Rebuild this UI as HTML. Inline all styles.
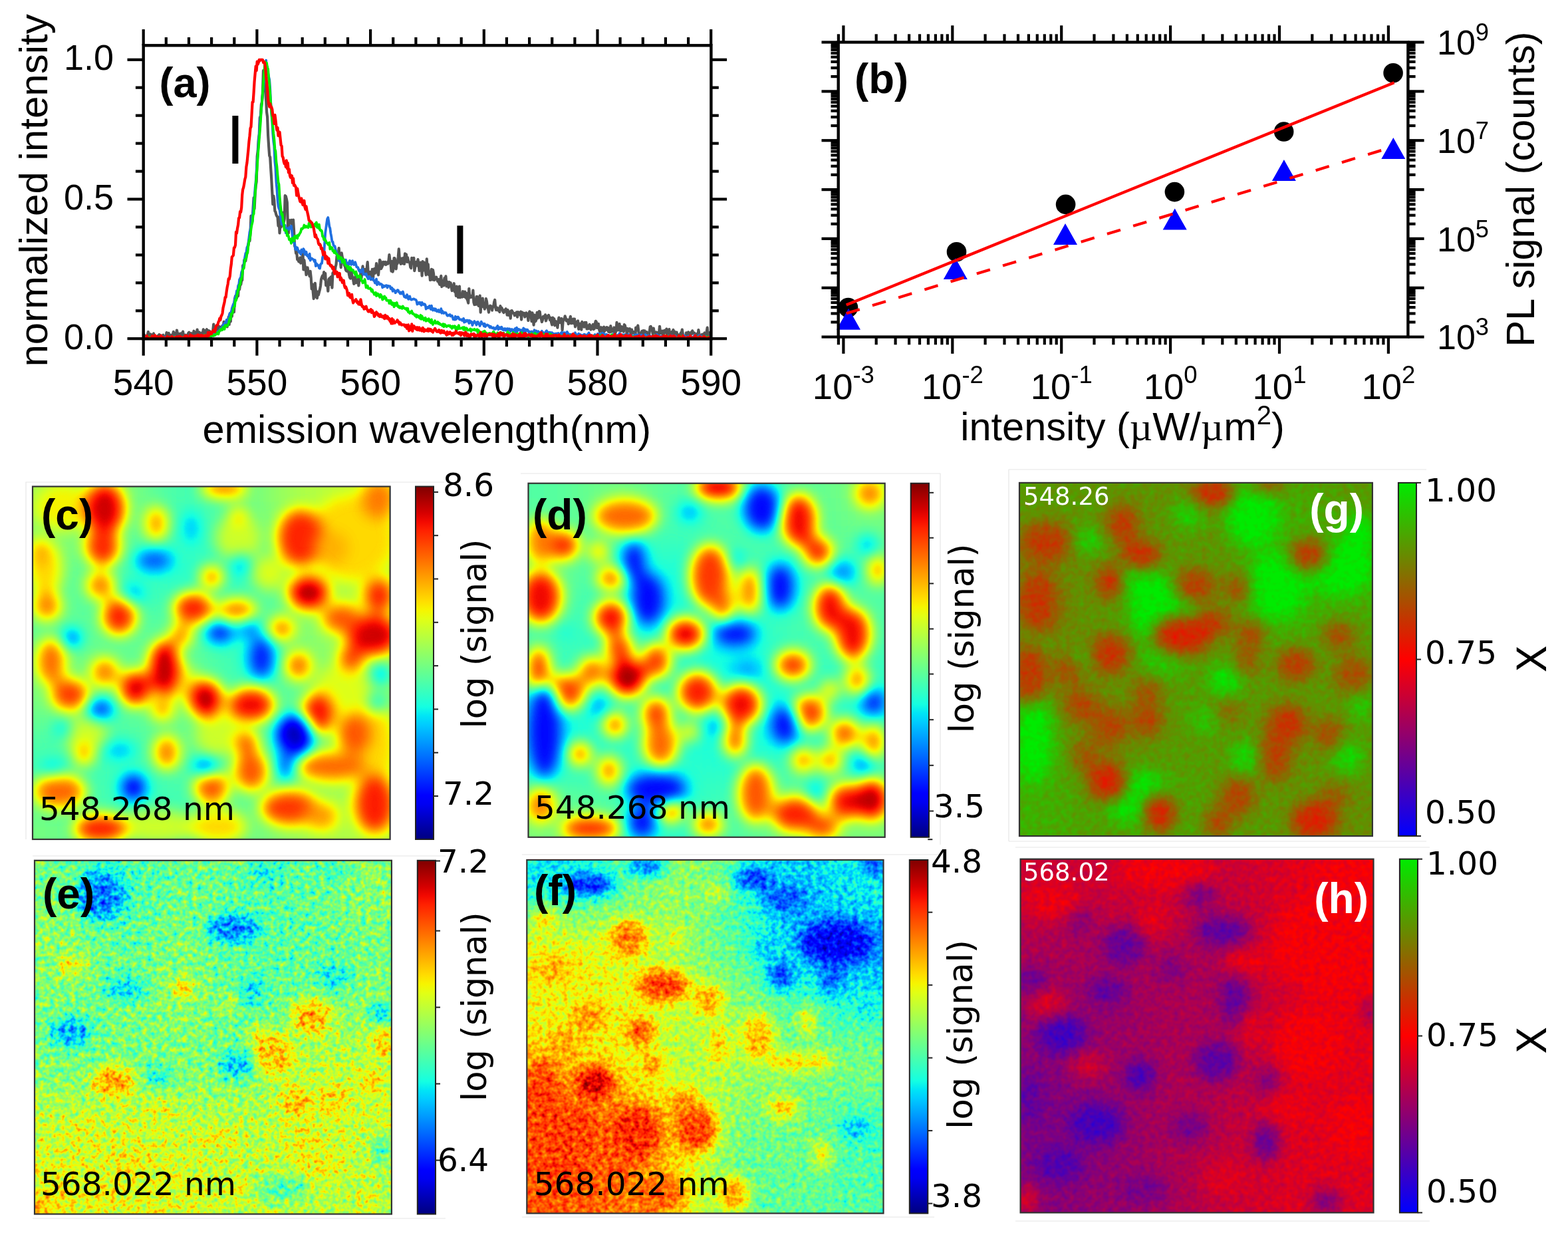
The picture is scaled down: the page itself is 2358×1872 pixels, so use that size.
<!DOCTYPE html>
<html><head><meta charset="utf-8"><title>Figure</title>
<style>html,body{margin:0;padding:0;background:#fff;width:2358px;height:1872px;overflow:hidden}svg{display:block}</style>
</head><body>
<svg width="2358" height="1872" viewBox="0 0 2358 1872">
<rect width="2358" height="1872" fill="#fff"/>
<g>
<path d="M215.7,504.2 L216.7,503.0 L217.7,505.2 L218.8,507.6 L219.8,505.9 L220.8,508.0 L221.8,503.9 L222.9,499.0 L223.9,506.1 L224.9,506.6 L225.9,502.3 L227.0,502.8 L228.0,503.8 L229.0,507.7 L230.0,504.3 L231.1,501.5 L232.1,508.0 L233.1,505.9 L234.1,508.0 L235.2,508.0 L236.2,508.0 L237.2,505.1 L238.2,508.0 L239.3,503.1 L240.3,503.6 L241.3,504.9 L242.3,508.0 L243.4,506.2 L244.4,504.4 L245.4,503.7 L246.4,508.0 L247.5,506.0 L248.5,507.9 L249.5,507.3 L250.5,500.1 L251.5,507.3 L252.6,504.3 L253.6,500.8 L254.6,506.4 L255.6,504.6 L256.7,503.7 L257.7,503.9 L258.7,508.0 L259.7,503.9 L260.8,498.9 L261.8,508.0 L262.8,500.9 L263.8,503.7 L264.9,506.6 L265.9,496.5 L266.9,501.2 L267.9,508.0 L269.0,503.9 L270.0,501.9 L271.0,504.9 L272.0,501.5 L273.1,504.4 L274.1,501.6 L275.1,498.6 L276.1,506.8 L277.2,503.4 L278.2,505.9 L279.2,503.7 L280.2,508.0 L281.2,506.4 L282.3,504.9 L283.3,500.7 L284.3,499.7 L285.3,508.0 L286.4,506.8 L287.4,501.0 L288.4,508.0 L289.4,504.9 L290.5,503.3 L291.5,497.7 L292.5,499.7 L293.5,503.6 L294.6,503.6 L295.6,502.9 L296.6,495.5 L297.6,503.2 L298.7,502.5 L299.7,499.6 L300.7,501.4 L301.7,501.5 L302.8,505.2 L303.8,500.5 L304.8,502.2 L305.8,495.4 L306.9,497.4 L307.9,500.1 L308.9,497.1 L309.9,501.1 L311.0,495.2 L312.0,499.5 L313.0,496.9 L314.0,504.6 L315.0,497.6 L316.1,506.1 L317.1,507.4 L318.1,500.0 L319.1,502.0 L320.2,497.0 L321.2,487.6 L322.2,500.3 L323.2,498.9 L324.3,494.8 L325.3,493.0 L326.3,495.5 L327.3,495.1 L328.4,490.5 L329.4,490.8 L330.4,497.3 L331.4,492.5 L332.5,491.5 L333.5,496.0 L334.5,489.5 L335.5,493.8 L336.6,483.9 L337.6,486.1 L338.6,485.2 L339.6,487.1 L340.7,483.4 L341.7,491.3 L342.7,485.6 L343.7,476.7 L344.7,488.0 L345.8,471.3 L346.8,483.4 L347.8,468.9 L348.8,475.9 L349.9,463.7 L350.9,463.5 L351.9,469.3 L352.9,450.0 L354.0,445.2 L355.0,450.3 L356.0,447.9 L357.0,443.7 L358.1,445.1 L359.1,428.7 L360.1,435.3 L361.1,428.2 L362.2,427.9 L363.2,421.9 L364.2,421.2 L365.2,399.2 L366.3,403.7 L367.3,391.0 L368.3,392.5 L369.3,392.5 L370.4,384.9 L371.4,381.6 L372.4,372.4 L373.4,368.8 L374.5,361.2 L375.5,362.3 L376.5,350.9 L377.5,324.5 L378.5,335.7 L379.6,331.7 L380.6,313.4 L381.6,297.4 L382.6,314.0 L383.7,290.8 L384.7,278.8 L385.7,273.2 L386.7,235.2 L387.8,226.3 L388.8,209.7 L389.8,201.8 L390.8,177.3 L391.9,174.1 L392.9,157.2 L393.9,154.0 L394.9,142.3 L396.0,106.2 L397.0,129.7 L398.0,126.1 L399.0,134.0 L400.1,149.6 L401.1,168.6 L402.1,176.0 L403.1,203.4 L404.2,220.4 L405.2,234.2 L406.2,236.3 L407.2,253.2 L408.2,268.4 L409.3,288.9 L410.3,307.2 L411.3,294.6 L412.3,301.4 L413.4,317.4 L414.4,318.8 L415.4,323.0 L416.4,325.0 L417.5,326.6 L418.5,339.7 L419.5,326.6 L420.5,350.5 L421.6,336.4 L422.6,341.5 L423.6,337.9 L424.6,323.4 L425.7,319.7 L426.7,334.1 L427.7,329.4 L428.7,294.2 L429.8,295.1 L430.8,299.0 L431.8,304.3 L432.8,336.8 L433.9,350.5 L434.9,331.1 L435.9,332.1 L436.9,333.8 L438.0,330.8 L439.0,337.3 L440.0,341.9 L441.0,330.5 L442.0,345.9 L443.1,369.6 L444.1,372.4 L445.1,380.8 L446.1,378.8 L447.2,390.2 L448.2,389.3 L449.2,393.1 L450.2,393.7 L451.3,387.4 L452.3,395.7 L453.3,389.1 L454.3,390.6 L455.4,380.3 L456.4,405.5 L457.4,391.1 L458.4,399.9 L459.5,401.4 L460.5,413.2 L461.5,408.4 L462.5,402.3 L463.6,409.9 L464.6,410.8 L465.6,415.3 L466.6,407.8 L467.7,417.6 L468.7,434.4 L469.7,427.4 L470.7,438.3 L471.7,449.1 L472.8,434.6 L473.8,425.8 L474.8,436.6 L475.8,446.9 L476.9,448.2 L477.9,438.6 L478.9,443.4 L479.9,439.3 L481.0,435.1 L482.0,429.8 L483.0,420.1 L484.0,416.9 L485.1,414.4 L486.1,418.0 L487.1,409.2 L488.1,419.8 L489.2,411.0 L490.2,429.2 L491.2,424.6 L492.2,426.5 L493.3,437.7 L494.3,420.3 L495.3,418.7 L496.3,427.8 L497.4,416.7 L498.4,416.0 L499.4,432.6 L500.4,410.5 L501.5,409.5 L502.5,405.4 L503.5,410.1 L504.5,401.5 L505.5,397.7 L506.6,385.0 L507.6,387.8 L508.6,387.1 L509.6,373.0 L510.7,389.1 L511.7,390.0 L512.7,402.1 L513.7,380.4 L514.8,386.8 L515.8,389.2 L516.8,393.0 L517.8,399.0 L518.9,400.4 L519.9,405.7 L520.9,407.4 L521.9,407.8 L523.0,400.1 L524.0,407.6 L525.0,412.7 L526.0,417.2 L527.1,418.6 L528.1,404.9 L529.1,413.2 L530.1,417.1 L531.2,420.8 L532.2,426.9 L533.2,421.1 L534.2,416.1 L535.3,425.3 L536.3,424.9 L537.3,423.4 L538.3,419.9 L539.3,429.5 L540.4,419.3 L541.4,421.9 L542.4,409.1 L543.4,418.6 L544.5,408.2 L545.5,400.4 L546.5,411.3 L547.5,411.8 L548.6,405.1 L549.6,405.3 L550.6,412.8 L551.6,403.8 L552.7,394.2 L553.7,410.3 L554.7,410.7 L555.7,417.1 L556.8,408.8 L557.8,420.1 L558.8,419.9 L559.8,404.9 L560.9,420.2 L561.9,407.9 L562.9,404.1 L563.9,410.8 L565.0,407.2 L566.0,396.1 L567.0,408.9 L568.0,409.9 L569.0,413.4 L570.1,402.3 L571.1,390.8 L572.1,392.7 L573.1,404.1 L574.2,401.9 L575.2,399.5 L576.2,393.9 L577.2,397.4 L578.3,394.5 L579.3,393.9 L580.3,398.0 L581.3,396.2 L582.4,394.5 L583.4,396.5 L584.4,392.5 L585.4,383.0 L586.5,391.9 L587.5,395.6 L588.5,407.7 L589.5,392.9 L590.6,408.6 L591.6,404.4 L592.6,388.0 L593.6,388.5 L594.7,394.0 L595.7,404.4 L596.7,394.5 L597.7,396.1 L598.8,386.3 L599.8,374.4 L600.8,388.2 L601.8,394.7 L602.8,396.9 L603.9,388.5 L604.9,388.8 L605.9,396.1 L606.9,387.6 L608.0,397.0 L609.0,381.4 L610.0,382.2 L611.0,382.5 L612.1,393.9 L613.1,387.3 L614.1,392.3 L615.1,394.5 L616.2,394.6 L617.2,401.7 L618.2,403.2 L619.2,387.9 L620.3,395.2 L621.3,392.8 L622.3,387.8 L623.3,407.2 L624.4,401.0 L625.4,394.8 L626.4,393.7 L627.4,399.5 L628.5,390.2 L629.5,396.6 L630.5,407.1 L631.5,405.9 L632.5,394.6 L633.6,397.7 L634.6,414.6 L635.6,393.1 L636.6,398.9 L637.7,394.6 L638.7,407.0 L639.7,407.1 L640.7,413.4 L641.8,389.4 L642.8,408.4 L643.8,397.3 L644.8,413.0 L645.9,408.3 L646.9,421.2 L647.9,413.3 L648.9,404.9 L650.0,420.5 L651.0,405.8 L652.0,411.4 L653.0,421.2 L654.1,418.3 L655.1,418.7 L656.1,416.6 L657.1,420.4 L658.2,422.9 L659.2,420.1 L660.2,425.4 L661.2,427.7 L662.3,420.3 L663.3,414.8 L664.3,431.1 L665.3,421.8 L666.3,426.6 L667.4,429.3 L668.4,418.1 L669.4,427.6 L670.4,415.3 L671.5,430.5 L672.5,423.6 L673.5,428.2 L674.5,432.1 L675.6,424.2 L676.6,429.5 L677.6,425.3 L678.6,430.1 L679.7,437.2 L680.7,431.6 L681.7,431.3 L682.7,426.2 L683.8,438.5 L684.8,433.7 L685.8,444.8 L686.8,430.7 L687.9,442.1 L688.9,447.2 L689.9,437.0 L690.9,430.5 L692.0,447.3 L693.0,445.2 L694.0,443.7 L695.0,446.7 L696.0,438.1 L697.1,445.9 L698.1,446.0 L699.1,438.7 L700.1,447.3 L701.2,440.6 L702.2,449.5 L703.2,451.4 L704.2,455.6 L705.3,434.0 L706.3,447.5 L707.3,444.6 L708.3,446.8 L709.4,446.1 L710.4,447.2 L711.4,436.7 L712.4,454.6 L713.5,458.1 L714.5,455.4 L715.5,457.7 L716.5,446.0 L717.6,446.1 L718.6,457.0 L719.6,459.9 L720.6,454.4 L721.7,444.7 L722.7,469.6 L723.7,450.7 L724.7,460.4 L725.8,448.7 L726.8,461.4 L727.8,457.3 L728.8,464.7 L729.8,462.2 L730.9,449.2 L731.9,452.9 L732.9,460.3 L733.9,463.5 L735.0,469.6 L736.0,461.4 L737.0,459.7 L738.0,460.2 L739.1,460.6 L740.1,466.6 L741.1,460.9 L742.1,461.0 L743.2,453.9 L744.2,451.0 L745.2,462.4 L746.2,466.2 L747.3,462.5 L748.3,465.8 L749.3,466.8 L750.3,463.3 L751.4,469.0 L752.4,460.2 L753.4,464.3 L754.4,462.7 L755.5,465.3 L756.5,468.6 L757.5,470.0 L758.5,466.4 L759.6,468.4 L760.6,464.4 L761.6,465.9 L762.6,473.6 L763.6,466.1 L764.7,474.0 L765.7,470.3 L766.7,468.8 L767.7,478.7 L768.8,467.3 L769.8,467.2 L770.8,469.2 L771.8,470.8 L772.9,470.8 L773.9,474.3 L774.9,470.8 L775.9,472.6 L777.0,469.4 L778.0,476.6 L779.0,469.2 L780.0,469.9 L781.1,471.7 L782.1,473.6 L783.1,468.6 L784.1,480.6 L785.2,469.6 L786.2,471.0 L787.2,471.1 L788.2,470.8 L789.3,476.5 L790.3,474.7 L791.3,470.3 L792.3,471.5 L793.3,472.9 L794.4,482.0 L795.4,471.5 L796.4,468.4 L797.4,469.4 L798.5,473.6 L799.5,483.1 L800.5,470.3 L801.5,476.1 L802.6,488.6 L803.6,473.7 L804.6,483.5 L805.6,482.7 L806.7,479.5 L807.7,469.8 L808.7,478.5 L809.7,475.3 L810.8,468.0 L811.8,468.9 L812.8,477.8 L813.8,478.6 L814.9,484.0 L815.9,481.3 L816.9,475.8 L817.9,476.1 L819.0,477.7 L820.0,473.4 L821.0,482.5 L822.0,479.1 L823.1,475.3 L824.1,476.2 L825.1,473.9 L826.1,477.5 L827.1,481.2 L828.2,478.0 L829.2,485.0 L830.2,488.4 L831.2,477.5 L832.3,480.8 L833.3,479.2 L834.3,489.3 L835.3,482.9 L836.4,484.2 L837.4,485.7 L838.4,492.7 L839.4,483.4 L840.5,477.5 L841.5,480.2 L842.5,485.2 L843.5,482.5 L844.6,478.9 L845.6,496.3 L846.6,483.6 L847.6,480.5 L848.7,480.1 L849.7,475.3 L850.7,478.3 L851.7,482.5 L852.8,482.8 L853.8,480.6 L854.8,487.2 L855.8,485.0 L856.8,480.7 L857.9,475.8 L858.9,486.2 L859.9,485.9 L860.9,484.9 L862.0,479.6 L863.0,486.4 L864.0,479.5 L865.0,491.3 L866.1,487.8 L867.1,488.0 L868.1,483.6 L869.1,482.6 L870.2,494.9 L871.2,492.2 L872.2,486.5 L873.2,491.4 L874.3,495.7 L875.3,483.9 L876.3,486.6 L877.3,486.9 L878.4,491.6 L879.4,484.8 L880.4,490.9 L881.4,484.9 L882.5,494.4 L883.5,494.3 L884.5,489.7 L885.5,494.0 L886.6,487.9 L887.6,490.0 L888.6,495.6 L889.6,491.3 L890.6,493.4 L891.7,487.9 L892.7,495.1 L893.7,494.4 L894.7,487.2 L895.8,482.8 L896.8,484.1 L897.8,493.0 L898.8,492.5 L899.9,486.8 L900.9,494.5 L901.9,498.4 L902.9,493.7 L904.0,492.2 L905.0,498.0 L906.0,501.7 L907.0,500.8 L908.1,491.6 L909.1,497.9 L910.1,495.3 L911.1,493.8 L912.2,492.1 L913.2,496.3 L914.2,492.7 L915.2,498.9 L916.3,496.7 L917.3,499.6 L918.3,490.2 L919.3,495.4 L920.3,498.6 L921.4,497.0 L922.4,496.4 L923.4,492.5 L924.4,502.6 L925.5,500.2 L926.5,497.4 L927.5,484.8 L928.5,491.7 L929.6,496.4 L930.6,492.9 L931.6,487.1 L932.6,497.2 L933.7,497.8 L934.7,491.0 L935.7,494.2 L936.7,493.5 L937.8,498.7 L938.8,488.2 L939.8,489.2 L940.8,494.3 L941.9,493.8 L942.9,505.6 L943.9,494.2 L944.9,497.8 L946.0,495.2 L947.0,494.2 L948.0,498.7 L949.0,504.5 L950.1,495.7 L951.1,500.6 L952.1,498.9 L953.1,500.1 L954.1,499.1 L955.2,507.5 L956.2,492.5 L957.2,496.7 L958.2,493.1 L959.3,489.5 L960.3,497.9 L961.3,505.7 L962.3,502.0 L963.4,503.3 L964.4,500.4 L965.4,498.0 L966.4,506.9 L967.5,497.1 L968.5,505.0 L969.5,497.4 L970.5,499.2 L971.6,500.1 L972.6,499.2 L973.6,501.2 L974.6,501.6 L975.7,506.1 L976.7,499.3 L977.7,491.5 L978.7,491.0 L979.8,493.8 L980.8,496.5 L981.8,502.3 L982.8,493.6 L983.8,499.9 L984.9,500.0 L985.9,501.0 L986.9,499.5 L987.9,501.7 L989.0,500.3 L990.0,504.6 L991.0,501.7 L992.0,490.8 L993.1,500.6 L994.1,501.3 L995.1,498.2 L996.1,497.6 L997.2,505.1 L998.2,501.5 L999.2,496.9 L1000.2,499.7 L1001.3,500.4 L1002.3,494.6 L1003.3,503.8 L1004.3,500.7 L1005.4,503.2 L1006.4,495.1 L1007.4,508.0 L1008.4,504.1 L1009.5,503.6 L1010.5,498.8 L1011.5,499.1 L1012.5,496.0 L1013.6,508.0 L1014.6,498.7 L1015.6,502.9 L1016.6,504.4 L1017.6,499.6 L1018.7,505.5 L1019.7,508.0 L1020.7,503.3 L1021.7,507.9 L1022.8,504.5 L1023.8,500.4 L1024.8,500.7 L1025.8,495.6 L1026.9,502.8 L1027.9,508.0 L1028.9,505.0 L1029.9,505.7 L1031.0,506.9 L1032.0,500.3 L1033.0,504.7 L1034.0,508.0 L1035.1,499.4 L1036.1,502.6 L1037.1,500.8 L1038.1,501.8 L1039.2,499.7 L1040.2,502.1 L1041.2,497.4 L1042.2,500.6 L1043.3,500.8 L1044.3,500.7 L1045.3,508.0 L1046.3,503.1 L1047.4,503.5 L1048.4,501.6 L1049.4,507.9 L1050.4,496.0 L1051.4,502.1 L1052.5,507.3 L1053.5,508.0 L1054.5,503.7 L1055.5,503.0 L1056.6,505.5 L1057.6,502.3 L1058.6,505.2 L1059.6,500.5 L1060.7,505.6 L1061.7,502.9 L1062.7,498.9 L1063.7,492.6 L1064.8,506.8 L1065.8,504.7 L1066.8,506.2 L1067.8,499.8 L1068.9,507.4" fill="none" stroke="#555555" stroke-width="4.2" stroke-linejoin="round"/>
<path d="M215.7,508.0 L216.7,508.0 L217.7,508.0 L218.8,508.0 L219.8,508.0 L220.8,508.0 L221.8,508.0 L222.9,508.0 L223.9,508.0 L224.9,508.0 L225.9,508.0 L227.0,508.0 L228.0,507.4 L229.0,507.7 L230.0,508.0 L231.1,508.0 L232.1,507.6 L233.1,508.0 L234.1,508.0 L235.2,508.0 L236.2,506.6 L237.2,508.0 L238.2,506.9 L239.3,508.0 L240.3,507.2 L241.3,508.0 L242.3,508.0 L243.4,505.4 L244.4,507.4 L245.4,508.0 L246.4,508.0 L247.5,507.8 L248.5,506.8 L249.5,508.0 L250.5,508.0 L251.5,508.0 L252.6,508.0 L253.6,508.0 L254.6,506.7 L255.6,507.8 L256.7,507.2 L257.7,508.0 L258.7,507.2 L259.7,505.8 L260.8,507.3 L261.8,507.8 L262.8,508.0 L263.8,506.1 L264.9,508.0 L265.9,508.0 L266.9,507.6 L267.9,507.3 L269.0,508.0 L270.0,507.7 L271.0,508.0 L272.0,507.9 L273.1,508.0 L274.1,508.0 L275.1,508.0 L276.1,507.1 L277.2,508.0 L278.2,508.0 L279.2,507.3 L280.2,508.0 L281.2,507.8 L282.3,508.0 L283.3,506.7 L284.3,505.4 L285.3,505.7 L286.4,508.0 L287.4,507.2 L288.4,507.9 L289.4,507.9 L290.5,506.2 L291.5,508.0 L292.5,506.8 L293.5,508.0 L294.6,506.4 L295.6,507.8 L296.6,508.0 L297.6,507.6 L298.7,507.1 L299.7,507.9 L300.7,507.4 L301.7,508.0 L302.8,508.0 L303.8,506.1 L304.8,506.0 L305.8,506.4 L306.9,506.2 L307.9,504.7 L308.9,506.3 L309.9,506.3 L311.0,505.3 L312.0,503.3 L313.0,506.3 L314.0,502.7 L315.0,504.8 L316.1,505.1 L317.1,501.7 L318.1,503.2 L319.1,504.5 L320.2,502.9 L321.2,500.9 L322.2,500.3 L323.2,502.2 L324.3,500.8 L325.3,500.0 L326.3,501.3 L327.3,498.8 L328.4,498.2 L329.4,497.8 L330.4,496.6 L331.4,494.7 L332.5,493.6 L333.5,493.4 L334.5,492.0 L335.5,488.5 L336.6,488.8 L337.6,486.6 L338.6,484.9 L339.6,484.8 L340.7,480.9 L341.7,484.8 L342.7,481.0 L343.7,480.5 L344.7,473.7 L345.8,470.9 L346.8,474.3 L347.8,469.5 L348.8,463.6 L349.9,460.3 L350.9,457.3 L351.9,455.8 L352.9,451.0 L354.0,446.4 L355.0,443.6 L356.0,437.2 L357.0,439.8 L358.1,429.6 L359.1,428.9 L360.1,420.5 L361.1,418.8 L362.2,416.1 L363.2,409.0 L364.2,407.5 L365.2,403.1 L366.3,400.2 L367.3,392.3 L368.3,386.7 L369.3,381.0 L370.4,379.4 L371.4,372.1 L372.4,370.2 L373.4,365.7 L374.5,357.0 L375.5,348.8 L376.5,345.4 L377.5,338.2 L378.5,331.1 L379.6,323.5 L380.6,319.2 L381.6,305.1 L382.6,296.4 L383.7,281.4 L384.7,272.5 L385.7,256.5 L386.7,243.5 L387.8,232.4 L388.8,211.3 L389.8,202.8 L390.8,184.8 L391.9,173.8 L392.9,165.5 L393.9,153.7 L394.9,140.5 L396.0,131.3 L397.0,120.9 L398.0,111.7 L399.0,106.5 L400.1,90.6 L401.1,103.4 L402.1,100.2 L403.1,109.9 L404.2,115.8 L405.2,119.9 L406.2,133.3 L407.2,154.1 L408.2,170.2 L409.3,183.0 L410.3,201.2 L411.3,212.7 L412.3,219.8 L413.4,243.0 L414.4,252.9 L415.4,273.9 L416.4,284.1 L417.5,300.8 L418.5,310.2 L419.5,313.6 L420.5,315.5 L421.6,324.8 L422.6,330.2 L423.6,337.0 L424.6,334.7 L425.7,338.7 L426.7,337.6 L427.7,341.7 L428.7,338.8 L429.8,350.2 L430.8,347.7 L431.8,343.2 L432.8,345.1 L433.9,344.8 L434.9,342.1 L435.9,343.6 L436.9,341.2 L438.0,339.7 L439.0,347.5 L440.0,357.7 L441.0,361.5 L442.0,364.7 L443.1,365.7 L444.1,374.6 L445.1,375.4 L446.1,372.0 L447.2,372.5 L448.2,376.0 L449.2,378.2 L450.2,379.7 L451.3,378.1 L452.3,382.3 L453.3,375.5 L454.3,379.3 L455.4,377.1 L456.4,374.2 L457.4,376.4 L458.4,382.7 L459.5,378.6 L460.5,378.6 L461.5,383.9 L462.5,385.2 L463.6,383.9 L464.6,388.2 L465.6,381.6 L466.6,391.6 L467.7,389.2 L468.7,388.4 L469.7,389.5 L470.7,389.8 L471.7,390.7 L472.8,393.1 L473.8,391.1 L474.8,400.0 L475.8,396.2 L476.9,399.1 L477.9,398.3 L478.9,399.3 L479.9,403.1 L481.0,403.7 L482.0,397.8 L483.0,396.3 L484.0,396.0 L485.1,387.1 L486.1,383.8 L487.1,382.9 L488.1,367.2 L489.2,350.3 L490.2,343.2 L491.2,335.7 L492.2,329.1 L493.3,327.1 L494.3,333.0 L495.3,340.6 L496.3,342.9 L497.4,351.0 L498.4,356.3 L499.4,363.3 L500.4,363.5 L501.5,368.7 L502.5,370.0 L503.5,370.1 L504.5,374.9 L505.5,377.7 L506.6,381.1 L507.6,384.9 L508.6,388.5 L509.6,392.0 L510.7,390.1 L511.7,394.6 L512.7,389.1 L513.7,392.3 L514.8,394.3 L515.8,393.9 L516.8,394.5 L517.8,392.7 L518.9,394.9 L519.9,390.7 L520.9,395.4 L521.9,399.0 L523.0,395.6 L524.0,398.7 L525.0,394.3 L526.0,391.9 L527.1,393.0 L528.1,397.8 L529.1,397.2 L530.1,392.2 L531.2,396.5 L532.2,398.1 L533.2,396.6 L534.2,394.3 L535.3,397.8 L536.3,401.4 L537.3,401.8 L538.3,402.1 L539.3,405.8 L540.4,407.7 L541.4,406.0 L542.4,409.2 L543.4,408.1 L544.5,408.6 L545.5,404.5 L546.5,412.5 L547.5,411.8 L548.6,412.8 L549.6,412.3 L550.6,411.6 L551.6,415.5 L552.7,416.9 L553.7,419.3 L554.7,418.3 L555.7,415.7 L556.8,417.4 L557.8,420.3 L558.8,419.5 L559.8,419.2 L560.9,418.8 L561.9,421.8 L562.9,421.7 L563.9,425.6 L565.0,424.8 L566.0,419.5 L567.0,428.2 L568.0,424.9 L569.0,424.3 L570.1,426.1 L571.1,427.7 L572.1,426.7 L573.1,427.2 L574.2,427.9 L575.2,432.3 L576.2,429.2 L577.2,431.1 L578.3,430.9 L579.3,429.7 L580.3,429.3 L581.3,429.2 L582.4,432.5 L583.4,430.0 L584.4,429.9 L585.4,430.4 L586.5,430.3 L587.5,434.0 L588.5,434.5 L589.5,432.8 L590.6,437.8 L591.6,435.0 L592.6,436.9 L593.6,437.0 L594.7,440.3 L595.7,438.9 L596.7,437.6 L597.7,436.2 L598.8,436.4 L599.8,439.0 L600.8,439.7 L601.8,441.5 L602.8,439.6 L603.9,441.5 L604.9,440.3 L605.9,438.6 L606.9,442.8 L608.0,446.3 L609.0,445.6 L610.0,447.4 L611.0,447.5 L612.1,443.1 L613.1,445.9 L614.1,449.9 L615.1,446.2 L616.2,445.6 L617.2,449.4 L618.2,450.6 L619.2,450.5 L620.3,449.9 L621.3,449.8 L622.3,449.3 L623.3,449.9 L624.4,450.5 L625.4,450.8 L626.4,452.7 L627.4,457.5 L628.5,455.4 L629.5,455.0 L630.5,456.7 L631.5,454.7 L632.5,457.5 L633.6,459.0 L634.6,454.9 L635.6,456.8 L636.6,458.0 L637.7,457.1 L638.7,457.3 L639.7,459.0 L640.7,464.7 L641.8,461.8 L642.8,461.8 L643.8,463.1 L644.8,461.4 L645.9,459.9 L646.9,463.4 L647.9,465.1 L648.9,459.6 L650.0,464.6 L651.0,466.5 L652.0,464.2 L653.0,464.2 L654.1,466.7 L655.1,464.4 L656.1,467.1 L657.1,468.3 L658.2,466.7 L659.2,466.1 L660.2,469.0 L661.2,467.7 L662.3,468.9 L663.3,464.1 L664.3,470.8 L665.3,467.5 L666.3,470.4 L667.4,471.0 L668.4,469.9 L669.4,470.2 L670.4,470.1 L671.5,472.3 L672.5,474.4 L673.5,474.8 L674.5,473.6 L675.6,474.0 L676.6,473.1 L677.6,475.4 L678.6,474.8 L679.7,474.6 L680.7,477.2 L681.7,480.3 L682.7,480.0 L683.8,480.7 L684.8,475.8 L685.8,480.2 L686.8,476.9 L687.9,478.3 L688.9,476.6 L689.9,478.1 L690.9,480.2 L692.0,480.6 L693.0,480.4 L694.0,480.5 L695.0,481.9 L696.0,481.3 L697.1,478.9 L698.1,484.6 L699.1,481.6 L700.1,483.8 L701.2,482.2 L702.2,481.4 L703.2,483.1 L704.2,482.0 L705.3,486.1 L706.3,482.0 L707.3,485.0 L708.3,483.3 L709.4,484.2 L710.4,489.0 L711.4,486.3 L712.4,484.9 L713.5,483.1 L714.5,485.3 L715.5,485.6 L716.5,488.6 L717.6,484.3 L718.6,483.9 L719.6,486.9 L720.6,487.5 L721.7,490.0 L722.7,486.2 L723.7,483.6 L724.7,486.9 L725.8,486.3 L726.8,487.6 L727.8,490.2 L728.8,486.8 L729.8,491.1 L730.9,489.7 L731.9,489.1 L732.9,488.4 L733.9,489.4 L735.0,489.6 L736.0,491.6 L737.0,492.6 L738.0,490.8 L739.1,492.2 L740.1,493.3 L741.1,493.4 L742.1,492.5 L743.2,494.8 L744.2,494.2 L745.2,494.8 L746.2,492.3 L747.3,492.2 L748.3,490.0 L749.3,495.5 L750.3,494.5 L751.4,492.3 L752.4,494.2 L753.4,494.6 L754.4,491.7 L755.5,494.8 L756.5,496.1 L757.5,496.4 L758.5,494.1 L759.6,494.2 L760.6,496.8 L761.6,496.3 L762.6,494.2 L763.6,494.2 L764.7,496.1 L765.7,494.4 L766.7,494.6 L767.7,498.1 L768.8,496.0 L769.8,495.1 L770.8,496.6 L771.8,499.0 L772.9,496.4 L773.9,495.0 L774.9,493.9 L775.9,499.5 L777.0,492.6 L778.0,498.1 L779.0,495.2 L780.0,494.9 L781.1,495.4 L782.1,496.7 L783.1,498.6 L784.1,496.2 L785.2,498.2 L786.2,500.9 L787.2,493.3 L788.2,496.5 L789.3,495.0 L790.3,499.0 L791.3,495.7 L792.3,495.6 L793.3,495.8 L794.4,498.1 L795.4,499.9 L796.4,498.5 L797.4,501.5 L798.5,500.9 L799.5,498.4 L800.5,500.1 L801.5,499.0 L802.6,499.0 L803.6,496.3 L804.6,497.2 L805.6,499.2 L806.7,497.6 L807.7,500.4 L808.7,499.9 L809.7,498.3 L810.8,501.3 L811.8,500.1 L812.8,501.6 L813.8,499.7 L814.9,497.7 L815.9,501.0 L816.9,499.7 L817.9,501.4 L819.0,501.8 L820.0,502.0 L821.0,498.3 L822.0,497.2 L823.1,499.8 L824.1,501.5 L825.1,499.7 L826.1,501.1 L827.1,499.7 L828.2,500.4 L829.2,500.5 L830.2,500.1 L831.2,501.8 L832.3,501.7 L833.3,503.5 L834.3,501.9 L835.3,503.2 L836.4,501.6 L837.4,502.8 L838.4,501.4 L839.4,501.0 L840.5,503.6 L841.5,502.8 L842.5,503.1 L843.5,500.9 L844.6,499.7 L845.6,500.9 L846.6,502.6 L847.6,500.2 L848.7,504.3 L849.7,500.3 L850.7,503.3 L851.7,506.1 L852.8,499.0 L853.8,500.5 L854.8,504.0 L855.8,502.5 L856.8,503.1 L857.9,502.7 L858.9,504.9 L859.9,503.9 L860.9,502.5 L862.0,502.9 L863.0,501.7 L864.0,503.2 L865.0,500.3 L866.1,504.3 L867.1,503.1 L868.1,505.9 L869.1,505.1 L870.2,501.7 L871.2,504.7 L872.2,502.8 L873.2,503.6 L874.3,504.9 L875.3,504.0 L876.3,504.3 L877.3,504.3 L878.4,502.7 L879.4,502.8 L880.4,504.4 L881.4,504.9 L882.5,503.4 L883.5,503.9 L884.5,502.4 L885.5,500.4 L886.6,502.7 L887.6,503.9 L888.6,504.1 L889.6,505.0 L890.6,505.1 L891.7,505.2 L892.7,504.5 L893.7,504.5 L894.7,503.1 L895.8,504.5 L896.8,504.3 L897.8,505.6 L898.8,502.0 L899.9,503.5 L900.9,501.8 L901.9,503.1 L902.9,502.3 L904.0,504.5 L905.0,503.3 L906.0,500.8 L907.0,505.8 L908.1,502.8 L909.1,502.2 L910.1,503.8 L911.1,503.4 L912.2,502.8 L913.2,505.3 L914.2,503.9 L915.2,505.6 L916.3,505.4 L917.3,505.3 L918.3,504.7 L919.3,504.4 L920.3,504.0 L921.4,506.4 L922.4,502.1 L923.4,503.1 L924.4,503.7 L925.5,505.2 L926.5,504.8 L927.5,504.0 L928.5,504.2 L929.6,507.0 L930.6,503.8 L931.6,501.1 L932.6,507.2 L933.7,503.6 L934.7,504.4 L935.7,505.1 L936.7,503.2 L937.8,506.5 L938.8,504.8 L939.8,503.1 L940.8,505.3 L941.9,505.6 L942.9,504.9 L943.9,505.7 L944.9,503.1 L946.0,506.3 L947.0,504.0 L948.0,506.8 L949.0,504.3 L950.1,505.3 L951.1,508.0 L952.1,505.2 L953.1,506.6 L954.1,505.8 L955.2,503.3 L956.2,506.7 L957.2,506.7 L958.2,503.5 L959.3,505.2 L960.3,503.4 L961.3,504.9 L962.3,506.5 L963.4,505.5 L964.4,503.8 L965.4,504.2 L966.4,505.4 L967.5,505.4 L968.5,505.6 L969.5,506.2 L970.5,503.0 L971.6,505.5 L972.6,507.0 L973.6,506.2 L974.6,504.6 L975.7,504.8 L976.7,505.8 L977.7,506.5 L978.7,505.6 L979.8,507.8 L980.8,507.3 L981.8,504.7 L982.8,506.3 L983.8,505.2 L984.9,504.2 L985.9,504.9 L986.9,505.7 L987.9,503.1 L989.0,505.0 L990.0,506.3 L991.0,504.9 L992.0,505.3 L993.1,507.0 L994.1,505.8 L995.1,506.1 L996.1,508.0 L997.2,506.2 L998.2,506.3 L999.2,506.5 L1000.2,508.0 L1001.3,506.5 L1002.3,506.1 L1003.3,505.9 L1004.3,507.5 L1005.4,505.3 L1006.4,507.6 L1007.4,506.4 L1008.4,504.5 L1009.5,507.0 L1010.5,506.8 L1011.5,504.8 L1012.5,506.7 L1013.6,506.6 L1014.6,505.9 L1015.6,504.9 L1016.6,508.0 L1017.6,507.3 L1018.7,507.5 L1019.7,507.7 L1020.7,507.4 L1021.7,507.4 L1022.8,506.0 L1023.8,507.5 L1024.8,506.2 L1025.8,505.9 L1026.9,507.3 L1027.9,506.3 L1028.9,504.4 L1029.9,506.1 L1031.0,507.3 L1032.0,506.6 L1033.0,507.7 L1034.0,506.2 L1035.1,505.5 L1036.1,507.6 L1037.1,506.8 L1038.1,505.2 L1039.2,507.2 L1040.2,506.4 L1041.2,507.9 L1042.2,507.7 L1043.3,507.3 L1044.3,504.1 L1045.3,507.2 L1046.3,507.4 L1047.4,507.4 L1048.4,507.0 L1049.4,506.0 L1050.4,506.6 L1051.4,504.4 L1052.5,506.6 L1053.5,505.1 L1054.5,506.5 L1055.5,506.2 L1056.6,508.0 L1057.6,507.1 L1058.6,507.0 L1059.6,507.2 L1060.7,508.0 L1061.7,505.9 L1062.7,507.5 L1063.7,507.5 L1064.8,507.3 L1065.8,507.3 L1066.8,506.6 L1067.8,508.0 L1068.9,508.0" fill="none" stroke="#1f6fe0" stroke-width="3.8" stroke-linejoin="round"/>
<path d="M215.7,508.0 L216.7,508.0 L217.7,508.0 L218.8,508.0 L219.8,508.0 L220.8,508.0 L221.8,507.0 L222.9,508.0 L223.9,506.6 L224.9,507.4 L225.9,508.0 L227.0,507.4 L228.0,508.0 L229.0,508.0 L230.0,508.0 L231.1,508.0 L232.1,508.0 L233.1,508.0 L234.1,508.0 L235.2,508.0 L236.2,507.7 L237.2,508.0 L238.2,508.0 L239.3,508.0 L240.3,508.0 L241.3,508.0 L242.3,508.0 L243.4,508.0 L244.4,507.6 L245.4,507.6 L246.4,508.0 L247.5,508.0 L248.5,508.0 L249.5,507.7 L250.5,508.0 L251.5,506.8 L252.6,508.0 L253.6,508.0 L254.6,507.8 L255.6,507.0 L256.7,507.8 L257.7,507.0 L258.7,508.0 L259.7,506.8 L260.8,506.7 L261.8,508.0 L262.8,506.5 L263.8,507.9 L264.9,508.0 L265.9,508.0 L266.9,508.0 L267.9,507.2 L269.0,508.0 L270.0,507.4 L271.0,507.7 L272.0,507.8 L273.1,508.0 L274.1,508.0 L275.1,507.3 L276.1,508.0 L277.2,508.0 L278.2,508.0 L279.2,507.3 L280.2,508.0 L281.2,507.0 L282.3,508.0 L283.3,507.2 L284.3,508.0 L285.3,507.1 L286.4,508.0 L287.4,508.0 L288.4,505.4 L289.4,508.0 L290.5,508.0 L291.5,508.0 L292.5,508.0 L293.5,506.6 L294.6,506.0 L295.6,508.0 L296.6,508.0 L297.6,506.6 L298.7,506.7 L299.7,507.0 L300.7,506.6 L301.7,508.0 L302.8,507.8 L303.8,508.0 L304.8,508.0 L305.8,505.7 L306.9,507.5 L307.9,503.7 L308.9,506.1 L309.9,506.8 L311.0,504.8 L312.0,503.3 L313.0,504.7 L314.0,506.6 L315.0,504.4 L316.1,502.9 L317.1,505.1 L318.1,505.2 L319.1,502.7 L320.2,503.6 L321.2,505.0 L322.2,503.8 L323.2,504.1 L324.3,502.5 L325.3,502.5 L326.3,500.6 L327.3,500.3 L328.4,502.4 L329.4,498.7 L330.4,497.1 L331.4,496.7 L332.5,494.9 L333.5,496.3 L334.5,495.9 L335.5,492.2 L336.6,494.2 L337.6,494.9 L338.6,489.1 L339.6,490.9 L340.7,489.3 L341.7,490.0 L342.7,489.0 L343.7,486.5 L344.7,482.3 L345.8,478.2 L346.8,479.9 L347.8,471.8 L348.8,472.3 L349.9,469.2 L350.9,463.2 L351.9,461.7 L352.9,460.8 L354.0,450.4 L355.0,451.7 L356.0,445.6 L357.0,441.7 L358.1,435.3 L359.1,435.2 L360.1,428.2 L361.1,428.0 L362.2,420.0 L363.2,419.8 L364.2,414.3 L365.2,404.7 L366.3,403.7 L367.3,399.6 L368.3,390.1 L369.3,389.9 L370.4,388.1 L371.4,379.9 L372.4,380.0 L373.4,369.4 L374.5,362.5 L375.5,360.1 L376.5,353.6 L377.5,344.8 L378.5,338.4 L379.6,334.3 L380.6,323.4 L381.6,321.6 L382.6,304.1 L383.7,290.9 L384.7,277.4 L385.7,262.5 L386.7,253.6 L387.8,233.9 L388.8,222.1 L389.8,209.3 L390.8,197.5 L391.9,182.7 L392.9,163.5 L393.9,155.5 L394.9,140.0 L396.0,124.5 L397.0,112.4 L398.0,98.5 L399.0,92.9 L400.1,97.6 L401.1,94.9 L402.1,102.1 L403.1,104.0 L404.2,118.3 L405.2,127.5 L406.2,141.9 L407.2,155.6 L408.2,167.8 L409.3,178.8 L410.3,190.0 L411.3,200.7 L412.3,209.0 L413.4,224.0 L414.4,227.2 L415.4,243.0 L416.4,249.9 L417.5,263.2 L418.5,273.8 L419.5,277.5 L420.5,294.3 L421.6,307.1 L422.6,315.7 L423.6,323.1 L424.6,321.8 L425.7,332.3 L426.7,335.6 L427.7,346.0 L428.7,346.6 L429.8,347.5 L430.8,346.3 L431.8,354.4 L432.8,352.8 L433.9,355.3 L434.9,360.3 L435.9,359.5 L436.9,360.8 L438.0,365.8 L439.0,358.2 L440.0,358.1 L441.0,360.3 L442.0,362.3 L443.1,355.0 L444.1,357.8 L445.1,355.7 L446.1,354.4 L447.2,358.5 L448.2,353.4 L449.2,354.2 L450.2,352.0 L451.3,350.3 L452.3,348.3 L453.3,343.6 L454.3,344.4 L455.4,343.3 L456.4,341.8 L457.4,338.5 L458.4,341.9 L459.5,341.1 L460.5,340.1 L461.5,341.6 L462.5,340.7 L463.6,342.2 L464.6,335.6 L465.6,337.5 L466.6,340.0 L467.7,341.5 L468.7,335.6 L469.7,340.2 L470.7,341.1 L471.7,339.9 L472.8,339.7 L473.8,336.6 L474.8,340.1 L475.8,334.4 L476.9,341.9 L477.9,337.6 L478.9,343.0 L479.9,337.7 L481.0,345.4 L482.0,346.7 L483.0,346.3 L484.0,347.5 L485.1,355.6 L486.1,355.7 L487.1,360.4 L488.1,358.6 L489.2,361.0 L490.2,362.9 L491.2,365.0 L492.2,365.6 L493.3,367.7 L494.3,365.9 L495.3,364.7 L496.3,374.5 L497.4,371.3 L498.4,373.4 L499.4,372.4 L500.4,377.2 L501.5,376.6 L502.5,380.0 L503.5,377.1 L504.5,379.8 L505.5,381.8 L506.6,381.8 L507.6,384.5 L508.6,388.9 L509.6,385.1 L510.7,386.9 L511.7,389.0 L512.7,387.3 L513.7,387.8 L514.8,394.3 L515.8,394.6 L516.8,390.2 L517.8,391.5 L518.9,397.5 L519.9,399.6 L520.9,399.4 L521.9,400.1 L523.0,403.6 L524.0,400.9 L525.0,404.9 L526.0,405.8 L527.1,402.0 L528.1,406.6 L529.1,406.3 L530.1,405.7 L531.2,406.4 L532.2,410.0 L533.2,410.1 L534.2,413.1 L535.3,408.4 L536.3,411.9 L537.3,416.8 L538.3,415.4 L539.3,414.9 L540.4,416.4 L541.4,414.5 L542.4,416.6 L543.4,421.7 L544.5,421.8 L545.5,425.4 L546.5,423.2 L547.5,424.4 L548.6,420.0 L549.6,426.6 L550.6,432.3 L551.6,430.3 L552.7,429.7 L553.7,433.6 L554.7,433.8 L555.7,433.8 L556.8,433.3 L557.8,435.4 L558.8,438.0 L559.8,435.5 L560.9,439.3 L561.9,440.2 L562.9,442.8 L563.9,442.2 L565.0,439.9 L566.0,445.0 L567.0,442.5 L568.0,441.5 L569.0,444.3 L570.1,443.7 L571.1,447.0 L572.1,442.7 L573.1,443.8 L574.2,446.1 L575.2,450.6 L576.2,449.8 L577.2,446.4 L578.3,445.6 L579.3,448.9 L580.3,447.7 L581.3,451.9 L582.4,451.7 L583.4,451.9 L584.4,451.7 L585.4,456.1 L586.5,451.9 L587.5,451.8 L588.5,457.1 L589.5,458.0 L590.6,455.3 L591.6,457.7 L592.6,461.4 L593.6,455.9 L594.7,457.7 L595.7,459.4 L596.7,455.0 L597.7,459.2 L598.8,461.4 L599.8,460.3 L600.8,462.9 L601.8,462.9 L602.8,461.3 L603.9,463.5 L604.9,463.9 L605.9,460.5 L606.9,462.5 L608.0,463.1 L609.0,464.1 L610.0,464.7 L611.0,463.4 L612.1,466.6 L613.1,463.7 L614.1,469.3 L615.1,468.6 L616.2,471.1 L617.2,469.8 L618.2,468.7 L619.2,467.6 L620.3,471.9 L621.3,471.2 L622.3,472.4 L623.3,473.6 L624.4,474.9 L625.4,473.2 L626.4,476.9 L627.4,474.2 L628.5,474.9 L629.5,476.6 L630.5,477.7 L631.5,478.8 L632.5,473.8 L633.6,479.8 L634.6,475.4 L635.6,477.5 L636.6,479.7 L637.7,481.5 L638.7,478.4 L639.7,477.8 L640.7,482.7 L641.8,482.1 L642.8,480.2 L643.8,481.7 L644.8,479.3 L645.9,483.8 L646.9,482.3 L647.9,485.5 L648.9,480.4 L650.0,485.3 L651.0,488.0 L652.0,484.9 L653.0,485.2 L654.1,482.2 L655.1,486.1 L656.1,485.9 L657.1,485.3 L658.2,484.0 L659.2,486.9 L660.2,485.5 L661.2,486.6 L662.3,488.2 L663.3,487.9 L664.3,488.3 L665.3,490.1 L666.3,487.1 L667.4,491.4 L668.4,487.7 L669.4,488.2 L670.4,490.0 L671.5,491.2 L672.5,490.6 L673.5,489.7 L674.5,489.4 L675.6,490.3 L676.6,489.4 L677.6,491.9 L678.6,490.9 L679.7,493.8 L680.7,490.4 L681.7,491.5 L682.7,492.5 L683.8,490.3 L684.8,491.2 L685.8,496.6 L686.8,492.5 L687.9,494.9 L688.9,491.3 L689.9,489.3 L690.9,494.0 L692.0,493.3 L693.0,493.9 L694.0,493.2 L695.0,492.9 L696.0,492.2 L697.1,495.7 L698.1,492.1 L699.1,496.0 L700.1,494.4 L701.2,493.2 L702.2,494.1 L703.2,496.7 L704.2,496.5 L705.3,496.3 L706.3,495.9 L707.3,494.4 L708.3,498.1 L709.4,495.7 L710.4,495.7 L711.4,495.9 L712.4,496.2 L713.5,494.9 L714.5,496.6 L715.5,496.2 L716.5,496.8 L717.6,495.3 L718.6,500.7 L719.6,496.4 L720.6,498.7 L721.7,498.9 L722.7,500.1 L723.7,501.5 L724.7,499.6 L725.8,500.2 L726.8,498.7 L727.8,501.7 L728.8,497.8 L729.8,499.6 L730.9,500.5 L731.9,501.3 L732.9,501.6 L733.9,502.2 L735.0,501.6 L736.0,500.9 L737.0,501.2 L738.0,502.9 L739.1,501.4 L740.1,502.3 L741.1,500.9 L742.1,498.6 L743.2,500.3 L744.2,501.7 L745.2,503.5 L746.2,503.2 L747.3,503.7 L748.3,500.4 L749.3,502.5 L750.3,501.4 L751.4,502.4 L752.4,501.5 L753.4,499.8 L754.4,502.6 L755.5,502.2 L756.5,502.9 L757.5,500.7 L758.5,503.3 L759.6,503.4 L760.6,503.8 L761.6,503.9 L762.6,501.4 L763.6,498.7 L764.7,503.5 L765.7,500.9 L766.7,501.9 L767.7,503.8 L768.8,502.7 L769.8,502.7 L770.8,503.3 L771.8,499.9 L772.9,505.0 L773.9,502.1 L774.9,502.2 L775.9,503.4 L777.0,502.5 L778.0,501.6 L779.0,502.6 L780.0,502.3 L781.1,502.0 L782.1,505.6 L783.1,501.0 L784.1,500.0 L785.2,501.8 L786.2,501.8 L787.2,505.0 L788.2,503.4 L789.3,504.3 L790.3,504.1 L791.3,502.1 L792.3,504.4 L793.3,503.6 L794.4,505.9 L795.4,503.7 L796.4,503.4 L797.4,504.5 L798.5,504.5 L799.5,501.2 L800.5,505.2 L801.5,505.1 L802.6,504.8 L803.6,502.2 L804.6,501.1 L805.6,503.4 L806.7,504.8 L807.7,504.5 L808.7,502.6 L809.7,505.1 L810.8,502.1 L811.8,502.2 L812.8,504.0 L813.8,503.3 L814.9,503.2 L815.9,502.2 L816.9,505.6 L817.9,502.7 L819.0,504.8 L820.0,505.3 L821.0,504.2 L822.0,504.7 L823.1,505.7 L824.1,506.5 L825.1,505.7 L826.1,502.7 L827.1,502.1 L828.2,503.8 L829.2,503.1 L830.2,505.3 L831.2,504.8 L832.3,504.4 L833.3,506.1 L834.3,506.1 L835.3,504.7 L836.4,505.3 L837.4,506.3 L838.4,504.5 L839.4,505.3 L840.5,503.7 L841.5,505.1 L842.5,505.5 L843.5,505.0 L844.6,505.4 L845.6,506.0 L846.6,505.7 L847.6,504.3 L848.7,504.5 L849.7,503.7 L850.7,507.5 L851.7,505.9 L852.8,506.0 L853.8,505.3 L854.8,506.1 L855.8,506.2 L856.8,504.6 L857.9,505.4 L858.9,507.1 L859.9,504.0 L860.9,504.5 L862.0,506.5 L863.0,504.8 L864.0,506.7 L865.0,504.5 L866.1,506.1 L867.1,506.9 L868.1,506.4 L869.1,506.9 L870.2,505.7 L871.2,505.7 L872.2,505.9 L873.2,506.7 L874.3,508.0 L875.3,505.9 L876.3,508.0 L877.3,505.7 L878.4,504.7 L879.4,505.7 L880.4,506.5 L881.4,506.3 L882.5,506.3 L883.5,506.8 L884.5,506.8 L885.5,507.3 L886.6,504.7 L887.6,506.2 L888.6,505.0 L889.6,506.5 L890.6,506.1 L891.7,506.4 L892.7,505.7 L893.7,505.3 L894.7,506.0 L895.8,507.1 L896.8,507.2 L897.8,504.3 L898.8,506.7 L899.9,506.7 L900.9,504.6 L901.9,505.1 L902.9,505.7 L904.0,506.9 L905.0,503.6 L906.0,506.0 L907.0,505.8 L908.1,506.7 L909.1,508.0 L910.1,508.0 L911.1,506.0 L912.2,506.0 L913.2,506.8 L914.2,508.0 L915.2,508.0 L916.3,507.0 L917.3,508.0 L918.3,505.5 L919.3,505.2 L920.3,503.2 L921.4,505.6 L922.4,507.4 L923.4,507.7 L924.4,508.0 L925.5,507.4 L926.5,506.9 L927.5,505.6 L928.5,506.0 L929.6,506.1 L930.6,506.5 L931.6,506.0 L932.6,505.1 L933.7,508.0 L934.7,507.4 L935.7,508.0 L936.7,504.9 L937.8,505.3 L938.8,506.0 L939.8,508.0 L940.8,506.7 L941.9,507.2 L942.9,506.9 L943.9,507.2 L944.9,506.4 L946.0,507.5 L947.0,506.0 L948.0,506.7 L949.0,507.4 L950.1,507.2 L951.1,507.6 L952.1,506.1 L953.1,507.4 L954.1,506.8 L955.2,507.6 L956.2,508.0 L957.2,506.1 L958.2,508.0 L959.3,506.4 L960.3,506.7 L961.3,508.0 L962.3,508.0 L963.4,507.8 L964.4,508.0 L965.4,508.0 L966.4,506.4 L967.5,507.6 L968.5,506.9 L969.5,507.8 L970.5,507.0 L971.6,508.0 L972.6,507.4 L973.6,506.7 L974.6,507.3 L975.7,507.9 L976.7,508.0 L977.7,507.2 L978.7,507.0 L979.8,507.8 L980.8,508.0 L981.8,506.9 L982.8,504.6 L983.8,507.9 L984.9,507.1 L985.9,507.1 L986.9,508.0 L987.9,507.4 L989.0,508.0 L990.0,505.9 L991.0,507.9 L992.0,508.0 L993.1,507.8 L994.1,507.4 L995.1,508.0 L996.1,507.6 L997.2,508.0 L998.2,507.9 L999.2,506.7 L1000.2,505.3 L1001.3,506.8 L1002.3,507.3 L1003.3,506.2 L1004.3,506.4 L1005.4,505.7 L1006.4,506.4 L1007.4,507.8 L1008.4,507.3 L1009.5,507.4 L1010.5,507.3 L1011.5,507.4 L1012.5,508.0 L1013.6,508.0 L1014.6,508.0 L1015.6,508.0 L1016.6,507.6 L1017.6,507.7 L1018.7,508.0 L1019.7,506.9 L1020.7,506.7 L1021.7,507.6 L1022.8,505.8 L1023.8,505.6 L1024.8,508.0 L1025.8,506.5 L1026.9,507.2 L1027.9,507.3 L1028.9,506.7 L1029.9,508.0 L1031.0,508.0 L1032.0,508.0 L1033.0,508.0 L1034.0,507.9 L1035.1,508.0 L1036.1,508.0 L1037.1,507.1 L1038.1,507.9 L1039.2,507.4 L1040.2,508.0 L1041.2,508.0 L1042.2,508.0 L1043.3,507.8 L1044.3,508.0 L1045.3,506.8 L1046.3,507.9 L1047.4,507.8 L1048.4,507.8 L1049.4,507.0 L1050.4,508.0 L1051.4,506.6 L1052.5,507.3 L1053.5,507.7 L1054.5,507.8 L1055.5,507.3 L1056.6,506.7 L1057.6,506.8 L1058.6,507.5 L1059.6,506.9 L1060.7,507.8 L1061.7,506.5 L1062.7,507.9 L1063.7,508.0 L1064.8,506.4 L1065.8,507.8 L1066.8,508.0 L1067.8,508.0 L1068.9,508.0" fill="none" stroke="#00ee00" stroke-width="3.8" stroke-linejoin="round"/>
<path d="M215.7,504.7 L216.7,507.2 L217.7,508.0 L218.8,507.1 L219.8,508.0 L220.8,505.0 L221.8,508.0 L222.9,508.0 L223.9,507.8 L224.9,508.0 L225.9,508.0 L227.0,508.0 L228.0,507.2 L229.0,505.3 L230.0,508.0 L231.1,506.1 L232.1,508.0 L233.1,504.2 L234.1,507.2 L235.2,508.0 L236.2,506.1 L237.2,507.0 L238.2,508.0 L239.3,506.7 L240.3,508.0 L241.3,508.0 L242.3,504.7 L243.4,508.0 L244.4,508.0 L245.4,507.2 L246.4,508.0 L247.5,508.0 L248.5,508.0 L249.5,508.0 L250.5,507.6 L251.5,506.0 L252.6,508.0 L253.6,506.9 L254.6,506.8 L255.6,508.0 L256.7,507.3 L257.7,508.0 L258.7,506.0 L259.7,507.0 L260.8,507.6 L261.8,508.0 L262.8,507.5 L263.8,508.0 L264.9,506.5 L265.9,507.8 L266.9,508.0 L267.9,506.2 L269.0,506.5 L270.0,508.0 L271.0,505.8 L272.0,508.0 L273.1,508.0 L274.1,507.4 L275.1,508.0 L276.1,508.0 L277.2,507.8 L278.2,505.2 L279.2,505.2 L280.2,507.9 L281.2,505.0 L282.3,507.6 L283.3,506.9 L284.3,506.1 L285.3,506.9 L286.4,503.5 L287.4,506.8 L288.4,508.0 L289.4,504.9 L290.5,507.5 L291.5,507.3 L292.5,508.0 L293.5,505.0 L294.6,505.2 L295.6,505.1 L296.6,504.7 L297.6,503.4 L298.7,506.2 L299.7,504.4 L300.7,507.1 L301.7,506.4 L302.8,503.9 L303.8,504.9 L304.8,507.7 L305.8,504.8 L306.9,505.6 L307.9,506.5 L308.9,504.3 L309.9,505.5 L311.0,506.9 L312.0,505.5 L313.0,499.8 L314.0,505.0 L315.0,501.3 L316.1,499.9 L317.1,499.2 L318.1,502.0 L319.1,499.7 L320.2,498.2 L321.2,496.4 L322.2,498.5 L323.2,498.9 L324.3,492.3 L325.3,489.8 L326.3,488.9 L327.3,488.7 L328.4,484.2 L329.4,482.5 L330.4,478.6 L331.4,481.0 L332.5,475.6 L333.5,473.9 L334.5,471.1 L335.5,462.9 L336.6,458.2 L337.6,454.3 L338.6,447.1 L339.6,446.9 L340.7,438.2 L341.7,431.7 L342.7,427.1 L343.7,419.2 L344.7,419.9 L345.8,415.0 L346.8,403.9 L347.8,397.4 L348.8,386.3 L349.9,385.1 L350.9,383.9 L351.9,372.7 L352.9,372.2 L354.0,368.5 L355.0,348.9 L356.0,350.7 L357.0,343.5 L358.1,338.1 L359.1,327.8 L360.1,327.3 L361.1,318.1 L362.2,318.7 L363.2,311.9 L364.2,293.3 L365.2,284.8 L366.3,281.5 L367.3,275.9 L368.3,269.5 L369.3,266.2 L370.4,250.8 L371.4,245.1 L372.4,235.3 L373.4,225.5 L374.5,212.4 L375.5,204.3 L376.5,192.9 L377.5,190.7 L378.5,173.1 L379.6,153.6 L380.6,153.3 L381.6,139.4 L382.6,122.7 L383.7,110.1 L384.7,99.5 L385.7,106.1 L386.7,92.5 L387.8,96.6 L388.8,93.7 L389.8,89.8 L390.8,91.2 L391.9,89.8 L392.9,89.8 L393.9,89.8 L394.9,89.8 L396.0,94.0 L397.0,92.8 L398.0,94.8 L399.0,100.1 L400.1,114.4 L401.1,124.1 L402.1,133.8 L403.1,149.1 L404.2,157.2 L405.2,160.5 L406.2,156.1 L407.2,161.4 L408.2,160.8 L409.3,164.3 L410.3,173.9 L411.3,173.1 L412.3,185.8 L413.4,172.8 L414.4,180.2 L415.4,189.0 L416.4,195.8 L417.5,192.0 L418.5,204.2 L419.5,202.3 L420.5,198.6 L421.6,208.7 L422.6,218.3 L423.6,219.5 L424.6,234.9 L425.7,236.8 L426.7,242.8 L427.7,246.2 L428.7,243.0 L429.8,250.9 L430.8,241.3 L431.8,253.3 L432.8,245.1 L433.9,259.3 L434.9,254.6 L435.9,263.8 L436.9,266.8 L438.0,263.7 L439.0,264.6 L440.0,275.0 L441.0,268.3 L442.0,278.8 L443.1,278.1 L444.1,280.0 L445.1,282.0 L446.1,293.9 L447.2,283.5 L448.2,289.3 L449.2,294.8 L450.2,298.8 L451.3,303.1 L452.3,303.6 L453.3,298.3 L454.3,303.4 L455.4,308.1 L456.4,307.6 L457.4,301.7 L458.4,311.3 L459.5,314.8 L460.5,310.4 L461.5,316.2 L462.5,320.3 L463.6,325.2 L464.6,331.2 L465.6,332.4 L466.6,332.6 L467.7,334.2 L468.7,334.8 L469.7,336.7 L470.7,340.4 L471.7,342.9 L472.8,349.7 L473.8,356.2 L474.8,353.1 L475.8,357.1 L476.9,358.7 L477.9,360.0 L478.9,365.8 L479.9,367.9 L481.0,367.1 L482.0,369.0 L483.0,374.1 L484.0,373.0 L485.1,377.9 L486.1,383.1 L487.1,382.3 L488.1,379.0 L489.2,389.4 L490.2,385.1 L491.2,386.0 L492.2,387.1 L493.3,395.9 L494.3,388.6 L495.3,396.0 L496.3,398.6 L497.4,400.1 L498.4,399.0 L499.4,402.2 L500.4,404.4 L501.5,401.6 L502.5,409.1 L503.5,411.6 L504.5,407.6 L505.5,409.0 L506.6,408.8 L507.6,416.3 L508.6,410.9 L509.6,413.7 L510.7,411.0 L511.7,420.8 L512.7,417.5 L513.7,420.0 L514.8,424.8 L515.8,424.2 L516.8,421.8 L517.8,429.2 L518.9,432.7 L519.9,431.1 L520.9,433.7 L521.9,436.6 L523.0,444.2 L524.0,443.1 L525.0,441.0 L526.0,446.3 L527.1,447.4 L528.1,444.0 L529.1,442.9 L530.1,450.8 L531.2,455.4 L532.2,453.2 L533.2,452.9 L534.2,451.4 L535.3,450.3 L536.3,453.1 L537.3,455.2 L538.3,453.8 L539.3,457.3 L540.4,455.7 L541.4,457.9 L542.4,450.3 L543.4,455.7 L544.5,460.6 L545.5,461.7 L546.5,461.0 L547.5,464.7 L548.6,463.2 L549.6,463.9 L550.6,460.7 L551.6,464.6 L552.7,466.2 L553.7,468.3 L554.7,468.6 L555.7,466.6 L556.8,467.7 L557.8,465.2 L558.8,470.1 L559.8,466.8 L560.9,469.5 L561.9,470.8 L562.9,476.0 L563.9,474.7 L565.0,470.4 L566.0,469.3 L567.0,472.4 L568.0,471.5 L569.0,474.7 L570.1,475.0 L571.1,476.1 L572.1,472.7 L573.1,474.5 L574.2,476.3 L575.2,476.9 L576.2,475.3 L577.2,476.2 L578.3,479.2 L579.3,473.9 L580.3,477.6 L581.3,478.5 L582.4,475.7 L583.4,477.1 L584.4,480.0 L585.4,479.0 L586.5,483.0 L587.5,482.4 L588.5,486.4 L589.5,479.1 L590.6,486.4 L591.6,481.1 L592.6,484.8 L593.6,485.6 L594.7,484.3 L595.7,483.7 L596.7,483.3 L597.7,481.3 L598.8,484.7 L599.8,484.0 L600.8,487.6 L601.8,485.2 L602.8,486.8 L603.9,488.5 L604.9,488.1 L605.9,488.5 L606.9,488.3 L608.0,488.3 L609.0,490.6 L610.0,491.5 L611.0,488.8 L612.1,494.2 L613.1,492.4 L614.1,488.4 L615.1,497.5 L616.2,493.6 L617.2,490.9 L618.2,495.8 L619.2,487.4 L620.3,498.0 L621.3,490.1 L622.3,490.0 L623.3,491.4 L624.4,493.8 L625.4,492.8 L626.4,495.5 L627.4,492.2 L628.5,496.2 L629.5,494.7 L630.5,492.4 L631.5,496.7 L632.5,495.3 L633.6,494.5 L634.6,497.6 L635.6,492.8 L636.6,494.6 L637.7,498.4 L638.7,495.6 L639.7,497.2 L640.7,497.1 L641.8,495.9 L642.8,497.5 L643.8,494.5 L644.8,497.8 L645.9,494.7 L646.9,496.9 L647.9,495.3 L648.9,498.1 L650.0,498.2 L651.0,499.6 L652.0,496.5 L653.0,495.9 L654.1,493.9 L655.1,495.6 L656.1,497.7 L657.1,498.7 L658.2,497.8 L659.2,498.7 L660.2,496.1 L661.2,497.2 L662.3,500.7 L663.3,500.5 L664.3,496.9 L665.3,499.0 L666.3,500.1 L667.4,497.7 L668.4,500.7 L669.4,500.6 L670.4,501.0 L671.5,503.8 L672.5,498.8 L673.5,502.6 L674.5,501.5 L675.6,501.9 L676.6,499.3 L677.6,500.9 L678.6,500.8 L679.7,504.0 L680.7,501.2 L681.7,503.8 L682.7,500.6 L683.8,500.6 L684.8,501.4 L685.8,497.8 L686.8,500.6 L687.9,500.5 L688.9,501.4 L689.9,502.1 L690.9,500.1 L692.0,500.0 L693.0,504.3 L694.0,500.2 L695.0,501.3 L696.0,500.6 L697.1,501.5 L698.1,504.6 L699.1,504.6 L700.1,499.3 L701.2,502.1 L702.2,505.1 L703.2,502.0 L704.2,503.3 L705.3,506.0 L706.3,506.8 L707.3,505.6 L708.3,502.3 L709.4,502.9 L710.4,503.3 L711.4,502.4 L712.4,501.9 L713.5,506.7 L714.5,503.6 L715.5,504.5 L716.5,505.3 L717.6,504.1 L718.6,503.4 L719.6,503.7 L720.6,505.8 L721.7,504.1 L722.7,499.8 L723.7,505.2 L724.7,506.3 L725.8,503.0 L726.8,502.4 L727.8,502.7 L728.8,505.5 L729.8,501.9 L730.9,505.0 L731.9,505.6 L732.9,504.7 L733.9,503.9 L735.0,502.5 L736.0,502.7 L737.0,503.8 L738.0,502.2 L739.1,503.7 L740.1,502.3 L741.1,506.3 L742.1,506.6 L743.2,502.6 L744.2,506.3 L745.2,504.5 L746.2,504.2 L747.3,504.9 L748.3,504.8 L749.3,501.7 L750.3,508.0 L751.4,502.6 L752.4,500.2 L753.4,504.1 L754.4,504.2 L755.5,503.0 L756.5,501.1 L757.5,506.3 L758.5,504.1 L759.6,504.6 L760.6,503.3 L761.6,504.1 L762.6,503.2 L763.6,505.1 L764.7,504.3 L765.7,505.6 L766.7,505.6 L767.7,504.7 L768.8,504.7 L769.8,506.5 L770.8,501.9 L771.8,504.8 L772.9,506.9 L773.9,502.7 L774.9,505.9 L775.9,503.8 L777.0,504.7 L778.0,504.3 L779.0,504.4 L780.0,505.7 L781.1,504.7 L782.1,501.3 L783.1,508.0 L784.1,504.7 L785.2,504.1 L786.2,506.6 L787.2,507.2 L788.2,501.3 L789.3,505.5 L790.3,501.4 L791.3,504.1 L792.3,504.9 L793.3,504.2 L794.4,504.0 L795.4,503.1 L796.4,504.3 L797.4,504.8 L798.5,504.8 L799.5,502.9 L800.5,503.8 L801.5,506.9 L802.6,506.3 L803.6,504.7 L804.6,506.3 L805.6,505.9 L806.7,506.9 L807.7,505.7 L808.7,504.6 L809.7,503.7 L810.8,505.4 L811.8,501.9 L812.8,505.5 L813.8,500.1 L814.9,503.8 L815.9,504.6 L816.9,506.3 L817.9,508.0 L819.0,505.8 L820.0,505.2 L821.0,502.4 L822.0,507.8 L823.1,502.4 L824.1,506.0 L825.1,504.4 L826.1,508.0 L827.1,505.4 L828.2,506.2 L829.2,504.5 L830.2,505.5 L831.2,507.6 L832.3,504.1 L833.3,504.6 L834.3,504.8 L835.3,504.1 L836.4,504.0 L837.4,505.8 L838.4,508.0 L839.4,508.0 L840.5,503.6 L841.5,504.7 L842.5,505.7 L843.5,506.6 L844.6,505.8 L845.6,505.9 L846.6,506.5 L847.6,507.1 L848.7,502.4 L849.7,505.6 L850.7,507.0 L851.7,508.0 L852.8,507.2 L853.8,504.8 L854.8,504.8 L855.8,506.4 L856.8,506.0 L857.9,506.6 L858.9,507.9 L859.9,504.0 L860.9,505.5 L862.0,502.1 L863.0,507.4 L864.0,506.4 L865.0,504.8 L866.1,506.6 L867.1,508.0 L868.1,507.8 L869.1,506.1 L870.2,505.7 L871.2,506.4 L872.2,504.7 L873.2,504.7 L874.3,505.8 L875.3,506.3 L876.3,506.8 L877.3,505.5 L878.4,504.9 L879.4,506.3 L880.4,505.7 L881.4,507.0 L882.5,508.0 L883.5,508.0 L884.5,505.2 L885.5,505.8 L886.6,503.9 L887.6,506.4 L888.6,505.1 L889.6,504.4 L890.6,505.0 L891.7,507.6 L892.7,506.9 L893.7,506.4 L894.7,508.0 L895.8,505.9 L896.8,505.0 L897.8,507.4 L898.8,503.5 L899.9,507.2 L900.9,507.0 L901.9,507.1 L902.9,507.8 L904.0,506.0 L905.0,506.7 L906.0,504.1 L907.0,505.8 L908.1,505.9 L909.1,507.1 L910.1,508.0 L911.1,506.9 L912.2,508.0 L913.2,505.2 L914.2,506.8 L915.2,504.1 L916.3,505.6 L917.3,505.4 L918.3,506.4 L919.3,506.5 L920.3,505.7 L921.4,505.3 L922.4,507.9 L923.4,506.0 L924.4,502.6 L925.5,507.0 L926.5,507.2 L927.5,507.9 L928.5,508.0 L929.6,504.9 L930.6,506.7 L931.6,506.4 L932.6,503.9 L933.7,502.9 L934.7,508.0 L935.7,505.2 L936.7,505.9 L937.8,506.2 L938.8,506.1 L939.8,506.9 L940.8,504.4 L941.9,505.9 L942.9,506.3 L943.9,504.9 L944.9,505.5 L946.0,506.2 L947.0,506.4 L948.0,504.1 L949.0,506.1 L950.1,507.1 L951.1,508.0 L952.1,507.5 L953.1,508.0 L954.1,506.8 L955.2,506.5 L956.2,508.0 L957.2,506.9 L958.2,505.9 L959.3,506.7 L960.3,508.0 L961.3,505.0 L962.3,508.0 L963.4,508.0 L964.4,508.0 L965.4,507.0 L966.4,505.5 L967.5,505.2 L968.5,506.7 L969.5,508.0 L970.5,508.0 L971.6,508.0 L972.6,507.3 L973.6,508.0 L974.6,506.9 L975.7,506.0 L976.7,507.3 L977.7,506.3 L978.7,508.0 L979.8,508.0 L980.8,508.0 L981.8,505.3 L982.8,505.5 L983.8,507.8 L984.9,505.2 L985.9,507.6 L986.9,504.7 L987.9,506.4 L989.0,507.8 L990.0,505.9 L991.0,508.0 L992.0,508.0 L993.1,508.0 L994.1,506.7 L995.1,507.2 L996.1,507.3 L997.2,507.8 L998.2,504.9 L999.2,507.8 L1000.2,508.0 L1001.3,505.2 L1002.3,505.0 L1003.3,506.7 L1004.3,508.0 L1005.4,508.0 L1006.4,506.2 L1007.4,507.2 L1008.4,504.8 L1009.5,508.0 L1010.5,506.2 L1011.5,508.0 L1012.5,505.2 L1013.6,507.4 L1014.6,505.6 L1015.6,508.0 L1016.6,508.0 L1017.6,508.0 L1018.7,508.0 L1019.7,508.0 L1020.7,505.4 L1021.7,505.2 L1022.8,506.9 L1023.8,508.0 L1024.8,507.5 L1025.8,508.0 L1026.9,505.0 L1027.9,506.8 L1028.9,506.6 L1029.9,508.0 L1031.0,508.0 L1032.0,508.0 L1033.0,508.0 L1034.0,506.8 L1035.1,507.2 L1036.1,508.0 L1037.1,508.0 L1038.1,504.9 L1039.2,508.0 L1040.2,508.0 L1041.2,507.7 L1042.2,508.0 L1043.3,508.0 L1044.3,506.6 L1045.3,504.7 L1046.3,508.0 L1047.4,507.4 L1048.4,507.4 L1049.4,507.6 L1050.4,507.7 L1051.4,508.0 L1052.5,505.9 L1053.5,508.0 L1054.5,507.6 L1055.5,507.5 L1056.6,507.3 L1057.6,507.7 L1058.6,505.9 L1059.6,507.5 L1060.7,507.2 L1061.7,507.6 L1062.7,508.0 L1063.7,508.0 L1064.8,508.0 L1065.8,507.2 L1066.8,508.0 L1067.8,508.0 L1068.9,507.2" fill="none" stroke="#ff0000" stroke-width="4.2" stroke-linejoin="round"/>
<rect x="215.7" y="68.3" width="853.7" height="441.2" fill="none" stroke="#000" stroke-width="4.4"/>
<line x1="215.7" y1="509.5" x2="215.7" y2="534.7" stroke="#000" stroke-width="4.2" />
<line x1="215.7" y1="68.3" x2="215.7" y2="44.1" stroke="#000" stroke-width="4.2" />
<line x1="249.8" y1="509.5" x2="249.8" y2="521.2" stroke="#000" stroke-width="4.2" />
<line x1="249.8" y1="68.3" x2="249.8" y2="56.1" stroke="#000" stroke-width="4.2" />
<line x1="284.0" y1="509.5" x2="284.0" y2="521.2" stroke="#000" stroke-width="4.2" />
<line x1="284.0" y1="68.3" x2="284.0" y2="56.1" stroke="#000" stroke-width="4.2" />
<line x1="318.1" y1="509.5" x2="318.1" y2="521.2" stroke="#000" stroke-width="4.2" />
<line x1="318.1" y1="68.3" x2="318.1" y2="56.1" stroke="#000" stroke-width="4.2" />
<line x1="352.3" y1="509.5" x2="352.3" y2="521.2" stroke="#000" stroke-width="4.2" />
<line x1="352.3" y1="68.3" x2="352.3" y2="56.1" stroke="#000" stroke-width="4.2" />
<line x1="386.4" y1="509.5" x2="386.4" y2="534.7" stroke="#000" stroke-width="4.2" />
<line x1="386.4" y1="68.3" x2="386.4" y2="44.1" stroke="#000" stroke-width="4.2" />
<line x1="420.5" y1="509.5" x2="420.5" y2="521.2" stroke="#000" stroke-width="4.2" />
<line x1="420.5" y1="68.3" x2="420.5" y2="56.1" stroke="#000" stroke-width="4.2" />
<line x1="454.7" y1="509.5" x2="454.7" y2="521.2" stroke="#000" stroke-width="4.2" />
<line x1="454.7" y1="68.3" x2="454.7" y2="56.1" stroke="#000" stroke-width="4.2" />
<line x1="488.8" y1="509.5" x2="488.8" y2="521.2" stroke="#000" stroke-width="4.2" />
<line x1="488.8" y1="68.3" x2="488.8" y2="56.1" stroke="#000" stroke-width="4.2" />
<line x1="523.0" y1="509.5" x2="523.0" y2="521.2" stroke="#000" stroke-width="4.2" />
<line x1="523.0" y1="68.3" x2="523.0" y2="56.1" stroke="#000" stroke-width="4.2" />
<line x1="557.1" y1="509.5" x2="557.1" y2="534.7" stroke="#000" stroke-width="4.2" />
<line x1="557.1" y1="68.3" x2="557.1" y2="44.1" stroke="#000" stroke-width="4.2" />
<line x1="591.2" y1="509.5" x2="591.2" y2="521.2" stroke="#000" stroke-width="4.2" />
<line x1="591.2" y1="68.3" x2="591.2" y2="56.1" stroke="#000" stroke-width="4.2" />
<line x1="625.4" y1="509.5" x2="625.4" y2="521.2" stroke="#000" stroke-width="4.2" />
<line x1="625.4" y1="68.3" x2="625.4" y2="56.1" stroke="#000" stroke-width="4.2" />
<line x1="659.5" y1="509.5" x2="659.5" y2="521.2" stroke="#000" stroke-width="4.2" />
<line x1="659.5" y1="68.3" x2="659.5" y2="56.1" stroke="#000" stroke-width="4.2" />
<line x1="693.7" y1="509.5" x2="693.7" y2="521.2" stroke="#000" stroke-width="4.2" />
<line x1="693.7" y1="68.3" x2="693.7" y2="56.1" stroke="#000" stroke-width="4.2" />
<line x1="727.8" y1="509.5" x2="727.8" y2="534.7" stroke="#000" stroke-width="4.2" />
<line x1="727.8" y1="68.3" x2="727.8" y2="44.1" stroke="#000" stroke-width="4.2" />
<line x1="761.9" y1="509.5" x2="761.9" y2="521.2" stroke="#000" stroke-width="4.2" />
<line x1="761.9" y1="68.3" x2="761.9" y2="56.1" stroke="#000" stroke-width="4.2" />
<line x1="796.1" y1="509.5" x2="796.1" y2="521.2" stroke="#000" stroke-width="4.2" />
<line x1="796.1" y1="68.3" x2="796.1" y2="56.1" stroke="#000" stroke-width="4.2" />
<line x1="830.2" y1="509.5" x2="830.2" y2="521.2" stroke="#000" stroke-width="4.2" />
<line x1="830.2" y1="68.3" x2="830.2" y2="56.1" stroke="#000" stroke-width="4.2" />
<line x1="864.4" y1="509.5" x2="864.4" y2="521.2" stroke="#000" stroke-width="4.2" />
<line x1="864.4" y1="68.3" x2="864.4" y2="56.1" stroke="#000" stroke-width="4.2" />
<line x1="898.5" y1="509.5" x2="898.5" y2="534.7" stroke="#000" stroke-width="4.2" />
<line x1="898.5" y1="68.3" x2="898.5" y2="44.1" stroke="#000" stroke-width="4.2" />
<line x1="932.6" y1="509.5" x2="932.6" y2="521.2" stroke="#000" stroke-width="4.2" />
<line x1="932.6" y1="68.3" x2="932.6" y2="56.1" stroke="#000" stroke-width="4.2" />
<line x1="966.8" y1="509.5" x2="966.8" y2="521.2" stroke="#000" stroke-width="4.2" />
<line x1="966.8" y1="68.3" x2="966.8" y2="56.1" stroke="#000" stroke-width="4.2" />
<line x1="1000.9" y1="509.5" x2="1000.9" y2="521.2" stroke="#000" stroke-width="4.2" />
<line x1="1000.9" y1="68.3" x2="1000.9" y2="56.1" stroke="#000" stroke-width="4.2" />
<line x1="1035.1" y1="509.5" x2="1035.1" y2="521.2" stroke="#000" stroke-width="4.2" />
<line x1="1035.1" y1="68.3" x2="1035.1" y2="56.1" stroke="#000" stroke-width="4.2" />
<line x1="1069.2" y1="509.5" x2="1069.2" y2="534.7" stroke="#000" stroke-width="4.2" />
<line x1="1069.2" y1="68.3" x2="1069.2" y2="44.1" stroke="#000" stroke-width="4.2" />
<line x1="215.7" y1="509.2" x2="191.5" y2="509.2" stroke="#000" stroke-width="4.2" />
<line x1="1069.4" y1="509.2" x2="1093.1" y2="509.2" stroke="#000" stroke-width="4.2" />
<line x1="215.7" y1="467.3" x2="203.9" y2="467.3" stroke="#000" stroke-width="4.2" />
<line x1="1069.4" y1="467.3" x2="1080.8" y2="467.3" stroke="#000" stroke-width="4.2" />
<line x1="215.7" y1="425.3" x2="203.9" y2="425.3" stroke="#000" stroke-width="4.2" />
<line x1="1069.4" y1="425.3" x2="1080.8" y2="425.3" stroke="#000" stroke-width="4.2" />
<line x1="215.7" y1="383.4" x2="203.9" y2="383.4" stroke="#000" stroke-width="4.2" />
<line x1="1069.4" y1="383.4" x2="1080.8" y2="383.4" stroke="#000" stroke-width="4.2" />
<line x1="215.7" y1="341.4" x2="203.9" y2="341.4" stroke="#000" stroke-width="4.2" />
<line x1="1069.4" y1="341.4" x2="1080.8" y2="341.4" stroke="#000" stroke-width="4.2" />
<line x1="215.7" y1="299.5" x2="191.5" y2="299.5" stroke="#000" stroke-width="4.2" />
<line x1="1069.4" y1="299.5" x2="1093.1" y2="299.5" stroke="#000" stroke-width="4.2" />
<line x1="215.7" y1="257.6" x2="203.9" y2="257.6" stroke="#000" stroke-width="4.2" />
<line x1="1069.4" y1="257.6" x2="1080.8" y2="257.6" stroke="#000" stroke-width="4.2" />
<line x1="215.7" y1="215.6" x2="203.9" y2="215.6" stroke="#000" stroke-width="4.2" />
<line x1="1069.4" y1="215.6" x2="1080.8" y2="215.6" stroke="#000" stroke-width="4.2" />
<line x1="215.7" y1="173.7" x2="203.9" y2="173.7" stroke="#000" stroke-width="4.2" />
<line x1="1069.4" y1="173.7" x2="1080.8" y2="173.7" stroke="#000" stroke-width="4.2" />
<line x1="215.7" y1="131.7" x2="203.9" y2="131.7" stroke="#000" stroke-width="4.2" />
<line x1="1069.4" y1="131.7" x2="1080.8" y2="131.7" stroke="#000" stroke-width="4.2" />
<line x1="215.7" y1="89.8" x2="191.5" y2="89.8" stroke="#000" stroke-width="4.2" />
<line x1="1069.4" y1="89.8" x2="1093.1" y2="89.8" stroke="#000" stroke-width="4.2" />
<text x="215.7" y="593.5" font-size="55" font-family="'Liberation Sans', sans-serif" font-weight="normal" text-anchor="middle" fill="#000" >540</text>
<text x="386.4" y="593.5" font-size="55" font-family="'Liberation Sans', sans-serif" font-weight="normal" text-anchor="middle" fill="#000" >550</text>
<text x="557.1" y="593.5" font-size="55" font-family="'Liberation Sans', sans-serif" font-weight="normal" text-anchor="middle" fill="#000" >560</text>
<text x="727.8" y="593.5" font-size="55" font-family="'Liberation Sans', sans-serif" font-weight="normal" text-anchor="middle" fill="#000" >570</text>
<text x="898.5" y="593.5" font-size="55" font-family="'Liberation Sans', sans-serif" font-weight="normal" text-anchor="middle" fill="#000" >580</text>
<text x="1069.2" y="593.5" font-size="55" font-family="'Liberation Sans', sans-serif" font-weight="normal" text-anchor="middle" fill="#000" >590</text>
<text x="171.0" y="524.7" font-size="54" font-family="'Liberation Sans', sans-serif" font-weight="normal" text-anchor="end" fill="#000" >0.0</text>
<text x="171.0" y="315.0" font-size="54" font-family="'Liberation Sans', sans-serif" font-weight="normal" text-anchor="end" fill="#000" >0.5</text>
<text x="171.0" y="105.3" font-size="54" font-family="'Liberation Sans', sans-serif" font-weight="normal" text-anchor="end" fill="#000" >1.0</text>
<text x="641.7" y="665.5" font-size="59.5" font-family="'Liberation Sans', sans-serif" font-weight="normal" text-anchor="middle" fill="#000" >emission wavelength(nm)</text>
<text x="71.4" y="286.5" font-size="60" font-family="'Liberation Sans', sans-serif" font-weight="normal" text-anchor="middle" fill="#000" transform="rotate(-90 71.4 286.5)">normalized intensity</text>
<text x="239.5" y="146.4" font-size="63" font-family="'Liberation Sans', sans-serif" font-weight="bold" text-anchor="start" fill="#000" >(a)</text>
<rect x="349.4" y="174" width="9" height="72" fill="#000"/>
<rect x="687.4" y="339.3" width="9" height="72" fill="#000"/>
</g>
<g>
<circle cx="1275.5" cy="462.5" r="14.8" fill="#000"/>
<circle cx="1438.5" cy="378.8" r="14.8" fill="#000"/>
<circle cx="1602.6" cy="307.4" r="14.8" fill="#000"/>
<circle cx="1766.4" cy="288.6" r="14.8" fill="#000"/>
<circle cx="1930.7" cy="198" r="14.8" fill="#000"/>
<circle cx="2095.1" cy="109.8" r="14.8" fill="#000"/>
<path d="M1276.0,463.8 L1294.0,495.8 L1258.0,495.8 Z" fill="#0000ff"/>
<path d="M1436.8,388.0 L1454.8,420.0 L1418.8,420.0 Z" fill="#0000ff"/>
<path d="M1602.0,336.0 L1620.0,368.0 L1584.0,368.0 Z" fill="#0000ff"/>
<path d="M1766.7,313.5 L1784.7,345.5 L1748.7,345.5 Z" fill="#0000ff"/>
<path d="M1930.9,240.1 L1948.9,272.1 L1912.9,272.1 Z" fill="#0000ff"/>
<path d="M2095.3,207.1 L2113.3,239.1 L2077.3,239.1 Z" fill="#0000ff"/>
<line x1="1272.7" y1="458.4" x2="2096.6" y2="124.2" stroke="#ff0000" stroke-width="4.3"/>
<line x1="1272.7" y1="471.3" x2="2095" y2="220.7" stroke="#ff0000" stroke-width="4.2" stroke-dasharray="21,20"/>
<rect x="1260.7" y="63.5" width="856.7" height="443.1" fill="none" stroke="#000" stroke-width="4.4"/>
<line x1="1260.9" y1="506.6" x2="1260.9" y2="518.3" stroke="#000" stroke-width="4.2" />
<line x1="1260.9" y1="63.5" x2="1260.9" y2="51.3" stroke="#000" stroke-width="4.2" />
<line x1="1268.4" y1="506.6" x2="1268.4" y2="531.8" stroke="#000" stroke-width="4.2" />
<line x1="1268.4" y1="63.5" x2="1268.4" y2="38.3" stroke="#000" stroke-width="4.2" />
<line x1="1317.7" y1="506.6" x2="1317.7" y2="518.3" stroke="#000" stroke-width="4.2" />
<line x1="1317.7" y1="63.5" x2="1317.7" y2="51.3" stroke="#000" stroke-width="4.2" />
<line x1="1346.6" y1="506.6" x2="1346.6" y2="518.3" stroke="#000" stroke-width="4.2" />
<line x1="1346.6" y1="63.5" x2="1346.6" y2="51.3" stroke="#000" stroke-width="4.2" />
<line x1="1367.1" y1="506.6" x2="1367.1" y2="518.3" stroke="#000" stroke-width="4.2" />
<line x1="1367.1" y1="63.5" x2="1367.1" y2="51.3" stroke="#000" stroke-width="4.2" />
<line x1="1383.0" y1="506.6" x2="1383.0" y2="518.3" stroke="#000" stroke-width="4.2" />
<line x1="1383.0" y1="63.5" x2="1383.0" y2="51.3" stroke="#000" stroke-width="4.2" />
<line x1="1395.9" y1="506.6" x2="1395.9" y2="518.3" stroke="#000" stroke-width="4.2" />
<line x1="1395.9" y1="63.5" x2="1395.9" y2="51.3" stroke="#000" stroke-width="4.2" />
<line x1="1406.9" y1="506.6" x2="1406.9" y2="518.3" stroke="#000" stroke-width="4.2" />
<line x1="1406.9" y1="63.5" x2="1406.9" y2="51.3" stroke="#000" stroke-width="4.2" />
<line x1="1416.4" y1="506.6" x2="1416.4" y2="518.3" stroke="#000" stroke-width="4.2" />
<line x1="1416.4" y1="63.5" x2="1416.4" y2="51.3" stroke="#000" stroke-width="4.2" />
<line x1="1424.8" y1="506.6" x2="1424.8" y2="518.3" stroke="#000" stroke-width="4.2" />
<line x1="1424.8" y1="63.5" x2="1424.8" y2="51.3" stroke="#000" stroke-width="4.2" />
<line x1="1432.3" y1="506.6" x2="1432.3" y2="531.8" stroke="#000" stroke-width="4.2" />
<line x1="1432.3" y1="63.5" x2="1432.3" y2="38.3" stroke="#000" stroke-width="4.2" />
<line x1="1481.6" y1="506.6" x2="1481.6" y2="518.3" stroke="#000" stroke-width="4.2" />
<line x1="1481.6" y1="63.5" x2="1481.6" y2="51.3" stroke="#000" stroke-width="4.2" />
<line x1="1510.5" y1="506.6" x2="1510.5" y2="518.3" stroke="#000" stroke-width="4.2" />
<line x1="1510.5" y1="63.5" x2="1510.5" y2="51.3" stroke="#000" stroke-width="4.2" />
<line x1="1531.0" y1="506.6" x2="1531.0" y2="518.3" stroke="#000" stroke-width="4.2" />
<line x1="1531.0" y1="63.5" x2="1531.0" y2="51.3" stroke="#000" stroke-width="4.2" />
<line x1="1546.9" y1="506.6" x2="1546.9" y2="518.3" stroke="#000" stroke-width="4.2" />
<line x1="1546.9" y1="63.5" x2="1546.9" y2="51.3" stroke="#000" stroke-width="4.2" />
<line x1="1559.8" y1="506.6" x2="1559.8" y2="518.3" stroke="#000" stroke-width="4.2" />
<line x1="1559.8" y1="63.5" x2="1559.8" y2="51.3" stroke="#000" stroke-width="4.2" />
<line x1="1570.8" y1="506.6" x2="1570.8" y2="518.3" stroke="#000" stroke-width="4.2" />
<line x1="1570.8" y1="63.5" x2="1570.8" y2="51.3" stroke="#000" stroke-width="4.2" />
<line x1="1580.3" y1="506.6" x2="1580.3" y2="518.3" stroke="#000" stroke-width="4.2" />
<line x1="1580.3" y1="63.5" x2="1580.3" y2="51.3" stroke="#000" stroke-width="4.2" />
<line x1="1588.7" y1="506.6" x2="1588.7" y2="518.3" stroke="#000" stroke-width="4.2" />
<line x1="1588.7" y1="63.5" x2="1588.7" y2="51.3" stroke="#000" stroke-width="4.2" />
<line x1="1596.2" y1="506.6" x2="1596.2" y2="531.8" stroke="#000" stroke-width="4.2" />
<line x1="1596.2" y1="63.5" x2="1596.2" y2="38.3" stroke="#000" stroke-width="4.2" />
<line x1="1645.5" y1="506.6" x2="1645.5" y2="518.3" stroke="#000" stroke-width="4.2" />
<line x1="1645.5" y1="63.5" x2="1645.5" y2="51.3" stroke="#000" stroke-width="4.2" />
<line x1="1674.4" y1="506.6" x2="1674.4" y2="518.3" stroke="#000" stroke-width="4.2" />
<line x1="1674.4" y1="63.5" x2="1674.4" y2="51.3" stroke="#000" stroke-width="4.2" />
<line x1="1694.9" y1="506.6" x2="1694.9" y2="518.3" stroke="#000" stroke-width="4.2" />
<line x1="1694.9" y1="63.5" x2="1694.9" y2="51.3" stroke="#000" stroke-width="4.2" />
<line x1="1710.8" y1="506.6" x2="1710.8" y2="518.3" stroke="#000" stroke-width="4.2" />
<line x1="1710.8" y1="63.5" x2="1710.8" y2="51.3" stroke="#000" stroke-width="4.2" />
<line x1="1723.7" y1="506.6" x2="1723.7" y2="518.3" stroke="#000" stroke-width="4.2" />
<line x1="1723.7" y1="63.5" x2="1723.7" y2="51.3" stroke="#000" stroke-width="4.2" />
<line x1="1734.7" y1="506.6" x2="1734.7" y2="518.3" stroke="#000" stroke-width="4.2" />
<line x1="1734.7" y1="63.5" x2="1734.7" y2="51.3" stroke="#000" stroke-width="4.2" />
<line x1="1744.2" y1="506.6" x2="1744.2" y2="518.3" stroke="#000" stroke-width="4.2" />
<line x1="1744.2" y1="63.5" x2="1744.2" y2="51.3" stroke="#000" stroke-width="4.2" />
<line x1="1752.6" y1="506.6" x2="1752.6" y2="518.3" stroke="#000" stroke-width="4.2" />
<line x1="1752.6" y1="63.5" x2="1752.6" y2="51.3" stroke="#000" stroke-width="4.2" />
<line x1="1760.1" y1="506.6" x2="1760.1" y2="531.8" stroke="#000" stroke-width="4.2" />
<line x1="1760.1" y1="63.5" x2="1760.1" y2="38.3" stroke="#000" stroke-width="4.2" />
<line x1="1809.4" y1="506.6" x2="1809.4" y2="518.3" stroke="#000" stroke-width="4.2" />
<line x1="1809.4" y1="63.5" x2="1809.4" y2="51.3" stroke="#000" stroke-width="4.2" />
<line x1="1838.3" y1="506.6" x2="1838.3" y2="518.3" stroke="#000" stroke-width="4.2" />
<line x1="1838.3" y1="63.5" x2="1838.3" y2="51.3" stroke="#000" stroke-width="4.2" />
<line x1="1858.8" y1="506.6" x2="1858.8" y2="518.3" stroke="#000" stroke-width="4.2" />
<line x1="1858.8" y1="63.5" x2="1858.8" y2="51.3" stroke="#000" stroke-width="4.2" />
<line x1="1874.7" y1="506.6" x2="1874.7" y2="518.3" stroke="#000" stroke-width="4.2" />
<line x1="1874.7" y1="63.5" x2="1874.7" y2="51.3" stroke="#000" stroke-width="4.2" />
<line x1="1887.6" y1="506.6" x2="1887.6" y2="518.3" stroke="#000" stroke-width="4.2" />
<line x1="1887.6" y1="63.5" x2="1887.6" y2="51.3" stroke="#000" stroke-width="4.2" />
<line x1="1898.6" y1="506.6" x2="1898.6" y2="518.3" stroke="#000" stroke-width="4.2" />
<line x1="1898.6" y1="63.5" x2="1898.6" y2="51.3" stroke="#000" stroke-width="4.2" />
<line x1="1908.1" y1="506.6" x2="1908.1" y2="518.3" stroke="#000" stroke-width="4.2" />
<line x1="1908.1" y1="63.5" x2="1908.1" y2="51.3" stroke="#000" stroke-width="4.2" />
<line x1="1916.5" y1="506.6" x2="1916.5" y2="518.3" stroke="#000" stroke-width="4.2" />
<line x1="1916.5" y1="63.5" x2="1916.5" y2="51.3" stroke="#000" stroke-width="4.2" />
<line x1="1924.0" y1="506.6" x2="1924.0" y2="531.8" stroke="#000" stroke-width="4.2" />
<line x1="1924.0" y1="63.5" x2="1924.0" y2="38.3" stroke="#000" stroke-width="4.2" />
<line x1="1973.3" y1="506.6" x2="1973.3" y2="518.3" stroke="#000" stroke-width="4.2" />
<line x1="1973.3" y1="63.5" x2="1973.3" y2="51.3" stroke="#000" stroke-width="4.2" />
<line x1="2002.2" y1="506.6" x2="2002.2" y2="518.3" stroke="#000" stroke-width="4.2" />
<line x1="2002.2" y1="63.5" x2="2002.2" y2="51.3" stroke="#000" stroke-width="4.2" />
<line x1="2022.7" y1="506.6" x2="2022.7" y2="518.3" stroke="#000" stroke-width="4.2" />
<line x1="2022.7" y1="63.5" x2="2022.7" y2="51.3" stroke="#000" stroke-width="4.2" />
<line x1="2038.6" y1="506.6" x2="2038.6" y2="518.3" stroke="#000" stroke-width="4.2" />
<line x1="2038.6" y1="63.5" x2="2038.6" y2="51.3" stroke="#000" stroke-width="4.2" />
<line x1="2051.5" y1="506.6" x2="2051.5" y2="518.3" stroke="#000" stroke-width="4.2" />
<line x1="2051.5" y1="63.5" x2="2051.5" y2="51.3" stroke="#000" stroke-width="4.2" />
<line x1="2062.5" y1="506.6" x2="2062.5" y2="518.3" stroke="#000" stroke-width="4.2" />
<line x1="2062.5" y1="63.5" x2="2062.5" y2="51.3" stroke="#000" stroke-width="4.2" />
<line x1="2072.0" y1="506.6" x2="2072.0" y2="518.3" stroke="#000" stroke-width="4.2" />
<line x1="2072.0" y1="63.5" x2="2072.0" y2="51.3" stroke="#000" stroke-width="4.2" />
<line x1="2080.4" y1="506.6" x2="2080.4" y2="518.3" stroke="#000" stroke-width="4.2" />
<line x1="2080.4" y1="63.5" x2="2080.4" y2="51.3" stroke="#000" stroke-width="4.2" />
<line x1="2087.9" y1="506.6" x2="2087.9" y2="531.8" stroke="#000" stroke-width="4.2" />
<line x1="2087.9" y1="63.5" x2="2087.9" y2="38.3" stroke="#000" stroke-width="4.2" />
<line x1="1260.7" y1="506.6" x2="1235.5" y2="506.6" stroke="#000" stroke-width="4.2" />
<line x1="2117.4" y1="506.6" x2="2141.6" y2="506.6" stroke="#000" stroke-width="4.2" />
<line x1="1260.7" y1="484.4" x2="1249.5" y2="484.4" stroke="#000" stroke-width="4.2" />
<line x1="2117.4" y1="484.4" x2="2128.6" y2="484.4" stroke="#000" stroke-width="4.2" />
<line x1="1260.7" y1="471.4" x2="1249.5" y2="471.4" stroke="#000" stroke-width="4.2" />
<line x1="2117.4" y1="471.4" x2="2128.6" y2="471.4" stroke="#000" stroke-width="4.2" />
<line x1="1260.7" y1="462.1" x2="1249.5" y2="462.1" stroke="#000" stroke-width="4.2" />
<line x1="2117.4" y1="462.1" x2="2128.6" y2="462.1" stroke="#000" stroke-width="4.2" />
<line x1="1260.7" y1="455.0" x2="1249.5" y2="455.0" stroke="#000" stroke-width="4.2" />
<line x1="2117.4" y1="455.0" x2="2128.6" y2="455.0" stroke="#000" stroke-width="4.2" />
<line x1="1260.7" y1="449.1" x2="1249.5" y2="449.1" stroke="#000" stroke-width="4.2" />
<line x1="2117.4" y1="449.1" x2="2128.6" y2="449.1" stroke="#000" stroke-width="4.2" />
<line x1="1260.7" y1="444.2" x2="1249.5" y2="444.2" stroke="#000" stroke-width="4.2" />
<line x1="2117.4" y1="444.2" x2="2128.6" y2="444.2" stroke="#000" stroke-width="4.2" />
<line x1="1260.7" y1="439.9" x2="1249.5" y2="439.9" stroke="#000" stroke-width="4.2" />
<line x1="2117.4" y1="439.9" x2="2128.6" y2="439.9" stroke="#000" stroke-width="4.2" />
<line x1="1260.7" y1="436.1" x2="1249.5" y2="436.1" stroke="#000" stroke-width="4.2" />
<line x1="2117.4" y1="436.1" x2="2128.6" y2="436.1" stroke="#000" stroke-width="4.2" />
<line x1="1260.7" y1="432.8" x2="1235.5" y2="432.8" stroke="#000" stroke-width="4.2" />
<line x1="2117.4" y1="432.8" x2="2141.6" y2="432.8" stroke="#000" stroke-width="4.2" />
<line x1="1260.7" y1="410.5" x2="1249.5" y2="410.5" stroke="#000" stroke-width="4.2" />
<line x1="2117.4" y1="410.5" x2="2128.6" y2="410.5" stroke="#000" stroke-width="4.2" />
<line x1="1260.7" y1="397.5" x2="1249.5" y2="397.5" stroke="#000" stroke-width="4.2" />
<line x1="2117.4" y1="397.5" x2="2128.6" y2="397.5" stroke="#000" stroke-width="4.2" />
<line x1="1260.7" y1="388.3" x2="1249.5" y2="388.3" stroke="#000" stroke-width="4.2" />
<line x1="2117.4" y1="388.3" x2="2128.6" y2="388.3" stroke="#000" stroke-width="4.2" />
<line x1="1260.7" y1="381.1" x2="1249.5" y2="381.1" stroke="#000" stroke-width="4.2" />
<line x1="2117.4" y1="381.1" x2="2128.6" y2="381.1" stroke="#000" stroke-width="4.2" />
<line x1="1260.7" y1="375.3" x2="1249.5" y2="375.3" stroke="#000" stroke-width="4.2" />
<line x1="2117.4" y1="375.3" x2="2128.6" y2="375.3" stroke="#000" stroke-width="4.2" />
<line x1="1260.7" y1="370.3" x2="1249.5" y2="370.3" stroke="#000" stroke-width="4.2" />
<line x1="2117.4" y1="370.3" x2="2128.6" y2="370.3" stroke="#000" stroke-width="4.2" />
<line x1="1260.7" y1="366.1" x2="1249.5" y2="366.1" stroke="#000" stroke-width="4.2" />
<line x1="2117.4" y1="366.1" x2="2128.6" y2="366.1" stroke="#000" stroke-width="4.2" />
<line x1="1260.7" y1="362.3" x2="1249.5" y2="362.3" stroke="#000" stroke-width="4.2" />
<line x1="2117.4" y1="362.3" x2="2128.6" y2="362.3" stroke="#000" stroke-width="4.2" />
<line x1="1260.7" y1="358.9" x2="1235.5" y2="358.9" stroke="#000" stroke-width="4.2" />
<line x1="2117.4" y1="358.9" x2="2141.6" y2="358.9" stroke="#000" stroke-width="4.2" />
<line x1="1260.7" y1="336.7" x2="1249.5" y2="336.7" stroke="#000" stroke-width="4.2" />
<line x1="2117.4" y1="336.7" x2="2128.6" y2="336.7" stroke="#000" stroke-width="4.2" />
<line x1="1260.7" y1="323.7" x2="1249.5" y2="323.7" stroke="#000" stroke-width="4.2" />
<line x1="2117.4" y1="323.7" x2="2128.6" y2="323.7" stroke="#000" stroke-width="4.2" />
<line x1="1260.7" y1="314.4" x2="1249.5" y2="314.4" stroke="#000" stroke-width="4.2" />
<line x1="2117.4" y1="314.4" x2="2128.6" y2="314.4" stroke="#000" stroke-width="4.2" />
<line x1="1260.7" y1="307.3" x2="1249.5" y2="307.3" stroke="#000" stroke-width="4.2" />
<line x1="2117.4" y1="307.3" x2="2128.6" y2="307.3" stroke="#000" stroke-width="4.2" />
<line x1="1260.7" y1="301.4" x2="1249.5" y2="301.4" stroke="#000" stroke-width="4.2" />
<line x1="2117.4" y1="301.4" x2="2128.6" y2="301.4" stroke="#000" stroke-width="4.2" />
<line x1="1260.7" y1="296.5" x2="1249.5" y2="296.5" stroke="#000" stroke-width="4.2" />
<line x1="2117.4" y1="296.5" x2="2128.6" y2="296.5" stroke="#000" stroke-width="4.2" />
<line x1="1260.7" y1="292.2" x2="1249.5" y2="292.2" stroke="#000" stroke-width="4.2" />
<line x1="2117.4" y1="292.2" x2="2128.6" y2="292.2" stroke="#000" stroke-width="4.2" />
<line x1="1260.7" y1="288.4" x2="1249.5" y2="288.4" stroke="#000" stroke-width="4.2" />
<line x1="2117.4" y1="288.4" x2="2128.6" y2="288.4" stroke="#000" stroke-width="4.2" />
<line x1="1260.7" y1="285.1" x2="1235.5" y2="285.1" stroke="#000" stroke-width="4.2" />
<line x1="2117.4" y1="285.1" x2="2141.6" y2="285.1" stroke="#000" stroke-width="4.2" />
<line x1="1260.7" y1="262.8" x2="1249.5" y2="262.8" stroke="#000" stroke-width="4.2" />
<line x1="2117.4" y1="262.8" x2="2128.6" y2="262.8" stroke="#000" stroke-width="4.2" />
<line x1="1260.7" y1="249.8" x2="1249.5" y2="249.8" stroke="#000" stroke-width="4.2" />
<line x1="2117.4" y1="249.8" x2="2128.6" y2="249.8" stroke="#000" stroke-width="4.2" />
<line x1="1260.7" y1="240.6" x2="1249.5" y2="240.6" stroke="#000" stroke-width="4.2" />
<line x1="2117.4" y1="240.6" x2="2128.6" y2="240.6" stroke="#000" stroke-width="4.2" />
<line x1="1260.7" y1="233.4" x2="1249.5" y2="233.4" stroke="#000" stroke-width="4.2" />
<line x1="2117.4" y1="233.4" x2="2128.6" y2="233.4" stroke="#000" stroke-width="4.2" />
<line x1="1260.7" y1="227.6" x2="1249.5" y2="227.6" stroke="#000" stroke-width="4.2" />
<line x1="2117.4" y1="227.6" x2="2128.6" y2="227.6" stroke="#000" stroke-width="4.2" />
<line x1="1260.7" y1="222.6" x2="1249.5" y2="222.6" stroke="#000" stroke-width="4.2" />
<line x1="2117.4" y1="222.6" x2="2128.6" y2="222.6" stroke="#000" stroke-width="4.2" />
<line x1="1260.7" y1="218.4" x2="1249.5" y2="218.4" stroke="#000" stroke-width="4.2" />
<line x1="2117.4" y1="218.4" x2="2128.6" y2="218.4" stroke="#000" stroke-width="4.2" />
<line x1="1260.7" y1="214.6" x2="1249.5" y2="214.6" stroke="#000" stroke-width="4.2" />
<line x1="2117.4" y1="214.6" x2="2128.6" y2="214.6" stroke="#000" stroke-width="4.2" />
<line x1="1260.7" y1="211.2" x2="1235.5" y2="211.2" stroke="#000" stroke-width="4.2" />
<line x1="2117.4" y1="211.2" x2="2141.6" y2="211.2" stroke="#000" stroke-width="4.2" />
<line x1="1260.7" y1="189.0" x2="1249.5" y2="189.0" stroke="#000" stroke-width="4.2" />
<line x1="2117.4" y1="189.0" x2="2128.6" y2="189.0" stroke="#000" stroke-width="4.2" />
<line x1="1260.7" y1="176.0" x2="1249.5" y2="176.0" stroke="#000" stroke-width="4.2" />
<line x1="2117.4" y1="176.0" x2="2128.6" y2="176.0" stroke="#000" stroke-width="4.2" />
<line x1="1260.7" y1="166.7" x2="1249.5" y2="166.7" stroke="#000" stroke-width="4.2" />
<line x1="2117.4" y1="166.7" x2="2128.6" y2="166.7" stroke="#000" stroke-width="4.2" />
<line x1="1260.7" y1="159.6" x2="1249.5" y2="159.6" stroke="#000" stroke-width="4.2" />
<line x1="2117.4" y1="159.6" x2="2128.6" y2="159.6" stroke="#000" stroke-width="4.2" />
<line x1="1260.7" y1="153.7" x2="1249.5" y2="153.7" stroke="#000" stroke-width="4.2" />
<line x1="2117.4" y1="153.7" x2="2128.6" y2="153.7" stroke="#000" stroke-width="4.2" />
<line x1="1260.7" y1="148.8" x2="1249.5" y2="148.8" stroke="#000" stroke-width="4.2" />
<line x1="2117.4" y1="148.8" x2="2128.6" y2="148.8" stroke="#000" stroke-width="4.2" />
<line x1="1260.7" y1="144.5" x2="1249.5" y2="144.5" stroke="#000" stroke-width="4.2" />
<line x1="2117.4" y1="144.5" x2="2128.6" y2="144.5" stroke="#000" stroke-width="4.2" />
<line x1="1260.7" y1="140.7" x2="1249.5" y2="140.7" stroke="#000" stroke-width="4.2" />
<line x1="2117.4" y1="140.7" x2="2128.6" y2="140.7" stroke="#000" stroke-width="4.2" />
<line x1="1260.7" y1="137.4" x2="1235.5" y2="137.4" stroke="#000" stroke-width="4.2" />
<line x1="2117.4" y1="137.4" x2="2141.6" y2="137.4" stroke="#000" stroke-width="4.2" />
<line x1="1260.7" y1="115.1" x2="1249.5" y2="115.1" stroke="#000" stroke-width="4.2" />
<line x1="2117.4" y1="115.1" x2="2128.6" y2="115.1" stroke="#000" stroke-width="4.2" />
<line x1="1260.7" y1="102.1" x2="1249.5" y2="102.1" stroke="#000" stroke-width="4.2" />
<line x1="2117.4" y1="102.1" x2="2128.6" y2="102.1" stroke="#000" stroke-width="4.2" />
<line x1="1260.7" y1="92.9" x2="1249.5" y2="92.9" stroke="#000" stroke-width="4.2" />
<line x1="2117.4" y1="92.9" x2="2128.6" y2="92.9" stroke="#000" stroke-width="4.2" />
<line x1="1260.7" y1="85.7" x2="1249.5" y2="85.7" stroke="#000" stroke-width="4.2" />
<line x1="2117.4" y1="85.7" x2="2128.6" y2="85.7" stroke="#000" stroke-width="4.2" />
<line x1="1260.7" y1="79.9" x2="1249.5" y2="79.9" stroke="#000" stroke-width="4.2" />
<line x1="2117.4" y1="79.9" x2="2128.6" y2="79.9" stroke="#000" stroke-width="4.2" />
<line x1="1260.7" y1="74.9" x2="1249.5" y2="74.9" stroke="#000" stroke-width="4.2" />
<line x1="2117.4" y1="74.9" x2="2128.6" y2="74.9" stroke="#000" stroke-width="4.2" />
<line x1="1260.7" y1="70.7" x2="1249.5" y2="70.7" stroke="#000" stroke-width="4.2" />
<line x1="2117.4" y1="70.7" x2="2128.6" y2="70.7" stroke="#000" stroke-width="4.2" />
<line x1="1260.7" y1="66.9" x2="1249.5" y2="66.9" stroke="#000" stroke-width="4.2" />
<line x1="2117.4" y1="66.9" x2="2128.6" y2="66.9" stroke="#000" stroke-width="4.2" />
<line x1="1260.7" y1="63.5" x2="1235.5" y2="63.5" stroke="#000" stroke-width="4.2" />
<line x1="2117.4" y1="63.5" x2="2141.6" y2="63.5" stroke="#000" stroke-width="4.2" />
<text x="1268.4" y="599.5" font-size="54.5" font-family="'Liberation Sans', sans-serif" text-anchor="middle">10<tspan font-size="36.5" dy="-23.6">-3</tspan></text>
<text x="1432.3" y="599.5" font-size="54.5" font-family="'Liberation Sans', sans-serif" text-anchor="middle">10<tspan font-size="36.5" dy="-23.6">-2</tspan></text>
<text x="1596.2" y="599.5" font-size="54.5" font-family="'Liberation Sans', sans-serif" text-anchor="middle">10<tspan font-size="36.5" dy="-23.6">-1</tspan></text>
<text x="1760.1" y="599.5" font-size="54.5" font-family="'Liberation Sans', sans-serif" text-anchor="middle">10<tspan font-size="36.5" dy="-23.6">0</tspan></text>
<text x="1924.0" y="599.5" font-size="54.5" font-family="'Liberation Sans', sans-serif" text-anchor="middle">10<tspan font-size="36.5" dy="-23.6">1</tspan></text>
<text x="2087.9" y="599.5" font-size="54.5" font-family="'Liberation Sans', sans-serif" text-anchor="middle">10<tspan font-size="36.5" dy="-23.6">2</tspan></text>
<text x="2161" y="525.3" font-size="52" font-family="'Liberation Sans', sans-serif">10<tspan font-size="36.4" dy="-21">3</tspan></text>
<text x="2161" y="377.6" font-size="52" font-family="'Liberation Sans', sans-serif">10<tspan font-size="36.4" dy="-21">5</tspan></text>
<text x="2161" y="229.9" font-size="52" font-family="'Liberation Sans', sans-serif">10<tspan font-size="36.4" dy="-21">7</tspan></text>
<text x="2161" y="82.2" font-size="52" font-family="'Liberation Sans', sans-serif">10<tspan font-size="36.4" dy="-21">9</tspan></text>
<text x="1688" y="662" font-size="59.5" font-family="'Liberation Sans', sans-serif" text-anchor="middle">intensity (<tspan font-family="'Liberation Serif', serif">µ</tspan>W/<tspan font-family="'Liberation Serif', serif">µ</tspan>m<tspan font-size="40" dy="-24">2</tspan><tspan dy="24">)</tspan></text>
<text x="2307" y="284.5" font-size="59.5" font-family="'Liberation Sans', sans-serif" text-anchor="middle" transform="rotate(-90 2307 284.5)">PL signal (counts)</text>
<text x="1285.0" y="140.2" font-size="63.5" font-family="'Liberation Sans', sans-serif" font-weight="bold" text-anchor="start" fill="#000" >(b)</text>
</g>
<g fill="none" stroke="#e6e6e6" stroke-width="1.2">
<polyline points="39,1262 39,725 668,725"/>
<polyline points="49,1287 670,1287"/><polyline points="49,1832 670,1832"/>
<polyline points="783,712 1414,712 1414,1270"/>
<polyline points="785,1285 1413,1285"/><polyline points="785,1830 1405,1830"/>
<polyline points="1517,1265 1517,706 2145,706"/><polyline points="1517,1265 2145,1265"/>
<polyline points="1527,1274 2150,1274"/><polyline points="1527,1836 2150,1836"/>
</g>
<svg x="49" y="731.5" width="537.6" height="530.5" viewBox="0 0 1000 1000" preserveAspectRatio="none">
<filter id="jfc" x="-300" y="-300" width="1600" height="1600" filterUnits="userSpaceOnUse" color-interpolation-filters="sRGB"><feComponentTransfer><feFuncR type="table" tableValues="0.000 0.000 0.000 0.000 0.000 0.000 0.000 0.000 0.000 0.000 0.000 0.000 0.000 0.000 0.000 0.078 0.161 0.239 0.322 0.400 0.482 0.561 0.643 0.725 0.804 0.886 0.965 1.000 1.000 1.000 1.000 1.000 1.000 1.000 1.000 1.000 0.953 0.839 0.725 0.612 0.498"/><feFuncG type="table" tableValues="0.000 0.000 0.000 0.000 0.000 0.000 0.098 0.196 0.298 0.400 0.498 0.600 0.698 0.800 0.898 1.000 1.000 1.000 1.000 1.000 1.000 1.000 1.000 1.000 1.000 1.000 0.961 0.867 0.776 0.682 0.592 0.498 0.404 0.314 0.220 0.129 0.035 0.000 0.000 0.000 0.000"/><feFuncB type="table" tableValues="0.498 0.612 0.725 0.839 0.953 1.000 1.000 1.000 1.000 1.000 1.000 1.000 1.000 1.000 0.965 0.886 0.804 0.725 0.643 0.561 0.482 0.400 0.322 0.239 0.161 0.078 0.000 0.000 0.000 0.000 0.000 0.000 0.000 0.000 0.000 0.000 0.000 0.000 0.000 0.000 0.000"/></feComponentTransfer></filter>
<filter id="jbc" x="-300" y="-300" width="1600" height="1600" filterUnits="userSpaceOnUse" color-interpolation-filters="sRGB"><feGaussianBlur stdDeviation="74.4"/></filter>
<filter id="jsc" x="-300" y="-300" width="1600" height="1600" filterUnits="userSpaceOnUse" color-interpolation-filters="sRGB"><feGaussianBlur stdDeviation="20.5"/></filter>
<g filter="url(#jfc)"><g filter="url(#jbc)">
<rect x="-300" y="-300" width="301" height="301" fill="#8c8c8c"/>
<rect x="0" y="-300" width="168" height="301" fill="#8c8c8c"/>
<rect x="167" y="-300" width="168" height="301" fill="#858585"/>
<rect x="333" y="-300" width="168" height="301" fill="#6b6b6b"/>
<rect x="500" y="-300" width="168" height="301" fill="#787878"/>
<rect x="667" y="-300" width="168" height="301" fill="#919191"/>
<rect x="833" y="-300" width="168" height="301" fill="#969696"/>
<rect x="1000" y="-300" width="301" height="301" fill="#969696"/>
<rect x="-300" y="0" width="301" height="168" fill="#8c8c8c"/>
<rect x="0" y="0" width="168" height="168" fill="#8c8c8c"/>
<rect x="167" y="0" width="168" height="168" fill="#858585"/>
<rect x="333" y="0" width="168" height="168" fill="#6b6b6b"/>
<rect x="500" y="0" width="168" height="168" fill="#787878"/>
<rect x="667" y="0" width="168" height="168" fill="#919191"/>
<rect x="833" y="0" width="168" height="168" fill="#969696"/>
<rect x="1000" y="0" width="301" height="168" fill="#969696"/>
<rect x="-300" y="167" width="301" height="168" fill="#787878"/>
<rect x="0" y="167" width="168" height="168" fill="#787878"/>
<rect x="167" y="167" width="168" height="168" fill="#6b6b6b"/>
<rect x="333" y="167" width="168" height="168" fill="#636363"/>
<rect x="500" y="167" width="168" height="168" fill="#6b6b6b"/>
<rect x="667" y="167" width="168" height="168" fill="#858585"/>
<rect x="833" y="167" width="168" height="168" fill="#969696"/>
<rect x="1000" y="167" width="301" height="168" fill="#969696"/>
<rect x="-300" y="333" width="301" height="168" fill="#787878"/>
<rect x="0" y="333" width="168" height="168" fill="#787878"/>
<rect x="167" y="333" width="168" height="168" fill="#787878"/>
<rect x="333" y="333" width="168" height="168" fill="#787878"/>
<rect x="500" y="333" width="168" height="168" fill="#636363"/>
<rect x="667" y="333" width="168" height="168" fill="#858585"/>
<rect x="833" y="333" width="168" height="168" fill="#919191"/>
<rect x="1000" y="333" width="301" height="168" fill="#919191"/>
<rect x="-300" y="500" width="301" height="168" fill="#858585"/>
<rect x="0" y="500" width="168" height="168" fill="#858585"/>
<rect x="167" y="500" width="168" height="168" fill="#787878"/>
<rect x="333" y="500" width="168" height="168" fill="#858585"/>
<rect x="500" y="500" width="168" height="168" fill="#6b6b6b"/>
<rect x="667" y="500" width="168" height="168" fill="#787878"/>
<rect x="833" y="500" width="168" height="168" fill="#858585"/>
<rect x="1000" y="500" width="301" height="168" fill="#858585"/>
<rect x="-300" y="667" width="301" height="168" fill="#6b6b6b"/>
<rect x="0" y="667" width="168" height="168" fill="#6b6b6b"/>
<rect x="167" y="667" width="168" height="168" fill="#6b6b6b"/>
<rect x="333" y="667" width="168" height="168" fill="#787878"/>
<rect x="500" y="667" width="168" height="168" fill="#787878"/>
<rect x="667" y="667" width="168" height="168" fill="#787878"/>
<rect x="833" y="667" width="168" height="168" fill="#8c8c8c"/>
<rect x="1000" y="667" width="301" height="168" fill="#8c8c8c"/>
<rect x="-300" y="833" width="301" height="168" fill="#7d7d7d"/>
<rect x="0" y="833" width="168" height="168" fill="#7d7d7d"/>
<rect x="167" y="833" width="168" height="168" fill="#6b6b6b"/>
<rect x="333" y="833" width="168" height="168" fill="#6b6b6b"/>
<rect x="500" y="833" width="168" height="168" fill="#787878"/>
<rect x="667" y="833" width="168" height="168" fill="#8c8c8c"/>
<rect x="833" y="833" width="168" height="168" fill="#919191"/>
<rect x="1000" y="833" width="301" height="168" fill="#919191"/>
<rect x="-300" y="1000" width="301" height="301" fill="#7d7d7d"/>
<rect x="0" y="1000" width="168" height="301" fill="#7d7d7d"/>
<rect x="167" y="1000" width="168" height="301" fill="#6b6b6b"/>
<rect x="333" y="1000" width="168" height="301" fill="#6b6b6b"/>
<rect x="500" y="1000" width="168" height="301" fill="#787878"/>
<rect x="667" y="1000" width="168" height="301" fill="#8c8c8c"/>
<rect x="833" y="1000" width="168" height="301" fill="#919191"/>
<rect x="1000" y="1000" width="301" height="301" fill="#919191"/>
</g><g filter="url(#jsc)">
<ellipse cx="86" cy="58" rx="81" ry="65" fill="#a6a6a6"/>
<ellipse cx="35" cy="234" rx="48" ry="82" fill="#adadad"/>
<ellipse cx="893" cy="146" rx="121" ry="123" fill="#adadad"/>
<ellipse cx="865" cy="584" rx="81" ry="82" fill="#9e9e9e"/>
<ellipse cx="951" cy="730" rx="65" ry="123" fill="#adadad"/>
<ellipse cx="403" cy="555" rx="65" ry="49" fill="#9e9e9e"/>
<ellipse cx="144" cy="701" rx="65" ry="49" fill="#999999"/>
<ellipse cx="519" cy="701" rx="65" ry="65" fill="#999999"/>
<ellipse cx="346" cy="964" rx="121" ry="49" fill="#999999"/>
<ellipse cx="519" cy="964" rx="81" ry="49" fill="#adadad"/>
<ellipse cx="576" cy="146" rx="65" ry="65" fill="#999999"/>
<ellipse cx="663" cy="245" rx="48" ry="49" fill="#9e9e9e"/>
<ellipse cx="202" cy="64" rx="56" ry="74" fill="#ededed"/>
<ellipse cx="196" cy="169" rx="48" ry="57" fill="#dedede"/>
<ellipse cx="190" cy="280" rx="40" ry="41" fill="#c7c7c7"/>
<ellipse cx="242" cy="368" rx="48" ry="53" fill="#e0e0e0"/>
<ellipse cx="749" cy="146" rx="65" ry="82" fill="#dedede"/>
<ellipse cx="772" cy="301" rx="56" ry="49" fill="#f2f2f2"/>
<ellipse cx="968" cy="310" rx="40" ry="49" fill="#e0e0e0"/>
<ellipse cx="951" cy="421" rx="73" ry="57" fill="#ededed"/>
<ellipse cx="865" cy="374" rx="56" ry="41" fill="#d1d1d1"/>
<ellipse cx="450" cy="345" rx="56" ry="45" fill="#e0e0e0"/>
<ellipse cx="571" cy="350" rx="56" ry="33" fill="#c7c7c7"/>
<ellipse cx="369" cy="514" rx="44" ry="78" fill="#f2f2f2"/>
<ellipse cx="288" cy="572" rx="44" ry="49" fill="#ededed"/>
<ellipse cx="104" cy="590" rx="52" ry="45" fill="#d9d9d9"/>
<ellipse cx="52" cy="496" rx="40" ry="65" fill="#cccccc"/>
<ellipse cx="202" cy="526" rx="40" ry="41" fill="#c7c7c7"/>
<ellipse cx="484" cy="602" rx="48" ry="53" fill="#f2f2f2"/>
<ellipse cx="611" cy="619" rx="65" ry="49" fill="#e6e6e6"/>
<ellipse cx="798" cy="643" rx="44" ry="57" fill="#e6e6e6"/>
<ellipse cx="899" cy="701" rx="48" ry="57" fill="#d1d1d1"/>
<ellipse cx="893" cy="485" rx="36" ry="37" fill="#d9d9d9"/>
<ellipse cx="744" cy="508" rx="36" ry="41" fill="#cccccc"/>
<ellipse cx="697" cy="403" rx="36" ry="33" fill="#c7c7c7"/>
<ellipse cx="599" cy="730" rx="32" ry="41" fill="#d1d1d1"/>
<ellipse cx="611" cy="806" rx="48" ry="57" fill="#d1d1d1"/>
<ellipse cx="720" cy="911" rx="81" ry="49" fill="#d9d9d9"/>
<ellipse cx="957" cy="900" rx="56" ry="82" fill="#e0e0e0"/>
<ellipse cx="190" cy="970" rx="73" ry="41" fill="#e0e0e0"/>
<ellipse cx="75" cy="864" rx="73" ry="49" fill="#cccccc"/>
<ellipse cx="501" cy="853" rx="48" ry="49" fill="#d1d1d1"/>
<ellipse cx="375" cy="754" rx="36" ry="49" fill="#c7c7c7"/>
<ellipse cx="144" cy="759" rx="28" ry="33" fill="#bfbfbf"/>
<ellipse cx="836" cy="794" rx="97" ry="41" fill="#cccccc"/>
<ellipse cx="40" cy="339" rx="40" ry="41" fill="#c7c7c7"/>
<ellipse cx="346" cy="105" rx="32" ry="49" fill="#bfbfbf"/>
<ellipse cx="968" cy="35" rx="48" ry="57" fill="#c7c7c7"/>
<ellipse cx="536" cy="6" rx="65" ry="25" fill="#cccccc"/>
<ellipse cx="576" cy="82" rx="24" ry="25" fill="#b8b8b8"/>
<ellipse cx="501" cy="257" rx="32" ry="33" fill="#c7c7c7"/>
<ellipse cx="415" cy="421" rx="32" ry="33" fill="#c7c7c7"/>
<ellipse cx="836" cy="175" rx="48" ry="49" fill="#b8b8b8"/>
<ellipse cx="17" cy="187" rx="24" ry="41" fill="#bfbfbf"/>
<ellipse cx="363" cy="631" rx="32" ry="33" fill="#bfbfbf"/>
<ellipse cx="807" cy="935" rx="48" ry="41" fill="#bfbfbf"/>
<ellipse cx="340" cy="210" rx="52" ry="30" fill="#333333"/>
<ellipse cx="282" cy="304" rx="30" ry="30" fill="#4c4c4c"/>
<ellipse cx="444" cy="117" rx="22" ry="46" fill="#4c4c4c"/>
<ellipse cx="582" cy="222" rx="22" ry="30" fill="#474747"/>
<ellipse cx="524" cy="415" rx="37" ry="27" fill="#1f1f1f"/>
<ellipse cx="605" cy="403" rx="30" ry="23" fill="#333333"/>
<ellipse cx="640" cy="485" rx="37" ry="61" fill="#262626"/>
<ellipse cx="110" cy="429" rx="26" ry="27" fill="#333333"/>
<ellipse cx="190" cy="631" rx="37" ry="27" fill="#262626"/>
<ellipse cx="732" cy="707" rx="52" ry="61" fill="#0d0d0d"/>
<ellipse cx="709" cy="783" rx="26" ry="53" fill="#333333"/>
<ellipse cx="484" cy="794" rx="37" ry="23" fill="#333333"/>
<ellipse cx="282" cy="853" rx="34" ry="38" fill="#191919"/>
<ellipse cx="86" cy="689" rx="19" ry="23" fill="#474747"/>
<ellipse cx="974" cy="532" rx="22" ry="30" fill="#404040"/>
<ellipse cx="963" cy="613" rx="22" ry="23" fill="#4c4c4c"/>
<ellipse cx="242" cy="748" rx="45" ry="23" fill="#4c4c4c"/>
<ellipse cx="58" cy="800" rx="37" ry="19" fill="#4c4c4c"/>
</g></g></svg>
<rect x="49" y="731.5" width="537.6" height="530.5" fill="none" stroke="#333" stroke-width="2.2"/>
<svg x="794.5" y="726.7" width="536.2" height="532.1" viewBox="0 0 1000 1000" preserveAspectRatio="none">
<filter id="jfd" x="-300" y="-300" width="1600" height="1600" filterUnits="userSpaceOnUse" color-interpolation-filters="sRGB"><feComponentTransfer><feFuncR type="table" tableValues="0.000 0.000 0.000 0.000 0.000 0.000 0.000 0.000 0.000 0.000 0.000 0.000 0.000 0.000 0.000 0.078 0.161 0.239 0.322 0.400 0.482 0.561 0.643 0.725 0.804 0.886 0.965 1.000 1.000 1.000 1.000 1.000 1.000 1.000 1.000 1.000 0.953 0.839 0.725 0.612 0.498"/><feFuncG type="table" tableValues="0.000 0.000 0.000 0.000 0.000 0.000 0.098 0.196 0.298 0.400 0.498 0.600 0.698 0.800 0.898 1.000 1.000 1.000 1.000 1.000 1.000 1.000 1.000 1.000 1.000 1.000 0.961 0.867 0.776 0.682 0.592 0.498 0.404 0.314 0.220 0.129 0.035 0.000 0.000 0.000 0.000"/><feFuncB type="table" tableValues="0.498 0.612 0.725 0.839 0.953 1.000 1.000 1.000 1.000 1.000 1.000 1.000 1.000 1.000 0.965 0.886 0.804 0.725 0.643 0.561 0.482 0.400 0.322 0.239 0.161 0.078 0.000 0.000 0.000 0.000 0.000 0.000 0.000 0.000 0.000 0.000 0.000 0.000 0.000 0.000 0.000"/></feComponentTransfer></filter>
<filter id="jbd" x="-300" y="-300" width="1600" height="1600" filterUnits="userSpaceOnUse" color-interpolation-filters="sRGB"><feGaussianBlur stdDeviation="74.6"/></filter>
<filter id="jsd" x="-300" y="-300" width="1600" height="1600" filterUnits="userSpaceOnUse" color-interpolation-filters="sRGB"><feGaussianBlur stdDeviation="20.5"/></filter>
<g filter="url(#jfd)"><g filter="url(#jbd)">
<rect x="-300" y="-300" width="301" height="301" fill="#737373"/>
<rect x="0" y="-300" width="168" height="301" fill="#737373"/>
<rect x="167" y="-300" width="168" height="301" fill="#808080"/>
<rect x="333" y="-300" width="168" height="301" fill="#737373"/>
<rect x="500" y="-300" width="168" height="301" fill="#737373"/>
<rect x="667" y="-300" width="168" height="301" fill="#737373"/>
<rect x="833" y="-300" width="168" height="301" fill="#808080"/>
<rect x="1000" y="-300" width="301" height="301" fill="#808080"/>
<rect x="-300" y="0" width="301" height="168" fill="#737373"/>
<rect x="0" y="0" width="168" height="168" fill="#737373"/>
<rect x="167" y="0" width="168" height="168" fill="#808080"/>
<rect x="333" y="0" width="168" height="168" fill="#737373"/>
<rect x="500" y="0" width="168" height="168" fill="#737373"/>
<rect x="667" y="0" width="168" height="168" fill="#737373"/>
<rect x="833" y="0" width="168" height="168" fill="#808080"/>
<rect x="1000" y="0" width="301" height="168" fill="#808080"/>
<rect x="-300" y="167" width="301" height="168" fill="#808080"/>
<rect x="0" y="167" width="168" height="168" fill="#808080"/>
<rect x="167" y="167" width="168" height="168" fill="#666666"/>
<rect x="333" y="167" width="168" height="168" fill="#5e5e5e"/>
<rect x="500" y="167" width="168" height="168" fill="#737373"/>
<rect x="667" y="167" width="168" height="168" fill="#666666"/>
<rect x="833" y="167" width="168" height="168" fill="#737373"/>
<rect x="1000" y="167" width="301" height="168" fill="#737373"/>
<rect x="-300" y="333" width="301" height="168" fill="#737373"/>
<rect x="0" y="333" width="168" height="168" fill="#737373"/>
<rect x="167" y="333" width="168" height="168" fill="#5e5e5e"/>
<rect x="333" y="333" width="168" height="168" fill="#666666"/>
<rect x="500" y="333" width="168" height="168" fill="#5e5e5e"/>
<rect x="667" y="333" width="168" height="168" fill="#737373"/>
<rect x="833" y="333" width="168" height="168" fill="#737373"/>
<rect x="1000" y="333" width="301" height="168" fill="#737373"/>
<rect x="-300" y="500" width="301" height="168" fill="#666666"/>
<rect x="0" y="500" width="168" height="168" fill="#666666"/>
<rect x="167" y="500" width="168" height="168" fill="#737373"/>
<rect x="333" y="500" width="168" height="168" fill="#666666"/>
<rect x="500" y="500" width="168" height="168" fill="#5e5e5e"/>
<rect x="667" y="500" width="168" height="168" fill="#666666"/>
<rect x="833" y="500" width="168" height="168" fill="#666666"/>
<rect x="1000" y="500" width="301" height="168" fill="#666666"/>
<rect x="-300" y="667" width="301" height="168" fill="#595959"/>
<rect x="0" y="667" width="168" height="168" fill="#595959"/>
<rect x="167" y="667" width="168" height="168" fill="#666666"/>
<rect x="333" y="667" width="168" height="168" fill="#666666"/>
<rect x="500" y="667" width="168" height="168" fill="#5e5e5e"/>
<rect x="667" y="667" width="168" height="168" fill="#666666"/>
<rect x="833" y="667" width="168" height="168" fill="#666666"/>
<rect x="1000" y="667" width="301" height="168" fill="#666666"/>
<rect x="-300" y="833" width="301" height="168" fill="#808080"/>
<rect x="0" y="833" width="168" height="168" fill="#808080"/>
<rect x="167" y="833" width="168" height="168" fill="#737373"/>
<rect x="333" y="833" width="168" height="168" fill="#666666"/>
<rect x="500" y="833" width="168" height="168" fill="#737373"/>
<rect x="667" y="833" width="168" height="168" fill="#808080"/>
<rect x="833" y="833" width="168" height="168" fill="#808080"/>
<rect x="1000" y="833" width="301" height="168" fill="#808080"/>
<rect x="-300" y="1000" width="301" height="301" fill="#808080"/>
<rect x="0" y="1000" width="168" height="301" fill="#808080"/>
<rect x="167" y="1000" width="168" height="301" fill="#737373"/>
<rect x="333" y="1000" width="168" height="301" fill="#666666"/>
<rect x="500" y="1000" width="168" height="301" fill="#737373"/>
<rect x="667" y="1000" width="168" height="301" fill="#808080"/>
<rect x="833" y="1000" width="168" height="301" fill="#808080"/>
<rect x="1000" y="1000" width="301" height="301" fill="#808080"/>
</g><g filter="url(#jsd)">
<ellipse cx="533" cy="12" rx="65" ry="33" fill="#f2f2f2"/>
<ellipse cx="272" cy="93" rx="89" ry="49" fill="#cccccc"/>
<ellipse cx="93" cy="175" rx="49" ry="41" fill="#e0e0e0"/>
<ellipse cx="35" cy="164" rx="41" ry="65" fill="#c7c7c7"/>
<ellipse cx="35" cy="321" rx="57" ry="74" fill="#e6e6e6"/>
<ellipse cx="759" cy="105" rx="49" ry="74" fill="#e6e6e6"/>
<ellipse cx="812" cy="193" rx="41" ry="41" fill="#e0e0e0"/>
<ellipse cx="957" cy="29" rx="41" ry="41" fill="#c7c7c7"/>
<ellipse cx="510" cy="263" rx="57" ry="90" fill="#d9d9d9"/>
<ellipse cx="545" cy="339" rx="32" ry="49" fill="#d1d1d1"/>
<ellipse cx="620" cy="304" rx="32" ry="65" fill="#c7c7c7"/>
<ellipse cx="232" cy="269" rx="41" ry="33" fill="#cccccc"/>
<ellipse cx="232" cy="380" rx="49" ry="49" fill="#e6e6e6"/>
<ellipse cx="197" cy="193" rx="24" ry="25" fill="#c7c7c7"/>
<ellipse cx="441" cy="426" rx="53" ry="45" fill="#ebebeb"/>
<ellipse cx="846" cy="350" rx="45" ry="65" fill="#e6e6e6"/>
<ellipse cx="910" cy="426" rx="49" ry="74" fill="#e6e6e6"/>
<ellipse cx="980" cy="245" rx="24" ry="41" fill="#c7c7c7"/>
<ellipse cx="255" cy="467" rx="41" ry="41" fill="#d9d9d9"/>
<ellipse cx="278" cy="549" rx="53" ry="53" fill="#f7f7f7"/>
<ellipse cx="180" cy="532" rx="41" ry="41" fill="#cccccc"/>
<ellipse cx="359" cy="502" rx="41" ry="49" fill="#d9d9d9"/>
<ellipse cx="104" cy="590" rx="57" ry="49" fill="#d9d9d9"/>
<ellipse cx="29" cy="526" rx="32" ry="65" fill="#d9d9d9"/>
<ellipse cx="475" cy="590" rx="57" ry="57" fill="#e0e0e0"/>
<ellipse cx="597" cy="625" rx="57" ry="57" fill="#e6e6e6"/>
<ellipse cx="742" cy="514" rx="49" ry="41" fill="#d9d9d9"/>
<ellipse cx="922" cy="555" rx="32" ry="41" fill="#c7c7c7"/>
<ellipse cx="788" cy="648" rx="49" ry="49" fill="#d9d9d9"/>
<ellipse cx="887" cy="707" rx="41" ry="41" fill="#d1d1d1"/>
<ellipse cx="846" cy="584" rx="24" ry="25" fill="#bfbfbf"/>
<ellipse cx="359" cy="654" rx="41" ry="49" fill="#d9d9d9"/>
<ellipse cx="371" cy="736" rx="49" ry="65" fill="#cccccc"/>
<ellipse cx="243" cy="683" rx="32" ry="33" fill="#d1d1d1"/>
<ellipse cx="580" cy="724" rx="32" ry="49" fill="#d1d1d1"/>
<ellipse cx="145" cy="765" rx="32" ry="33" fill="#cccccc"/>
<ellipse cx="226" cy="812" rx="32" ry="41" fill="#c7c7c7"/>
<ellipse cx="638" cy="876" rx="49" ry="82" fill="#d1d1d1"/>
<ellipse cx="748" cy="935" rx="65" ry="49" fill="#e0e0e0"/>
<ellipse cx="893" cy="900" rx="49" ry="49" fill="#e6e6e6"/>
<ellipse cx="962" cy="894" rx="49" ry="57" fill="#f2f2f2"/>
<ellipse cx="823" cy="970" rx="49" ry="33" fill="#d9d9d9"/>
<ellipse cx="174" cy="975" rx="81" ry="33" fill="#e0e0e0"/>
<ellipse cx="400" cy="923" rx="32" ry="33" fill="#d9d9d9"/>
<ellipse cx="504" cy="964" rx="41" ry="33" fill="#cccccc"/>
<ellipse cx="846" cy="783" rx="32" ry="33" fill="#c7c7c7"/>
<ellipse cx="771" cy="783" rx="32" ry="33" fill="#c7c7c7"/>
<ellipse cx="968" cy="730" rx="32" ry="49" fill="#c7c7c7"/>
<ellipse cx="35" cy="911" rx="41" ry="49" fill="#c7c7c7"/>
<ellipse cx="452" cy="701" rx="24" ry="25" fill="#b8b8b8"/>
<ellipse cx="655" cy="70" rx="53" ry="67" fill="#212121"/>
<ellipse cx="296" cy="222" rx="33" ry="60" fill="#212121"/>
<ellipse cx="336" cy="327" rx="47" ry="74" fill="#212121"/>
<ellipse cx="707" cy="292" rx="40" ry="67" fill="#212121"/>
<ellipse cx="580" cy="426" rx="60" ry="34" fill="#212121"/>
<ellipse cx="614" cy="526" rx="40" ry="27" fill="#474747"/>
<ellipse cx="719" cy="683" rx="40" ry="54" fill="#212121"/>
<ellipse cx="46" cy="701" rx="47" ry="134" fill="#212121"/>
<ellipse cx="359" cy="864" rx="87" ry="47" fill="#212121"/>
<ellipse cx="319" cy="958" rx="40" ry="47" fill="#212121"/>
<ellipse cx="452" cy="82" rx="33" ry="27" fill="#474747"/>
<ellipse cx="881" cy="251" rx="40" ry="34" fill="#404040"/>
<ellipse cx="580" cy="216" rx="20" ry="20" fill="#404040"/>
<ellipse cx="968" cy="619" rx="33" ry="34" fill="#212121"/>
<ellipse cx="939" cy="794" rx="27" ry="27" fill="#383838"/>
<ellipse cx="806" cy="870" rx="20" ry="27" fill="#404040"/>
<ellipse cx="197" cy="631" rx="27" ry="27" fill="#404040"/>
<ellipse cx="528" cy="689" rx="20" ry="27" fill="#404040"/>
<ellipse cx="951" cy="175" rx="27" ry="27" fill="#474747"/>
<ellipse cx="104" cy="421" rx="20" ry="20" fill="#595959"/>
</g></g></svg>
<rect x="794.5" y="726.7" width="536.2" height="532.1" fill="none" stroke="#333" stroke-width="2.2"/>
<svg x="52" y="1293.8" width="536.9" height="531.7" viewBox="0 0 1000 1000" preserveAspectRatio="none">
<filter id="jfe" x="-300" y="-300" width="1600" height="1600" filterUnits="userSpaceOnUse" color-interpolation-filters="sRGB"><feTurbulence type="fractalNoise" baseFrequency="0.07" numOctaves="2" seed="8" result="t"/><feColorMatrix in="t" type="matrix" values="1 0 0 0 0 1 0 0 0 0 1 0 0 0 0 0 0 0 0 1" result="n"/><feComposite in="SourceGraphic" in2="n" operator="arithmetic" k1="0" k2="1" k3="0.42" k4="-0.21"/><feComponentTransfer><feFuncR type="table" tableValues="0.000 0.000 0.000 0.000 0.000 0.000 0.000 0.000 0.000 0.000 0.000 0.000 0.000 0.000 0.000 0.078 0.161 0.239 0.322 0.400 0.482 0.561 0.643 0.725 0.804 0.886 0.965 1.000 1.000 1.000 1.000 1.000 1.000 1.000 1.000 1.000 0.953 0.839 0.725 0.612 0.498"/><feFuncG type="table" tableValues="0.000 0.000 0.000 0.000 0.000 0.000 0.098 0.196 0.298 0.400 0.498 0.600 0.698 0.800 0.898 1.000 1.000 1.000 1.000 1.000 1.000 1.000 1.000 1.000 1.000 1.000 0.961 0.867 0.776 0.682 0.592 0.498 0.404 0.314 0.220 0.129 0.035 0.000 0.000 0.000 0.000"/><feFuncB type="table" tableValues="0.498 0.612 0.725 0.839 0.953 1.000 1.000 1.000 1.000 1.000 1.000 1.000 1.000 1.000 0.965 0.886 0.804 0.725 0.643 0.561 0.482 0.400 0.322 0.239 0.161 0.078 0.000 0.000 0.000 0.000 0.000 0.000 0.000 0.000 0.000 0.000 0.000 0.000 0.000 0.000 0.000"/></feComponentTransfer></filter>
<filter id="jbe" x="-300" y="-300" width="1600" height="1600" filterUnits="userSpaceOnUse" color-interpolation-filters="sRGB"><feGaussianBlur stdDeviation="74.5"/></filter>
<filter id="jse" x="-300" y="-300" width="1600" height="1600" filterUnits="userSpaceOnUse" color-interpolation-filters="sRGB"><feGaussianBlur stdDeviation="16.8"/></filter>
<g filter="url(#jfe)"><g filter="url(#jbe)">
<rect x="-300" y="-300" width="301" height="301" fill="#7d7d7d"/>
<rect x="0" y="-300" width="168" height="301" fill="#7d7d7d"/>
<rect x="167" y="-300" width="168" height="301" fill="#6b6b6b"/>
<rect x="333" y="-300" width="168" height="301" fill="#7d7d7d"/>
<rect x="500" y="-300" width="168" height="301" fill="#757575"/>
<rect x="667" y="-300" width="168" height="301" fill="#757575"/>
<rect x="833" y="-300" width="168" height="301" fill="#858585"/>
<rect x="1000" y="-300" width="301" height="301" fill="#858585"/>
<rect x="-300" y="0" width="301" height="168" fill="#7d7d7d"/>
<rect x="0" y="0" width="168" height="168" fill="#7d7d7d"/>
<rect x="167" y="0" width="168" height="168" fill="#6b6b6b"/>
<rect x="333" y="0" width="168" height="168" fill="#7d7d7d"/>
<rect x="500" y="0" width="168" height="168" fill="#757575"/>
<rect x="667" y="0" width="168" height="168" fill="#757575"/>
<rect x="833" y="0" width="168" height="168" fill="#858585"/>
<rect x="1000" y="0" width="301" height="168" fill="#858585"/>
<rect x="-300" y="167" width="301" height="168" fill="#8a8a8a"/>
<rect x="0" y="167" width="168" height="168" fill="#8a8a8a"/>
<rect x="167" y="167" width="168" height="168" fill="#757575"/>
<rect x="333" y="167" width="168" height="168" fill="#858585"/>
<rect x="500" y="167" width="168" height="168" fill="#757575"/>
<rect x="667" y="167" width="168" height="168" fill="#757575"/>
<rect x="833" y="167" width="168" height="168" fill="#7d7d7d"/>
<rect x="1000" y="167" width="301" height="168" fill="#7d7d7d"/>
<rect x="-300" y="333" width="301" height="168" fill="#7d7d7d"/>
<rect x="0" y="333" width="168" height="168" fill="#7d7d7d"/>
<rect x="167" y="333" width="168" height="168" fill="#7d7d7d"/>
<rect x="333" y="333" width="168" height="168" fill="#8a8a8a"/>
<rect x="500" y="333" width="168" height="168" fill="#757575"/>
<rect x="667" y="333" width="168" height="168" fill="#7d7d7d"/>
<rect x="833" y="333" width="168" height="168" fill="#858585"/>
<rect x="1000" y="333" width="301" height="168" fill="#858585"/>
<rect x="-300" y="500" width="301" height="168" fill="#7d7d7d"/>
<rect x="0" y="500" width="168" height="168" fill="#7d7d7d"/>
<rect x="167" y="500" width="168" height="168" fill="#7d7d7d"/>
<rect x="333" y="500" width="168" height="168" fill="#7d7d7d"/>
<rect x="500" y="500" width="168" height="168" fill="#7d7d7d"/>
<rect x="667" y="500" width="168" height="168" fill="#969696"/>
<rect x="833" y="500" width="168" height="168" fill="#969696"/>
<rect x="1000" y="500" width="301" height="168" fill="#969696"/>
<rect x="-300" y="667" width="301" height="168" fill="#999999"/>
<rect x="0" y="667" width="168" height="168" fill="#999999"/>
<rect x="167" y="667" width="168" height="168" fill="#9e9e9e"/>
<rect x="333" y="667" width="168" height="168" fill="#999999"/>
<rect x="500" y="667" width="168" height="168" fill="#919191"/>
<rect x="667" y="667" width="168" height="168" fill="#9e9e9e"/>
<rect x="833" y="667" width="168" height="168" fill="#999999"/>
<rect x="1000" y="667" width="301" height="168" fill="#999999"/>
<rect x="-300" y="833" width="301" height="168" fill="#9e9e9e"/>
<rect x="0" y="833" width="168" height="168" fill="#9e9e9e"/>
<rect x="167" y="833" width="168" height="168" fill="#9e9e9e"/>
<rect x="333" y="833" width="168" height="168" fill="#9e9e9e"/>
<rect x="500" y="833" width="168" height="168" fill="#919191"/>
<rect x="667" y="833" width="168" height="168" fill="#949494"/>
<rect x="833" y="833" width="168" height="168" fill="#919191"/>
<rect x="1000" y="833" width="301" height="168" fill="#919191"/>
<rect x="-300" y="1000" width="301" height="301" fill="#9e9e9e"/>
<rect x="0" y="1000" width="168" height="301" fill="#9e9e9e"/>
<rect x="167" y="1000" width="168" height="301" fill="#9e9e9e"/>
<rect x="333" y="1000" width="168" height="301" fill="#9e9e9e"/>
<rect x="500" y="1000" width="168" height="301" fill="#919191"/>
<rect x="667" y="1000" width="168" height="301" fill="#949494"/>
<rect x="833" y="1000" width="168" height="301" fill="#919191"/>
<rect x="1000" y="1000" width="301" height="301" fill="#919191"/>
</g><g filter="url(#jse)">
<ellipse cx="185" cy="99" rx="70" ry="71" fill="#414141"/>
<ellipse cx="556" cy="193" rx="76" ry="39" fill="#414141"/>
<ellipse cx="255" cy="362" rx="64" ry="32" fill="#585858"/>
<ellipse cx="104" cy="485" rx="57" ry="39" fill="#4a4a4a"/>
<ellipse cx="567" cy="578" rx="51" ry="39" fill="#535353"/>
<ellipse cx="347" cy="613" rx="32" ry="32" fill="#5c5c5c"/>
<ellipse cx="613" cy="368" rx="25" ry="39" fill="#535353"/>
<ellipse cx="972" cy="432" rx="32" ry="26" fill="#4a4a4a"/>
<ellipse cx="839" cy="327" rx="51" ry="39" fill="#5f5f5f"/>
<ellipse cx="648" cy="35" rx="45" ry="26" fill="#5f5f5f"/>
<ellipse cx="839" cy="29" rx="38" ry="19" fill="#5f5f5f"/>
<ellipse cx="104" cy="298" rx="38" ry="30" fill="#a7a7a7"/>
<ellipse cx="417" cy="362" rx="30" ry="30" fill="#b1b1b1"/>
<ellipse cx="220" cy="625" rx="60" ry="46" fill="#b9b9b9"/>
<ellipse cx="775" cy="444" rx="60" ry="53" fill="#b5b5b5"/>
<ellipse cx="671" cy="549" rx="60" ry="61" fill="#b1b1b1"/>
<ellipse cx="631" cy="496" rx="30" ry="30" fill="#acacac"/>
<ellipse cx="735" cy="683" rx="45" ry="38" fill="#b5b5b5"/>
<ellipse cx="839" cy="678" rx="38" ry="38" fill="#aeaeae"/>
<ellipse cx="938" cy="625" rx="38" ry="30" fill="#acacac"/>
<ellipse cx="978" cy="514" rx="30" ry="46" fill="#b1b1b1"/>
<ellipse cx="544" cy="409" rx="19" ry="19" fill="#a7a7a7"/>
<ellipse cx="347" cy="701" rx="45" ry="38" fill="#9c9c9c"/>
<ellipse cx="521" cy="783" rx="60" ry="30" fill="#a3a3a3"/>
<ellipse cx="752" cy="800" rx="45" ry="46" fill="#a3a3a3"/>
<ellipse cx="810" cy="864" rx="68" ry="30" fill="#a7a7a7"/>
<ellipse cx="266" cy="853" rx="45" ry="30" fill="#a7a7a7"/>
<ellipse cx="133" cy="759" rx="45" ry="30" fill="#a0a0a0"/>
<ellipse cx="12" cy="981" rx="23" ry="30" fill="#d0d0d0"/>
<ellipse cx="58" cy="946" rx="60" ry="46" fill="#a7a7a7"/>
<ellipse cx="203" cy="946" rx="30" ry="30" fill="#a7a7a7"/>
<ellipse cx="567" cy="929" rx="30" ry="30" fill="#a7a7a7"/>
<ellipse cx="926" cy="958" rx="30" ry="30" fill="#a3a3a3"/>
<ellipse cx="694" cy="929" rx="75" ry="30" fill="#6e6e6e"/>
<ellipse cx="972" cy="818" rx="30" ry="46" fill="#717171"/>
</g></g></svg>
<rect x="52" y="1293.8" width="536.9" height="531.7" fill="none" stroke="#333" stroke-width="2.2"/>
<svg x="792.3" y="1293" width="536.2" height="531.4" viewBox="0 0 1000 1000" preserveAspectRatio="none">
<filter id="jff" x="-300" y="-300" width="1600" height="1600" filterUnits="userSpaceOnUse" color-interpolation-filters="sRGB"><feTurbulence type="fractalNoise" baseFrequency="0.07" numOctaves="2" seed="8" result="t"/><feColorMatrix in="t" type="matrix" values="1 0 0 0 0 1 0 0 0 0 1 0 0 0 0 0 0 0 0 1" result="n"/><feComposite in="SourceGraphic" in2="n" operator="arithmetic" k1="0" k2="1" k3="0.3" k4="-0.15"/><feComponentTransfer><feFuncR type="table" tableValues="0.000 0.000 0.000 0.000 0.000 0.000 0.000 0.000 0.000 0.000 0.000 0.000 0.000 0.000 0.000 0.078 0.161 0.239 0.322 0.400 0.482 0.561 0.643 0.725 0.804 0.886 0.965 1.000 1.000 1.000 1.000 1.000 1.000 1.000 1.000 1.000 0.953 0.839 0.725 0.612 0.498"/><feFuncG type="table" tableValues="0.000 0.000 0.000 0.000 0.000 0.000 0.098 0.196 0.298 0.400 0.498 0.600 0.698 0.800 0.898 1.000 1.000 1.000 1.000 1.000 1.000 1.000 1.000 1.000 1.000 1.000 0.961 0.867 0.776 0.682 0.592 0.498 0.404 0.314 0.220 0.129 0.035 0.000 0.000 0.000 0.000"/><feFuncB type="table" tableValues="0.498 0.612 0.725 0.839 0.953 1.000 1.000 1.000 1.000 1.000 1.000 1.000 1.000 1.000 0.965 0.886 0.804 0.725 0.643 0.561 0.482 0.400 0.322 0.239 0.161 0.078 0.000 0.000 0.000 0.000 0.000 0.000 0.000 0.000 0.000 0.000 0.000 0.000 0.000 0.000 0.000"/></feComponentTransfer></filter>
<filter id="jbf" x="-300" y="-300" width="1600" height="1600" filterUnits="userSpaceOnUse" color-interpolation-filters="sRGB"><feGaussianBlur stdDeviation="74.6"/></filter>
<filter id="jsf" x="-300" y="-300" width="1600" height="1600" filterUnits="userSpaceOnUse" color-interpolation-filters="sRGB"><feGaussianBlur stdDeviation="18.6"/></filter>
<g filter="url(#jff)"><g filter="url(#jbf)">
<rect x="-300" y="-300" width="301" height="301" fill="#595959"/>
<rect x="0" y="-300" width="168" height="301" fill="#595959"/>
<rect x="167" y="-300" width="168" height="301" fill="#737373"/>
<rect x="333" y="-300" width="168" height="301" fill="#8c8c8c"/>
<rect x="500" y="-300" width="168" height="301" fill="#737373"/>
<rect x="667" y="-300" width="168" height="301" fill="#4c4c4c"/>
<rect x="833" y="-300" width="168" height="301" fill="#616161"/>
<rect x="1000" y="-300" width="301" height="301" fill="#616161"/>
<rect x="-300" y="0" width="301" height="168" fill="#595959"/>
<rect x="0" y="0" width="168" height="168" fill="#595959"/>
<rect x="167" y="0" width="168" height="168" fill="#737373"/>
<rect x="333" y="0" width="168" height="168" fill="#8c8c8c"/>
<rect x="500" y="0" width="168" height="168" fill="#737373"/>
<rect x="667" y="0" width="168" height="168" fill="#4c4c4c"/>
<rect x="833" y="0" width="168" height="168" fill="#616161"/>
<rect x="1000" y="0" width="301" height="168" fill="#616161"/>
<rect x="-300" y="167" width="301" height="168" fill="#adadad"/>
<rect x="0" y="167" width="168" height="168" fill="#adadad"/>
<rect x="167" y="167" width="168" height="168" fill="#9e9e9e"/>
<rect x="333" y="167" width="168" height="168" fill="#8c8c8c"/>
<rect x="500" y="167" width="168" height="168" fill="#737373"/>
<rect x="667" y="167" width="168" height="168" fill="#4c4c4c"/>
<rect x="833" y="167" width="168" height="168" fill="#404040"/>
<rect x="1000" y="167" width="301" height="168" fill="#404040"/>
<rect x="-300" y="333" width="301" height="168" fill="#9e9e9e"/>
<rect x="0" y="333" width="168" height="168" fill="#9e9e9e"/>
<rect x="167" y="333" width="168" height="168" fill="#a6a6a6"/>
<rect x="333" y="333" width="168" height="168" fill="#999999"/>
<rect x="500" y="333" width="168" height="168" fill="#8c8c8c"/>
<rect x="667" y="333" width="168" height="168" fill="#737373"/>
<rect x="833" y="333" width="168" height="168" fill="#666666"/>
<rect x="1000" y="333" width="301" height="168" fill="#666666"/>
<rect x="-300" y="500" width="301" height="168" fill="#b8b8b8"/>
<rect x="0" y="500" width="168" height="168" fill="#b8b8b8"/>
<rect x="167" y="500" width="168" height="168" fill="#a6a6a6"/>
<rect x="333" y="500" width="168" height="168" fill="#8c8c8c"/>
<rect x="500" y="500" width="168" height="168" fill="#949494"/>
<rect x="667" y="500" width="168" height="168" fill="#808080"/>
<rect x="833" y="500" width="168" height="168" fill="#858585"/>
<rect x="1000" y="500" width="301" height="168" fill="#858585"/>
<rect x="-300" y="667" width="301" height="168" fill="#d9d9d9"/>
<rect x="0" y="667" width="168" height="168" fill="#d9d9d9"/>
<rect x="167" y="667" width="168" height="168" fill="#d4d4d4"/>
<rect x="333" y="667" width="168" height="168" fill="#b8b8b8"/>
<rect x="500" y="667" width="168" height="168" fill="#7a7a7a"/>
<rect x="667" y="667" width="168" height="168" fill="#808080"/>
<rect x="833" y="667" width="168" height="168" fill="#6b6b6b"/>
<rect x="1000" y="667" width="301" height="168" fill="#6b6b6b"/>
<rect x="-300" y="833" width="301" height="168" fill="#d1d1d1"/>
<rect x="0" y="833" width="168" height="168" fill="#d1d1d1"/>
<rect x="167" y="833" width="168" height="168" fill="#cccccc"/>
<rect x="333" y="833" width="168" height="168" fill="#b2b2b2"/>
<rect x="500" y="833" width="168" height="168" fill="#737373"/>
<rect x="667" y="833" width="168" height="168" fill="#7a7a7a"/>
<rect x="833" y="833" width="168" height="168" fill="#737373"/>
<rect x="1000" y="833" width="301" height="168" fill="#737373"/>
<rect x="-300" y="1000" width="301" height="301" fill="#d1d1d1"/>
<rect x="0" y="1000" width="168" height="301" fill="#d1d1d1"/>
<rect x="167" y="1000" width="168" height="301" fill="#cccccc"/>
<rect x="333" y="1000" width="168" height="301" fill="#b2b2b2"/>
<rect x="500" y="1000" width="168" height="301" fill="#737373"/>
<rect x="667" y="1000" width="168" height="301" fill="#7a7a7a"/>
<rect x="833" y="1000" width="168" height="301" fill="#737373"/>
<rect x="1000" y="1000" width="301" height="301" fill="#737373"/>
</g><g filter="url(#jsf)">
<ellipse cx="174" cy="70" rx="76" ry="28" fill="#1f1f1f"/>
<ellipse cx="336" cy="18" rx="56" ry="21" fill="#262626"/>
<ellipse cx="637" cy="53" rx="56" ry="28" fill="#262626"/>
<ellipse cx="723" cy="111" rx="62" ry="35" fill="#333333"/>
<ellipse cx="868" cy="234" rx="104" ry="63" fill="#1f1f1f"/>
<ellipse cx="712" cy="327" rx="35" ry="35" fill="#262626"/>
<ellipse cx="856" cy="339" rx="28" ry="35" fill="#2e2e2e"/>
<ellipse cx="972" cy="18" rx="35" ry="21" fill="#262626"/>
<ellipse cx="955" cy="426" rx="21" ry="14" fill="#4c4c4c"/>
<ellipse cx="926" cy="759" rx="42" ry="28" fill="#4c4c4c"/>
<ellipse cx="666" cy="251" rx="28" ry="28" fill="#4c4c4c"/>
<ellipse cx="284" cy="222" rx="53" ry="53" fill="#c8c8c8"/>
<ellipse cx="382" cy="356" rx="75" ry="46" fill="#d7d7d7"/>
<ellipse cx="318" cy="485" rx="38" ry="38" fill="#d7d7d7"/>
<ellipse cx="174" cy="444" rx="45" ry="38" fill="#c3c3c3"/>
<ellipse cx="104" cy="520" rx="38" ry="38" fill="#bebebe"/>
<ellipse cx="75" cy="310" rx="60" ry="38" fill="#b6b6b6"/>
<ellipse cx="52" cy="169" rx="30" ry="30" fill="#b6b6b6"/>
<ellipse cx="509" cy="397" rx="38" ry="46" fill="#bebebe"/>
<ellipse cx="353" cy="578" rx="30" ry="30" fill="#c8c8c8"/>
<ellipse cx="191" cy="631" rx="53" ry="46" fill="#eeeeee"/>
<ellipse cx="46" cy="654" rx="45" ry="91" fill="#d7d7d7"/>
<ellipse cx="116" cy="759" rx="75" ry="61" fill="#d7d7d7"/>
<ellipse cx="307" cy="771" rx="68" ry="76" fill="#dddddd"/>
<ellipse cx="475" cy="759" rx="60" ry="68" fill="#d7d7d7"/>
<ellipse cx="98" cy="876" rx="60" ry="61" fill="#d7d7d7"/>
<ellipse cx="249" cy="864" rx="60" ry="46" fill="#d0d0d0"/>
<ellipse cx="376" cy="946" rx="68" ry="46" fill="#d0d0d0"/>
<ellipse cx="579" cy="946" rx="45" ry="53" fill="#bebebe"/>
<ellipse cx="440" cy="689" rx="45" ry="38" fill="#c3c3c3"/>
<ellipse cx="538" cy="526" rx="23" ry="61" fill="#b6b6b6"/>
<ellipse cx="648" cy="502" rx="45" ry="68" fill="#b6b6b6"/>
<ellipse cx="747" cy="572" rx="75" ry="23" fill="#b6b6b6"/>
<ellipse cx="828" cy="567" rx="30" ry="23" fill="#b6b6b6"/>
<ellipse cx="787" cy="456" rx="23" ry="46" fill="#afafaf"/>
<ellipse cx="718" cy="701" rx="45" ry="30" fill="#b6b6b6"/>
<ellipse cx="828" cy="835" rx="23" ry="46" fill="#afafaf"/>
<ellipse cx="417" cy="216" rx="23" ry="23" fill="#afafaf"/>
<ellipse cx="532" cy="93" rx="30" ry="23" fill="#a4a4a4"/>
</g></g></svg>
<rect x="792.3" y="1293" width="536.2" height="531.4" fill="none" stroke="#333" stroke-width="2.2"/>
<svg x="1533" y="725.9" width="530.9" height="531.2" viewBox="0 0 1000 1000" preserveAspectRatio="none">
<filter id="jfg" x="-300" y="-300" width="1600" height="1600" filterUnits="userSpaceOnUse" color-interpolation-filters="sRGB"><feTurbulence type="fractalNoise" baseFrequency="0.06" numOctaves="2" seed="8" result="t"/><feColorMatrix in="t" type="matrix" values="1 0 0 0 0 1 0 0 0 0 1 0 0 0 0 0 0 0 0 1" result="n"/><feComposite in="SourceGraphic" in2="n" operator="arithmetic" k1="0" k2="1" k3="0.12" k4="-0.06"/><feComponentTransfer><feFuncR type="table" tableValues="0.000 0.047 0.098 0.149 0.200 0.247 0.298 0.349 0.400 0.447 0.498 0.549 0.600 0.647 0.698 0.749 0.800 0.847 0.898 0.949 1.000 0.949 0.898 0.847 0.800 0.749 0.698 0.647 0.600 0.549 0.498 0.447 0.396 0.349 0.298 0.247 0.196 0.149 0.098 0.047 0.000"/><feFuncG type="table" tableValues="0.000 0.000 0.000 0.000 0.000 0.000 0.000 0.000 0.000 0.000 0.000 0.000 0.000 0.000 0.000 0.000 0.000 0.000 0.000 0.000 0.000 0.043 0.090 0.137 0.180 0.227 0.275 0.322 0.365 0.412 0.459 0.506 0.553 0.596 0.643 0.690 0.737 0.780 0.827 0.875 0.922"/><feFuncB type="table" tableValues="1.000 0.949 0.898 0.847 0.800 0.749 0.698 0.647 0.600 0.549 0.498 0.447 0.400 0.349 0.298 0.247 0.196 0.149 0.098 0.047 0.000 0.000 0.000 0.000 0.000 0.000 0.000 0.000 0.000 0.000 0.000 0.000 0.000 0.000 0.000 0.000 0.000 0.000 0.000 0.000 0.000"/></feComponentTransfer></filter>
<filter id="jbg" x="-300" y="-300" width="1600" height="1600" filterUnits="userSpaceOnUse" color-interpolation-filters="sRGB"><feGaussianBlur stdDeviation="75.3"/></filter>
<filter id="jsg" x="-300" y="-300" width="1600" height="1600" filterUnits="userSpaceOnUse" color-interpolation-filters="sRGB"><feGaussianBlur stdDeviation="22.6"/></filter>
<g filter="url(#jfg)"><g filter="url(#jbg)">
<rect x="-300" y="-300" width="301" height="301" fill="#d2d2d2"/>
<rect x="0" y="-300" width="168" height="301" fill="#d2d2d2"/>
<rect x="167" y="-300" width="168" height="301" fill="#d2d2d2"/>
<rect x="333" y="-300" width="168" height="301" fill="#cdcdcd"/>
<rect x="500" y="-300" width="168" height="301" fill="#d2d2d2"/>
<rect x="667" y="-300" width="168" height="301" fill="#dfdfdf"/>
<rect x="833" y="-300" width="168" height="301" fill="#d2d2d2"/>
<rect x="1000" y="-300" width="301" height="301" fill="#d2d2d2"/>
<rect x="-300" y="0" width="301" height="168" fill="#d2d2d2"/>
<rect x="0" y="0" width="168" height="168" fill="#d2d2d2"/>
<rect x="167" y="0" width="168" height="168" fill="#d2d2d2"/>
<rect x="333" y="0" width="168" height="168" fill="#cdcdcd"/>
<rect x="500" y="0" width="168" height="168" fill="#d2d2d2"/>
<rect x="667" y="0" width="168" height="168" fill="#dfdfdf"/>
<rect x="833" y="0" width="168" height="168" fill="#d2d2d2"/>
<rect x="1000" y="0" width="301" height="168" fill="#d2d2d2"/>
<rect x="-300" y="167" width="301" height="168" fill="#c6c6c6"/>
<rect x="0" y="167" width="168" height="168" fill="#c6c6c6"/>
<rect x="167" y="167" width="168" height="168" fill="#d2d2d2"/>
<rect x="333" y="167" width="168" height="168" fill="#d7d7d7"/>
<rect x="500" y="167" width="168" height="168" fill="#cdcdcd"/>
<rect x="667" y="167" width="168" height="168" fill="#ececec"/>
<rect x="833" y="167" width="168" height="168" fill="#dfdfdf"/>
<rect x="1000" y="167" width="301" height="168" fill="#dfdfdf"/>
<rect x="-300" y="333" width="301" height="168" fill="#c6c6c6"/>
<rect x="0" y="333" width="168" height="168" fill="#c6c6c6"/>
<rect x="167" y="333" width="168" height="168" fill="#d2d2d2"/>
<rect x="333" y="333" width="168" height="168" fill="#dfdfdf"/>
<rect x="500" y="333" width="168" height="168" fill="#cdcdcd"/>
<rect x="667" y="333" width="168" height="168" fill="#dfdfdf"/>
<rect x="833" y="333" width="168" height="168" fill="#d7d7d7"/>
<rect x="1000" y="333" width="301" height="168" fill="#d7d7d7"/>
<rect x="-300" y="500" width="301" height="168" fill="#c6c6c6"/>
<rect x="0" y="500" width="168" height="168" fill="#c6c6c6"/>
<rect x="167" y="500" width="168" height="168" fill="#cdcdcd"/>
<rect x="333" y="500" width="168" height="168" fill="#d7d7d7"/>
<rect x="500" y="500" width="168" height="168" fill="#d2d2d2"/>
<rect x="667" y="500" width="168" height="168" fill="#d2d2d2"/>
<rect x="833" y="500" width="168" height="168" fill="#d2d2d2"/>
<rect x="1000" y="500" width="301" height="168" fill="#d2d2d2"/>
<rect x="-300" y="667" width="301" height="168" fill="#dfdfdf"/>
<rect x="0" y="667" width="168" height="168" fill="#dfdfdf"/>
<rect x="167" y="667" width="168" height="168" fill="#c6c6c6"/>
<rect x="333" y="667" width="168" height="168" fill="#d2d2d2"/>
<rect x="500" y="667" width="168" height="168" fill="#d2d2d2"/>
<rect x="667" y="667" width="168" height="168" fill="#cdcdcd"/>
<rect x="833" y="667" width="168" height="168" fill="#d2d2d2"/>
<rect x="1000" y="667" width="301" height="168" fill="#d2d2d2"/>
<rect x="-300" y="833" width="301" height="168" fill="#dfdfdf"/>
<rect x="0" y="833" width="168" height="168" fill="#dfdfdf"/>
<rect x="167" y="833" width="168" height="168" fill="#d2d2d2"/>
<rect x="333" y="833" width="168" height="168" fill="#dfdfdf"/>
<rect x="500" y="833" width="168" height="168" fill="#d2d2d2"/>
<rect x="667" y="833" width="168" height="168" fill="#d2d2d2"/>
<rect x="833" y="833" width="168" height="168" fill="#cdcdcd"/>
<rect x="1000" y="833" width="301" height="168" fill="#cdcdcd"/>
<rect x="-300" y="1000" width="301" height="301" fill="#dfdfdf"/>
<rect x="0" y="1000" width="168" height="301" fill="#dfdfdf"/>
<rect x="167" y="1000" width="168" height="301" fill="#d2d2d2"/>
<rect x="333" y="1000" width="168" height="301" fill="#dfdfdf"/>
<rect x="500" y="1000" width="168" height="301" fill="#d2d2d2"/>
<rect x="667" y="1000" width="168" height="301" fill="#d2d2d2"/>
<rect x="833" y="1000" width="168" height="301" fill="#cdcdcd"/>
<rect x="1000" y="1000" width="301" height="301" fill="#cdcdcd"/>
</g><g filter="url(#jsg)">
<ellipse cx="660" cy="88" rx="76" ry="99" fill="#ffffff"/>
<ellipse cx="730" cy="292" rx="84" ry="99" fill="#ffffff"/>
<ellipse cx="911" cy="245" rx="99" ry="76" fill="#ffffff"/>
<ellipse cx="964" cy="146" rx="46" ry="61" fill="#ffffff"/>
<ellipse cx="380" cy="350" rx="68" ry="99" fill="#ffffff"/>
<ellipse cx="456" cy="350" rx="46" ry="38" fill="#ffffff"/>
<ellipse cx="310" cy="275" rx="30" ry="38" fill="#ffffff"/>
<ellipse cx="41" cy="718" rx="53" ry="137" fill="#ffffff"/>
<ellipse cx="327" cy="888" rx="99" ry="76" fill="#ffffff"/>
<ellipse cx="584" cy="561" rx="46" ry="46" fill="#ffffff"/>
<ellipse cx="193" cy="164" rx="46" ry="30" fill="#f7f7f7"/>
<ellipse cx="929" cy="777" rx="46" ry="46" fill="#f7f7f7"/>
<ellipse cx="970" cy="631" rx="30" ry="38" fill="#f7f7f7"/>
<ellipse cx="526" cy="672" rx="38" ry="38" fill="#f0f0f0"/>
<ellipse cx="643" cy="777" rx="46" ry="46" fill="#f7f7f7"/>
<ellipse cx="187" cy="502" rx="46" ry="30" fill="#f0f0f0"/>
<ellipse cx="479" cy="88" rx="46" ry="46" fill="#f0f0f0"/>
<ellipse cx="35" cy="456" rx="46" ry="46" fill="#f0f0f0"/>
<ellipse cx="409" cy="496" rx="61" ry="46" fill="#f0f0f0"/>
<ellipse cx="549" cy="29" rx="65" ry="37" fill="#919191"/>
<ellipse cx="701" cy="6" rx="56" ry="19" fill="#999999"/>
<ellipse cx="292" cy="117" rx="47" ry="56" fill="#9e9e9e"/>
<ellipse cx="76" cy="169" rx="75" ry="56" fill="#9e9e9e"/>
<ellipse cx="345" cy="204" rx="56" ry="37" fill="#919191"/>
<ellipse cx="257" cy="280" rx="37" ry="47" fill="#919191"/>
<ellipse cx="53" cy="339" rx="56" ry="93" fill="#9e9e9e"/>
<ellipse cx="496" cy="292" rx="56" ry="47" fill="#9e9e9e"/>
<ellipse cx="619" cy="298" rx="37" ry="37" fill="#a3a3a3"/>
<ellipse cx="549" cy="397" rx="47" ry="37" fill="#999999"/>
<ellipse cx="461" cy="432" rx="84" ry="56" fill="#919191"/>
<ellipse cx="654" cy="432" rx="37" ry="37" fill="#9e9e9e"/>
<ellipse cx="818" cy="204" rx="56" ry="47" fill="#9e9e9e"/>
<ellipse cx="905" cy="432" rx="47" ry="37" fill="#a3a3a3"/>
<ellipse cx="257" cy="485" rx="56" ry="56" fill="#999999"/>
<ellipse cx="140" cy="532" rx="37" ry="37" fill="#a3a3a3"/>
<ellipse cx="29" cy="537" rx="47" ry="93" fill="#9e9e9e"/>
<ellipse cx="783" cy="514" rx="56" ry="47" fill="#9e9e9e"/>
<ellipse cx="946" cy="543" rx="56" ry="56" fill="#ababab"/>
<ellipse cx="643" cy="508" rx="37" ry="37" fill="#ababab"/>
<ellipse cx="362" cy="590" rx="47" ry="37" fill="#ababab"/>
<ellipse cx="175" cy="631" rx="47" ry="47" fill="#a3a3a3"/>
<ellipse cx="759" cy="683" rx="56" ry="56" fill="#999999"/>
<ellipse cx="876" cy="713" rx="37" ry="47" fill="#a3a3a3"/>
<ellipse cx="724" cy="771" rx="47" ry="75" fill="#a3a3a3"/>
<ellipse cx="257" cy="689" rx="47" ry="56" fill="#a3a3a3"/>
<ellipse cx="362" cy="672" rx="47" ry="47" fill="#a3a3a3"/>
<ellipse cx="251" cy="847" rx="56" ry="56" fill="#919191"/>
<ellipse cx="397" cy="935" rx="47" ry="56" fill="#919191"/>
<ellipse cx="835" cy="958" rx="65" ry="56" fill="#919191"/>
<ellipse cx="619" cy="888" rx="47" ry="56" fill="#a3a3a3"/>
<ellipse cx="561" cy="964" rx="37" ry="47" fill="#a3a3a3"/>
<ellipse cx="187" cy="771" rx="37" ry="47" fill="#ababab"/>
<ellipse cx="894" cy="888" rx="37" ry="37" fill="#ababab"/>
<ellipse cx="590" cy="643" rx="37" ry="37" fill="#b3b3b3"/>
</g></g></svg>
<rect x="1533" y="725.9" width="530.9" height="531.2" fill="none" stroke="#333" stroke-width="2.2"/>
<svg x="1534.6" y="1291.7" width="530.9" height="531.7" viewBox="0 0 1000 1000" preserveAspectRatio="none">
<filter id="jfh" x="-300" y="-300" width="1600" height="1600" filterUnits="userSpaceOnUse" color-interpolation-filters="sRGB"><feTurbulence type="fractalNoise" baseFrequency="0.06" numOctaves="2" seed="8" result="t"/><feColorMatrix in="t" type="matrix" values="1 0 0 0 0 1 0 0 0 0 1 0 0 0 0 0 0 0 0 1" result="n"/><feComposite in="SourceGraphic" in2="n" operator="arithmetic" k1="0" k2="1" k3="0.15" k4="-0.075"/><feComponentTransfer><feFuncR type="table" tableValues="0.000 0.047 0.098 0.149 0.200 0.247 0.298 0.349 0.400 0.447 0.498 0.549 0.600 0.647 0.698 0.749 0.800 0.847 0.898 0.949 1.000 0.949 0.898 0.847 0.800 0.749 0.698 0.647 0.600 0.549 0.498 0.447 0.396 0.349 0.298 0.247 0.196 0.149 0.098 0.047 0.000"/><feFuncG type="table" tableValues="0.000 0.000 0.000 0.000 0.000 0.000 0.000 0.000 0.000 0.000 0.000 0.000 0.000 0.000 0.000 0.000 0.000 0.000 0.000 0.000 0.000 0.043 0.090 0.137 0.180 0.227 0.275 0.322 0.365 0.412 0.459 0.506 0.553 0.596 0.643 0.690 0.737 0.780 0.827 0.875 0.922"/><feFuncB type="table" tableValues="1.000 0.949 0.898 0.847 0.800 0.749 0.698 0.647 0.600 0.549 0.498 0.447 0.400 0.349 0.298 0.247 0.196 0.149 0.098 0.047 0.000 0.000 0.000 0.000 0.000 0.000 0.000 0.000 0.000 0.000 0.000 0.000 0.000 0.000 0.000 0.000 0.000 0.000 0.000 0.000 0.000"/></feComponentTransfer></filter>
<filter id="jbh" x="-300" y="-300" width="1600" height="1600" filterUnits="userSpaceOnUse" color-interpolation-filters="sRGB"><feGaussianBlur stdDeviation="75.3"/></filter>
<filter id="jsh" x="-300" y="-300" width="1600" height="1600" filterUnits="userSpaceOnUse" color-interpolation-filters="sRGB"><feGaussianBlur stdDeviation="20.7"/></filter>
<g filter="url(#jfh)"><g filter="url(#jbh)">
<rect x="-300" y="-300" width="301" height="301" fill="#676767"/>
<rect x="0" y="-300" width="168" height="301" fill="#676767"/>
<rect x="167" y="-300" width="168" height="301" fill="#676767"/>
<rect x="333" y="-300" width="168" height="301" fill="#717171"/>
<rect x="500" y="-300" width="168" height="301" fill="#626262"/>
<rect x="667" y="-300" width="168" height="301" fill="#6f6f6f"/>
<rect x="833" y="-300" width="168" height="301" fill="#7c7c7c"/>
<rect x="1000" y="-300" width="301" height="301" fill="#7c7c7c"/>
<rect x="-300" y="0" width="301" height="168" fill="#676767"/>
<rect x="0" y="0" width="168" height="168" fill="#676767"/>
<rect x="167" y="0" width="168" height="168" fill="#676767"/>
<rect x="333" y="0" width="168" height="168" fill="#717171"/>
<rect x="500" y="0" width="168" height="168" fill="#626262"/>
<rect x="667" y="0" width="168" height="168" fill="#6f6f6f"/>
<rect x="833" y="0" width="168" height="168" fill="#7c7c7c"/>
<rect x="1000" y="0" width="301" height="168" fill="#7c7c7c"/>
<rect x="-300" y="167" width="301" height="168" fill="#555555"/>
<rect x="0" y="167" width="168" height="168" fill="#555555"/>
<rect x="167" y="167" width="168" height="168" fill="#555555"/>
<rect x="333" y="167" width="168" height="168" fill="#585858"/>
<rect x="500" y="167" width="168" height="168" fill="#505050"/>
<rect x="667" y="167" width="168" height="168" fill="#6f6f6f"/>
<rect x="833" y="167" width="168" height="168" fill="#7c7c7c"/>
<rect x="1000" y="167" width="301" height="168" fill="#7c7c7c"/>
<rect x="-300" y="333" width="301" height="168" fill="#4e4e4e"/>
<rect x="0" y="333" width="168" height="168" fill="#4e4e4e"/>
<rect x="167" y="333" width="168" height="168" fill="#494949"/>
<rect x="333" y="333" width="168" height="168" fill="#555555"/>
<rect x="500" y="333" width="168" height="168" fill="#555555"/>
<rect x="667" y="333" width="168" height="168" fill="#6f6f6f"/>
<rect x="833" y="333" width="168" height="168" fill="#777777"/>
<rect x="1000" y="333" width="301" height="168" fill="#777777"/>
<rect x="-300" y="500" width="301" height="168" fill="#444444"/>
<rect x="0" y="500" width="168" height="168" fill="#444444"/>
<rect x="167" y="500" width="168" height="168" fill="#4e4e4e"/>
<rect x="333" y="500" width="168" height="168" fill="#555555"/>
<rect x="500" y="500" width="168" height="168" fill="#585858"/>
<rect x="667" y="500" width="168" height="168" fill="#676767"/>
<rect x="833" y="500" width="168" height="168" fill="#717171"/>
<rect x="1000" y="500" width="301" height="168" fill="#717171"/>
<rect x="-300" y="667" width="301" height="168" fill="#3c3c3c"/>
<rect x="0" y="667" width="168" height="168" fill="#3c3c3c"/>
<rect x="167" y="667" width="168" height="168" fill="#444444"/>
<rect x="333" y="667" width="168" height="168" fill="#555555"/>
<rect x="500" y="667" width="168" height="168" fill="#5d5d5d"/>
<rect x="667" y="667" width="168" height="168" fill="#6f6f6f"/>
<rect x="833" y="667" width="168" height="168" fill="#747474"/>
<rect x="1000" y="667" width="301" height="168" fill="#747474"/>
<rect x="-300" y="833" width="301" height="168" fill="#444444"/>
<rect x="0" y="833" width="168" height="168" fill="#444444"/>
<rect x="167" y="833" width="168" height="168" fill="#494949"/>
<rect x="333" y="833" width="168" height="168" fill="#555555"/>
<rect x="500" y="833" width="168" height="168" fill="#626262"/>
<rect x="667" y="833" width="168" height="168" fill="#6f6f6f"/>
<rect x="833" y="833" width="168" height="168" fill="#6f6f6f"/>
<rect x="1000" y="833" width="301" height="168" fill="#6f6f6f"/>
<rect x="-300" y="1000" width="301" height="301" fill="#444444"/>
<rect x="0" y="1000" width="168" height="301" fill="#444444"/>
<rect x="167" y="1000" width="168" height="301" fill="#494949"/>
<rect x="333" y="1000" width="168" height="301" fill="#555555"/>
<rect x="500" y="1000" width="168" height="301" fill="#626262"/>
<rect x="667" y="1000" width="168" height="301" fill="#6f6f6f"/>
<rect x="833" y="1000" width="168" height="301" fill="#6f6f6f"/>
<rect x="1000" y="1000" width="301" height="301" fill="#6f6f6f"/>
</g><g filter="url(#jsh)">
<ellipse cx="117" cy="496" rx="70" ry="56" fill="#212121"/>
<ellipse cx="216" cy="748" rx="77" ry="56" fill="#212121"/>
<ellipse cx="111" cy="864" rx="70" ry="49" fill="#292929"/>
<ellipse cx="339" cy="613" rx="42" ry="42" fill="#212121"/>
<ellipse cx="555" cy="572" rx="63" ry="56" fill="#2e2e2e"/>
<ellipse cx="572" cy="204" rx="77" ry="42" fill="#2e2e2e"/>
<ellipse cx="292" cy="245" rx="63" ry="56" fill="#333333"/>
<ellipse cx="245" cy="374" rx="56" ry="35" fill="#2e2e2e"/>
<ellipse cx="607" cy="397" rx="42" ry="77" fill="#333333"/>
<ellipse cx="508" cy="105" rx="49" ry="35" fill="#3b3b3b"/>
<ellipse cx="35" cy="350" rx="42" ry="42" fill="#333333"/>
<ellipse cx="164" cy="175" rx="42" ry="42" fill="#424242"/>
<ellipse cx="695" cy="800" rx="35" ry="56" fill="#2e2e2e"/>
<ellipse cx="789" cy="339" rx="42" ry="42" fill="#474747"/>
<ellipse cx="701" cy="631" rx="42" ry="42" fill="#424242"/>
<ellipse cx="479" cy="759" rx="56" ry="42" fill="#3b3b3b"/>
<ellipse cx="350" cy="935" rx="70" ry="42" fill="#3b3b3b"/>
<ellipse cx="864" cy="970" rx="42" ry="35" fill="#3b3b3b"/>
<ellipse cx="426" cy="310" rx="42" ry="42" fill="#404040"/>
<ellipse cx="23" cy="672" rx="35" ry="70" fill="#2e2e2e"/>
<ellipse cx="993" cy="432" rx="21" ry="42" fill="#474747"/>
<ellipse cx="409" cy="35" rx="140" ry="42" fill="#7a7a7a"/>
<ellipse cx="847" cy="245" rx="140" ry="140" fill="#7a7a7a"/>
<ellipse cx="818" cy="526" rx="105" ry="105" fill="#7a7a7a"/>
<ellipse cx="946" cy="759" rx="70" ry="84" fill="#7a7a7a"/>
<ellipse cx="759" cy="701" rx="70" ry="56" fill="#757575"/>
<ellipse cx="584" cy="905" rx="70" ry="56" fill="#6e6e6e"/>
<ellipse cx="88" cy="117" rx="84" ry="56" fill="#757575"/>
<ellipse cx="374" cy="175" rx="42" ry="42" fill="#757575"/>
<ellipse cx="76" cy="409" rx="56" ry="42" fill="#6e6e6e"/>
<ellipse cx="643" cy="292" rx="70" ry="42" fill="#757575"/>
<ellipse cx="660" cy="479" rx="42" ry="56" fill="#707070"/>
<ellipse cx="193" cy="584" rx="56" ry="42" fill="#666666"/>
<ellipse cx="18" cy="964" rx="28" ry="42" fill="#757575"/>
<ellipse cx="964" cy="58" rx="56" ry="56" fill="#7a7a7a"/>
</g></g></svg>
<rect x="1534.6" y="1291.7" width="530.9" height="531.7" fill="none" stroke="#333" stroke-width="2.2"/>
<linearGradient id="cbc" x1="0" y1="1" x2="0" y2="0">
<stop offset="0.000" stop-color="rgb(0, 0, 127)"/>
<stop offset="0.025" stop-color="rgb(0, 0, 156)"/>
<stop offset="0.050" stop-color="rgb(0, 0, 185)"/>
<stop offset="0.075" stop-color="rgb(0, 0, 214)"/>
<stop offset="0.100" stop-color="rgb(0, 0, 243)"/>
<stop offset="0.125" stop-color="rgb(0, 0, 255)"/>
<stop offset="0.150" stop-color="rgb(0, 25, 255)"/>
<stop offset="0.175" stop-color="rgb(0, 50, 255)"/>
<stop offset="0.200" stop-color="rgb(0, 76, 255)"/>
<stop offset="0.225" stop-color="rgb(0, 102, 255)"/>
<stop offset="0.250" stop-color="rgb(0, 127, 255)"/>
<stop offset="0.275" stop-color="rgb(0, 153, 255)"/>
<stop offset="0.300" stop-color="rgb(0, 178, 255)"/>
<stop offset="0.325" stop-color="rgb(0, 204, 255)"/>
<stop offset="0.350" stop-color="rgb(0, 229, 246)"/>
<stop offset="0.375" stop-color="rgb(20, 255, 226)"/>
<stop offset="0.400" stop-color="rgb(41, 255, 205)"/>
<stop offset="0.425" stop-color="rgb(61, 255, 185)"/>
<stop offset="0.450" stop-color="rgb(82, 255, 164)"/>
<stop offset="0.475" stop-color="rgb(102, 255, 143)"/>
<stop offset="0.500" stop-color="rgb(123, 255, 123)"/>
<stop offset="0.525" stop-color="rgb(143, 255, 102)"/>
<stop offset="0.550" stop-color="rgb(164, 255, 82)"/>
<stop offset="0.575" stop-color="rgb(185, 255, 61)"/>
<stop offset="0.600" stop-color="rgb(205, 255, 41)"/>
<stop offset="0.625" stop-color="rgb(226, 255, 20)"/>
<stop offset="0.650" stop-color="rgb(246, 245, 0)"/>
<stop offset="0.675" stop-color="rgb(255, 221, 0)"/>
<stop offset="0.700" stop-color="rgb(255, 198, 0)"/>
<stop offset="0.725" stop-color="rgb(255, 174, 0)"/>
<stop offset="0.750" stop-color="rgb(255, 151, 0)"/>
<stop offset="0.775" stop-color="rgb(255, 127, 0)"/>
<stop offset="0.800" stop-color="rgb(255, 103, 0)"/>
<stop offset="0.825" stop-color="rgb(255, 80, 0)"/>
<stop offset="0.850" stop-color="rgb(255, 56, 0)"/>
<stop offset="0.875" stop-color="rgb(255, 33, 0)"/>
<stop offset="0.900" stop-color="rgb(243, 9, 0)"/>
<stop offset="0.925" stop-color="rgb(214, 0, 0)"/>
<stop offset="0.950" stop-color="rgb(185, 0, 0)"/>
<stop offset="0.975" stop-color="rgb(156, 0, 0)"/>
<stop offset="1.000" stop-color="rgb(127, 0, 0)"/>
</linearGradient>
<rect x="625" y="731.5" width="27" height="530.5" fill="url(#cbc)" stroke="#222" stroke-width="2"/>
<line x1="652.0" y1="1197.0" x2="659.0" y2="1197.0" stroke="#222" stroke-width="2" />
<line x1="652.0" y1="1131.7" x2="659.0" y2="1131.7" stroke="#222" stroke-width="2" />
<line x1="652.0" y1="1066.4" x2="659.0" y2="1066.4" stroke="#222" stroke-width="2" />
<line x1="652.0" y1="1001.1" x2="659.0" y2="1001.1" stroke="#222" stroke-width="2" />
<line x1="652.0" y1="935.8" x2="659.0" y2="935.8" stroke="#222" stroke-width="2" />
<line x1="652.0" y1="870.5" x2="659.0" y2="870.5" stroke="#222" stroke-width="2" />
<line x1="652.0" y1="805.2" x2="659.0" y2="805.2" stroke="#222" stroke-width="2" />
<line x1="652.0" y1="739.9" x2="659.0" y2="739.9" stroke="#222" stroke-width="2" />
<text x="666.0" y="746.4" font-size="48.5" font-family="'DejaVu Sans', 'Liberation Sans', sans-serif" font-weight="normal" text-anchor="start" fill="#000" >8.6</text>
<text x="666.0" y="1209.7" font-size="48.5" font-family="'DejaVu Sans', 'Liberation Sans', sans-serif" font-weight="normal" text-anchor="start" fill="#000" >7.2</text>
<linearGradient id="cbd" x1="0" y1="1" x2="0" y2="0">
<stop offset="0.000" stop-color="rgb(0, 0, 127)"/>
<stop offset="0.025" stop-color="rgb(0, 0, 156)"/>
<stop offset="0.050" stop-color="rgb(0, 0, 185)"/>
<stop offset="0.075" stop-color="rgb(0, 0, 214)"/>
<stop offset="0.100" stop-color="rgb(0, 0, 243)"/>
<stop offset="0.125" stop-color="rgb(0, 0, 255)"/>
<stop offset="0.150" stop-color="rgb(0, 25, 255)"/>
<stop offset="0.175" stop-color="rgb(0, 50, 255)"/>
<stop offset="0.200" stop-color="rgb(0, 76, 255)"/>
<stop offset="0.225" stop-color="rgb(0, 102, 255)"/>
<stop offset="0.250" stop-color="rgb(0, 127, 255)"/>
<stop offset="0.275" stop-color="rgb(0, 153, 255)"/>
<stop offset="0.300" stop-color="rgb(0, 178, 255)"/>
<stop offset="0.325" stop-color="rgb(0, 204, 255)"/>
<stop offset="0.350" stop-color="rgb(0, 229, 246)"/>
<stop offset="0.375" stop-color="rgb(20, 255, 226)"/>
<stop offset="0.400" stop-color="rgb(41, 255, 205)"/>
<stop offset="0.425" stop-color="rgb(61, 255, 185)"/>
<stop offset="0.450" stop-color="rgb(82, 255, 164)"/>
<stop offset="0.475" stop-color="rgb(102, 255, 143)"/>
<stop offset="0.500" stop-color="rgb(123, 255, 123)"/>
<stop offset="0.525" stop-color="rgb(143, 255, 102)"/>
<stop offset="0.550" stop-color="rgb(164, 255, 82)"/>
<stop offset="0.575" stop-color="rgb(185, 255, 61)"/>
<stop offset="0.600" stop-color="rgb(205, 255, 41)"/>
<stop offset="0.625" stop-color="rgb(226, 255, 20)"/>
<stop offset="0.650" stop-color="rgb(246, 245, 0)"/>
<stop offset="0.675" stop-color="rgb(255, 221, 0)"/>
<stop offset="0.700" stop-color="rgb(255, 198, 0)"/>
<stop offset="0.725" stop-color="rgb(255, 174, 0)"/>
<stop offset="0.750" stop-color="rgb(255, 151, 0)"/>
<stop offset="0.775" stop-color="rgb(255, 127, 0)"/>
<stop offset="0.800" stop-color="rgb(255, 103, 0)"/>
<stop offset="0.825" stop-color="rgb(255, 80, 0)"/>
<stop offset="0.850" stop-color="rgb(255, 56, 0)"/>
<stop offset="0.875" stop-color="rgb(255, 33, 0)"/>
<stop offset="0.900" stop-color="rgb(243, 9, 0)"/>
<stop offset="0.925" stop-color="rgb(214, 0, 0)"/>
<stop offset="0.950" stop-color="rgb(185, 0, 0)"/>
<stop offset="0.975" stop-color="rgb(156, 0, 0)"/>
<stop offset="1.000" stop-color="rgb(127, 0, 0)"/>
</linearGradient>
<rect x="1369.7" y="726.7" width="27.299999999999955" height="532.0999999999999" fill="url(#cbd)" stroke="#222" stroke-width="2"/>
<line x1="1397.0" y1="740.8" x2="1404.0" y2="740.8" stroke="#222" stroke-width="2" />
<line x1="1397.0" y1="808.7" x2="1404.0" y2="808.7" stroke="#222" stroke-width="2" />
<line x1="1397.0" y1="877.4" x2="1404.0" y2="877.4" stroke="#222" stroke-width="2" />
<line x1="1397.0" y1="945.6" x2="1404.0" y2="945.6" stroke="#222" stroke-width="2" />
<line x1="1397.0" y1="1013.5" x2="1404.0" y2="1013.5" stroke="#222" stroke-width="2" />
<line x1="1397.0" y1="1082.2" x2="1404.0" y2="1082.2" stroke="#222" stroke-width="2" />
<line x1="1397.0" y1="1150.8" x2="1404.0" y2="1150.8" stroke="#222" stroke-width="2" />
<line x1="1397.0" y1="1219.5" x2="1404.0" y2="1219.5" stroke="#222" stroke-width="2" />
<text x="1404.0" y="1228.7" font-size="48.5" font-family="'DejaVu Sans', 'Liberation Sans', sans-serif" font-weight="normal" text-anchor="start" fill="#000" >3.5</text>
<linearGradient id="cbe" x1="0" y1="1" x2="0" y2="0">
<stop offset="0.000" stop-color="rgb(0, 0, 127)"/>
<stop offset="0.025" stop-color="rgb(0, 0, 156)"/>
<stop offset="0.050" stop-color="rgb(0, 0, 185)"/>
<stop offset="0.075" stop-color="rgb(0, 0, 214)"/>
<stop offset="0.100" stop-color="rgb(0, 0, 243)"/>
<stop offset="0.125" stop-color="rgb(0, 0, 255)"/>
<stop offset="0.150" stop-color="rgb(0, 25, 255)"/>
<stop offset="0.175" stop-color="rgb(0, 50, 255)"/>
<stop offset="0.200" stop-color="rgb(0, 76, 255)"/>
<stop offset="0.225" stop-color="rgb(0, 102, 255)"/>
<stop offset="0.250" stop-color="rgb(0, 127, 255)"/>
<stop offset="0.275" stop-color="rgb(0, 153, 255)"/>
<stop offset="0.300" stop-color="rgb(0, 178, 255)"/>
<stop offset="0.325" stop-color="rgb(0, 204, 255)"/>
<stop offset="0.350" stop-color="rgb(0, 229, 246)"/>
<stop offset="0.375" stop-color="rgb(20, 255, 226)"/>
<stop offset="0.400" stop-color="rgb(41, 255, 205)"/>
<stop offset="0.425" stop-color="rgb(61, 255, 185)"/>
<stop offset="0.450" stop-color="rgb(82, 255, 164)"/>
<stop offset="0.475" stop-color="rgb(102, 255, 143)"/>
<stop offset="0.500" stop-color="rgb(123, 255, 123)"/>
<stop offset="0.525" stop-color="rgb(143, 255, 102)"/>
<stop offset="0.550" stop-color="rgb(164, 255, 82)"/>
<stop offset="0.575" stop-color="rgb(185, 255, 61)"/>
<stop offset="0.600" stop-color="rgb(205, 255, 41)"/>
<stop offset="0.625" stop-color="rgb(226, 255, 20)"/>
<stop offset="0.650" stop-color="rgb(246, 245, 0)"/>
<stop offset="0.675" stop-color="rgb(255, 221, 0)"/>
<stop offset="0.700" stop-color="rgb(255, 198, 0)"/>
<stop offset="0.725" stop-color="rgb(255, 174, 0)"/>
<stop offset="0.750" stop-color="rgb(255, 151, 0)"/>
<stop offset="0.775" stop-color="rgb(255, 127, 0)"/>
<stop offset="0.800" stop-color="rgb(255, 103, 0)"/>
<stop offset="0.825" stop-color="rgb(255, 80, 0)"/>
<stop offset="0.850" stop-color="rgb(255, 56, 0)"/>
<stop offset="0.875" stop-color="rgb(255, 33, 0)"/>
<stop offset="0.900" stop-color="rgb(243, 9, 0)"/>
<stop offset="0.925" stop-color="rgb(214, 0, 0)"/>
<stop offset="0.950" stop-color="rgb(185, 0, 0)"/>
<stop offset="0.975" stop-color="rgb(156, 0, 0)"/>
<stop offset="1.000" stop-color="rgb(127, 0, 0)"/>
</linearGradient>
<rect x="627.8" y="1293.8" width="27.200000000000045" height="531.7" fill="url(#cbe)" stroke="#222" stroke-width="2"/>
<line x1="655.0" y1="1294.5" x2="662.0" y2="1294.5" stroke="#222" stroke-width="2" />
<line x1="655.0" y1="1399.6" x2="662.0" y2="1399.6" stroke="#222" stroke-width="2" />
<line x1="655.0" y1="1514.6" x2="662.0" y2="1514.6" stroke="#222" stroke-width="2" />
<line x1="655.0" y1="1629.6" x2="662.0" y2="1629.6" stroke="#222" stroke-width="2" />
<line x1="655.0" y1="1744.6" x2="662.0" y2="1744.6" stroke="#222" stroke-width="2" />
<text x="658.0" y="1312.3" font-size="48.5" font-family="'DejaVu Sans', 'Liberation Sans', sans-serif" font-weight="normal" text-anchor="start" fill="#000" >7.2</text>
<text x="658.0" y="1761.4" font-size="48.5" font-family="'DejaVu Sans', 'Liberation Sans', sans-serif" font-weight="normal" text-anchor="start" fill="#000" >6.4</text>
<linearGradient id="cbf" x1="0" y1="1" x2="0" y2="0">
<stop offset="0.000" stop-color="rgb(0, 0, 127)"/>
<stop offset="0.025" stop-color="rgb(0, 0, 156)"/>
<stop offset="0.050" stop-color="rgb(0, 0, 185)"/>
<stop offset="0.075" stop-color="rgb(0, 0, 214)"/>
<stop offset="0.100" stop-color="rgb(0, 0, 243)"/>
<stop offset="0.125" stop-color="rgb(0, 0, 255)"/>
<stop offset="0.150" stop-color="rgb(0, 25, 255)"/>
<stop offset="0.175" stop-color="rgb(0, 50, 255)"/>
<stop offset="0.200" stop-color="rgb(0, 76, 255)"/>
<stop offset="0.225" stop-color="rgb(0, 102, 255)"/>
<stop offset="0.250" stop-color="rgb(0, 127, 255)"/>
<stop offset="0.275" stop-color="rgb(0, 153, 255)"/>
<stop offset="0.300" stop-color="rgb(0, 178, 255)"/>
<stop offset="0.325" stop-color="rgb(0, 204, 255)"/>
<stop offset="0.350" stop-color="rgb(0, 229, 246)"/>
<stop offset="0.375" stop-color="rgb(20, 255, 226)"/>
<stop offset="0.400" stop-color="rgb(41, 255, 205)"/>
<stop offset="0.425" stop-color="rgb(61, 255, 185)"/>
<stop offset="0.450" stop-color="rgb(82, 255, 164)"/>
<stop offset="0.475" stop-color="rgb(102, 255, 143)"/>
<stop offset="0.500" stop-color="rgb(123, 255, 123)"/>
<stop offset="0.525" stop-color="rgb(143, 255, 102)"/>
<stop offset="0.550" stop-color="rgb(164, 255, 82)"/>
<stop offset="0.575" stop-color="rgb(185, 255, 61)"/>
<stop offset="0.600" stop-color="rgb(205, 255, 41)"/>
<stop offset="0.625" stop-color="rgb(226, 255, 20)"/>
<stop offset="0.650" stop-color="rgb(246, 245, 0)"/>
<stop offset="0.675" stop-color="rgb(255, 221, 0)"/>
<stop offset="0.700" stop-color="rgb(255, 198, 0)"/>
<stop offset="0.725" stop-color="rgb(255, 174, 0)"/>
<stop offset="0.750" stop-color="rgb(255, 151, 0)"/>
<stop offset="0.775" stop-color="rgb(255, 127, 0)"/>
<stop offset="0.800" stop-color="rgb(255, 103, 0)"/>
<stop offset="0.825" stop-color="rgb(255, 80, 0)"/>
<stop offset="0.850" stop-color="rgb(255, 56, 0)"/>
<stop offset="0.875" stop-color="rgb(255, 33, 0)"/>
<stop offset="0.900" stop-color="rgb(243, 9, 0)"/>
<stop offset="0.925" stop-color="rgb(214, 0, 0)"/>
<stop offset="0.950" stop-color="rgb(185, 0, 0)"/>
<stop offset="0.975" stop-color="rgb(156, 0, 0)"/>
<stop offset="1.000" stop-color="rgb(127, 0, 0)"/>
</linearGradient>
<rect x="1367.8" y="1293" width="27.5" height="531.4000000000001" fill="url(#cbf)" stroke="#222" stroke-width="2"/>
<line x1="1395.3" y1="1262.2" x2="1402.3" y2="1262.2" stroke="#222" stroke-width="2" />
<line x1="1395.3" y1="1371.7" x2="1402.3" y2="1371.7" stroke="#222" stroke-width="2" />
<line x1="1395.3" y1="1481.2" x2="1402.3" y2="1481.2" stroke="#222" stroke-width="2" />
<line x1="1395.3" y1="1590.6" x2="1402.3" y2="1590.6" stroke="#222" stroke-width="2" />
<line x1="1395.3" y1="1700.1" x2="1402.3" y2="1700.1" stroke="#222" stroke-width="2" />
<line x1="1395.3" y1="1809.6" x2="1402.3" y2="1809.6" stroke="#222" stroke-width="2" />
<text x="1400.0" y="1312.2" font-size="48.5" font-family="'DejaVu Sans', 'Liberation Sans', sans-serif" font-weight="normal" text-anchor="start" fill="#000" >4.8</text>
<text x="1400.0" y="1815.2" font-size="48.5" font-family="'DejaVu Sans', 'Liberation Sans', sans-serif" font-weight="normal" text-anchor="start" fill="#000" >3.8</text>
<linearGradient id="cbg" x1="0" y1="1" x2="0" y2="0">
<stop offset="0.000" stop-color="rgb(0, 0, 255)"/>
<stop offset="0.025" stop-color="rgb(12, 0, 242)"/>
<stop offset="0.050" stop-color="rgb(25, 0, 229)"/>
<stop offset="0.075" stop-color="rgb(38, 0, 216)"/>
<stop offset="0.100" stop-color="rgb(51, 0, 204)"/>
<stop offset="0.125" stop-color="rgb(63, 0, 191)"/>
<stop offset="0.150" stop-color="rgb(76, 0, 178)"/>
<stop offset="0.175" stop-color="rgb(89, 0, 165)"/>
<stop offset="0.200" stop-color="rgb(102, 0, 153)"/>
<stop offset="0.225" stop-color="rgb(114, 0, 140)"/>
<stop offset="0.250" stop-color="rgb(127, 0, 127)"/>
<stop offset="0.275" stop-color="rgb(140, 0, 114)"/>
<stop offset="0.300" stop-color="rgb(153, 0, 102)"/>
<stop offset="0.325" stop-color="rgb(165, 0, 89)"/>
<stop offset="0.350" stop-color="rgb(178, 0, 76)"/>
<stop offset="0.375" stop-color="rgb(191, 0, 63)"/>
<stop offset="0.400" stop-color="rgb(204, 0, 50)"/>
<stop offset="0.425" stop-color="rgb(216, 0, 38)"/>
<stop offset="0.450" stop-color="rgb(229, 0, 25)"/>
<stop offset="0.475" stop-color="rgb(242, 0, 12)"/>
<stop offset="0.500" stop-color="rgb(255, 0, 0)"/>
<stop offset="0.525" stop-color="rgb(242, 11, 0)"/>
<stop offset="0.550" stop-color="rgb(229, 23, 0)"/>
<stop offset="0.575" stop-color="rgb(216, 35, 0)"/>
<stop offset="0.600" stop-color="rgb(204, 46, 0)"/>
<stop offset="0.625" stop-color="rgb(191, 58, 0)"/>
<stop offset="0.650" stop-color="rgb(178, 70, 0)"/>
<stop offset="0.675" stop-color="rgb(165, 82, 0)"/>
<stop offset="0.700" stop-color="rgb(153, 93, 0)"/>
<stop offset="0.725" stop-color="rgb(140, 105, 0)"/>
<stop offset="0.750" stop-color="rgb(127, 117, 0)"/>
<stop offset="0.775" stop-color="rgb(114, 129, 0)"/>
<stop offset="0.800" stop-color="rgb(101, 141, 0)"/>
<stop offset="0.825" stop-color="rgb(89, 152, 0)"/>
<stop offset="0.850" stop-color="rgb(76, 164, 0)"/>
<stop offset="0.875" stop-color="rgb(63, 176, 0)"/>
<stop offset="0.900" stop-color="rgb(50, 188, 0)"/>
<stop offset="0.925" stop-color="rgb(38, 199, 0)"/>
<stop offset="0.950" stop-color="rgb(25, 211, 0)"/>
<stop offset="0.975" stop-color="rgb(12, 223, 0)"/>
<stop offset="1.000" stop-color="rgb(0, 235, 0)"/>
</linearGradient>
<rect x="2102.9" y="725.9" width="27.09999999999991" height="531.1999999999999" fill="url(#cbg)" stroke="#222" stroke-width="2"/>
<line x1="2130.0" y1="1257.1" x2="2137.0" y2="1257.1" stroke="#222" stroke-width="2" />
<line x1="2130.0" y1="991.5" x2="2137.0" y2="991.5" stroke="#222" stroke-width="2" />
<line x1="2130.0" y1="725.9" x2="2137.0" y2="725.9" stroke="#222" stroke-width="2" />
<text x="2143.0" y="754.3" font-size="48.5" font-family="'DejaVu Sans', 'Liberation Sans', sans-serif" font-weight="normal" text-anchor="start" fill="#000" >1.00</text>
<text x="2143.0" y="998.3" font-size="48.5" font-family="'DejaVu Sans', 'Liberation Sans', sans-serif" font-weight="normal" text-anchor="start" fill="#000" >0.75</text>
<text x="2143.0" y="1238.3" font-size="48.5" font-family="'DejaVu Sans', 'Liberation Sans', sans-serif" font-weight="normal" text-anchor="start" fill="#000" >0.50</text>
<linearGradient id="cbh" x1="0" y1="1" x2="0" y2="0">
<stop offset="0.000" stop-color="rgb(0, 0, 255)"/>
<stop offset="0.025" stop-color="rgb(12, 0, 242)"/>
<stop offset="0.050" stop-color="rgb(25, 0, 229)"/>
<stop offset="0.075" stop-color="rgb(38, 0, 216)"/>
<stop offset="0.100" stop-color="rgb(51, 0, 204)"/>
<stop offset="0.125" stop-color="rgb(63, 0, 191)"/>
<stop offset="0.150" stop-color="rgb(76, 0, 178)"/>
<stop offset="0.175" stop-color="rgb(89, 0, 165)"/>
<stop offset="0.200" stop-color="rgb(102, 0, 153)"/>
<stop offset="0.225" stop-color="rgb(114, 0, 140)"/>
<stop offset="0.250" stop-color="rgb(127, 0, 127)"/>
<stop offset="0.275" stop-color="rgb(140, 0, 114)"/>
<stop offset="0.300" stop-color="rgb(153, 0, 102)"/>
<stop offset="0.325" stop-color="rgb(165, 0, 89)"/>
<stop offset="0.350" stop-color="rgb(178, 0, 76)"/>
<stop offset="0.375" stop-color="rgb(191, 0, 63)"/>
<stop offset="0.400" stop-color="rgb(204, 0, 50)"/>
<stop offset="0.425" stop-color="rgb(216, 0, 38)"/>
<stop offset="0.450" stop-color="rgb(229, 0, 25)"/>
<stop offset="0.475" stop-color="rgb(242, 0, 12)"/>
<stop offset="0.500" stop-color="rgb(255, 0, 0)"/>
<stop offset="0.525" stop-color="rgb(242, 11, 0)"/>
<stop offset="0.550" stop-color="rgb(229, 23, 0)"/>
<stop offset="0.575" stop-color="rgb(216, 35, 0)"/>
<stop offset="0.600" stop-color="rgb(204, 46, 0)"/>
<stop offset="0.625" stop-color="rgb(191, 58, 0)"/>
<stop offset="0.650" stop-color="rgb(178, 70, 0)"/>
<stop offset="0.675" stop-color="rgb(165, 82, 0)"/>
<stop offset="0.700" stop-color="rgb(153, 93, 0)"/>
<stop offset="0.725" stop-color="rgb(140, 105, 0)"/>
<stop offset="0.750" stop-color="rgb(127, 117, 0)"/>
<stop offset="0.775" stop-color="rgb(114, 129, 0)"/>
<stop offset="0.800" stop-color="rgb(101, 141, 0)"/>
<stop offset="0.825" stop-color="rgb(89, 152, 0)"/>
<stop offset="0.850" stop-color="rgb(76, 164, 0)"/>
<stop offset="0.875" stop-color="rgb(63, 176, 0)"/>
<stop offset="0.900" stop-color="rgb(50, 188, 0)"/>
<stop offset="0.925" stop-color="rgb(38, 199, 0)"/>
<stop offset="0.950" stop-color="rgb(25, 211, 0)"/>
<stop offset="0.975" stop-color="rgb(12, 223, 0)"/>
<stop offset="1.000" stop-color="rgb(0, 235, 0)"/>
</linearGradient>
<rect x="2104.9" y="1291.7" width="27.09999999999991" height="531.7" fill="url(#cbh)" stroke="#222" stroke-width="2"/>
<line x1="2132.0" y1="1823.4" x2="2139.0" y2="1823.4" stroke="#222" stroke-width="2" />
<line x1="2132.0" y1="1557.6" x2="2139.0" y2="1557.6" stroke="#222" stroke-width="2" />
<line x1="2132.0" y1="1291.7" x2="2139.0" y2="1291.7" stroke="#222" stroke-width="2" />
<text x="2145.0" y="1315.4" font-size="48.5" font-family="'DejaVu Sans', 'Liberation Sans', sans-serif" font-weight="normal" text-anchor="start" fill="#000" >1.00</text>
<text x="2145.0" y="1573.0" font-size="48.5" font-family="'DejaVu Sans', 'Liberation Sans', sans-serif" font-weight="normal" text-anchor="start" fill="#000" >0.75</text>
<text x="2145.0" y="1807.8" font-size="48.5" font-family="'DejaVu Sans', 'Liberation Sans', sans-serif" font-weight="normal" text-anchor="start" fill="#000" >0.50</text>
<text x="731" y="953" font-size="51" font-family="'DejaVu Sans', 'Liberation Sans', sans-serif" text-anchor="middle" transform="rotate(-90 731 953)">log (signal)</text>
<text x="1464" y="960" font-size="51" font-family="'DejaVu Sans', 'Liberation Sans', sans-serif" text-anchor="middle" transform="rotate(-90 1464 960)">log (signal)</text>
<text x="731" y="1513.6" font-size="51" font-family="'DejaVu Sans', 'Liberation Sans', sans-serif" text-anchor="middle" transform="rotate(-90 731 1513.6)">log (signal)</text>
<text x="1462" y="1555.4" font-size="51" font-family="'DejaVu Sans', 'Liberation Sans', sans-serif" text-anchor="middle" transform="rotate(-90 1462 1555.4)">log (signal)</text>
<text x="2325" y="990.6" font-size="60" font-family="'DejaVu Sans', 'Liberation Sans', sans-serif" text-anchor="middle" transform="rotate(-90 2325 990.6)">X</text>
<text x="2325" y="1564.3" font-size="60" font-family="'DejaVu Sans', 'Liberation Sans', sans-serif" text-anchor="middle" transform="rotate(-90 2325 1564.3)">X</text>
<text x="59.0" y="1233.0" font-size="48.5" font-family="'DejaVu Sans', 'Liberation Sans', sans-serif" font-weight="normal" text-anchor="start" fill="#000" >548.268 nm</text>
<text x="804.0" y="1230.6" font-size="48.5" font-family="'DejaVu Sans', 'Liberation Sans', sans-serif" font-weight="normal" text-anchor="start" fill="#000" >548.268 nm</text>
<text x="61.0" y="1796.6" font-size="48.5" font-family="'DejaVu Sans', 'Liberation Sans', sans-serif" font-weight="normal" text-anchor="start" fill="#000" >568.022 nm</text>
<text x="802.7" y="1796.6" font-size="48.5" font-family="'DejaVu Sans', 'Liberation Sans', sans-serif" font-weight="normal" text-anchor="start" fill="#000" >568.022 nm</text>
<text x="62.0" y="796.4" font-size="64" font-family="'Liberation Sans', sans-serif" font-weight="bold" text-anchor="start" fill="#000" >(c)</text>
<text x="801.0" y="796.0" font-size="64" font-family="'Liberation Sans', sans-serif" font-weight="bold" text-anchor="start" fill="#000" >(d)</text>
<text x="64.0" y="1366.0" font-size="64" font-family="'Liberation Sans', sans-serif" font-weight="bold" text-anchor="start" fill="#000" >(e)</text>
<text x="803.0" y="1361.0" font-size="64" font-family="'Liberation Sans', sans-serif" font-weight="bold" text-anchor="start" fill="#000" >(f)</text>
<text x="1539.0" y="758.9" font-size="37" font-family="'DejaVu Sans', 'Liberation Sans', sans-serif" font-weight="normal" text-anchor="start" fill="#fff" >548.26</text>
<text x="1539.0" y="1324.4" font-size="37" font-family="'DejaVu Sans', 'Liberation Sans', sans-serif" font-weight="normal" text-anchor="start" fill="#fff" >568.02</text>
<text x="2051.0" y="788.2" font-size="64" font-family="'Liberation Sans', sans-serif" font-weight="bold" text-anchor="end" fill="#fff" >(g)</text>
<text x="2058.0" y="1373.1" font-size="64" font-family="'Liberation Sans', sans-serif" font-weight="bold" text-anchor="end" fill="#fff" >(h)</text>
</svg>
</body></html>
